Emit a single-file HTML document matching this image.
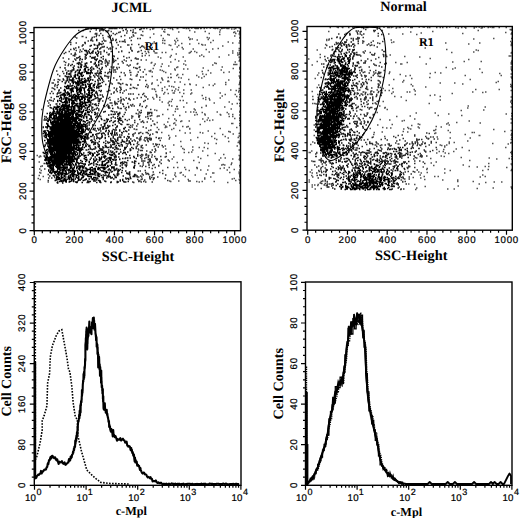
<!DOCTYPE html>
<html><head><meta charset="utf-8"><style>html,body{margin:0;padding:0;background:#fff;width:520px;height:518px;overflow:hidden}text{fill:#000}</style></head>
<body>
<svg width="520" height="518" viewBox="0 0 520 518" style="display:block" text-rendering="geometricPrecision">
<rect width="520" height="518" fill="#fff"/>
<defs><clipPath id="ctl"><rect x="34" y="27.5" width="206.5" height="203"/></clipPath><clipPath id="ctr"><rect x="307" y="26.5" width="205.3" height="204"/></clipPath></defs>
<path transform="scale(.5)" d="M365 56h3M388 56h3M412 56h3M456 57h3M304 58h3M323 58h3M462 58h3M467 58h3M299 59h3M328 59h3M344 59h3M439 60h3M378 61h3M409 63h3M474 62h3M284 63h3M326 63h3M328 64h3M356 64h3M388 64h3M438 64h3M468 64h3M466 65h3M417 67h3M470 67h3M306 68h3M438 69h3M334 69h3M337 70h3M284 71h3M321 71h3M468 72h3M299 75h3M376 75h3M413 75h3M417 76h3M325 77h3M352 77h3M379 78h3M383 78h3M378 79h3M415 79h3M328 81h3M354 81h3M393 80h3M324 81h3M348 81h3M425 81h3M307 84h3M350 84h3M455 84h3M420 85h3M464 86h3M324 86h3M304 87h3M311 87h3M328 87h3M362 87h3M396 87h3M349 88h3M378 88h3M293 89h3M402 89h3M337 90h3M404 90h3M409 90h3M340 91h3M356 91h3M444 92h3M286 93h3M286 94h3M353 94h3M288 96h3M303 95h3M363 95h3M385 98h3M435 97h3M343 99h3M365 98h3M424 98h3M294 99h3M297 99h3M411 99h3M295 103h3M306 102h3M464 102h3M289 103h3M307 103h3M381 103h3M388 103h3M296 105h3M417 104h3M478 105h3M323 105h3M330 105h3M379 105h3M392 105h3M309 106h3M312 106h3M377 106h3M464 106h3M474 106h3M291 107h3M351 108h3M402 110h3M456 110h3M474 110h3M289 111h3M297 111h3M341 111h3M398 112h3M365 114h3M406 113h3M315 114h3M339 114h3M339 114h3M437 114h3M320 116h3M349 119h3M291 120h3M356 122h3M369 122h3M340 124h3M469 124h3M302 125h3M428 126h3M301 126h3M431 127h3M309 128h3M323 128h3M366 128h3M466 129h3M469 129h3M472 129h3M370 130h3M424 130h3M307 131h3M336 132h3M321 133h3M354 134h3M443 134h3M352 135h3M405 136h3M305 137h3M465 137h3M348 138h3M366 138h3M374 138h3M288 139h3M319 140h3M323 141h3M349 140h3M441 140h3M300 141h3M415 141h3M297 142h3M299 143h3M326 143h3M403 143h3M303 144h3M457 144h3M330 145h3M420 146h3M446 145h3M291 149h3M340 148h3M404 148h3M354 149h3M364 149h3M411 149h3M352 151h3M392 151h3M303 153h3M407 153h3M341 155h3M396 154h3M335 155h3M340 155h3M356 155h3M356 155h3M322 156h3M361 156h3M402 156h3M323 158h3M376 159h3M313 160h3M324 160h3M456 160h3M335 162h3M334 163h3M336 163h3M348 164h3M359 164h3M320 165h3M450 165h3M303 166h3M302 168h3M378 168h3M428 168h3M368 169h3M379 169h3M417 170h3M450 169h3M391 170h3M315 171h3M337 172h3M425 171h3M295 172h3M342 173h3M328 174h3M346 174h3M356 175h3M405 175h3M323 177h3M303 178h3M307 178h3M350 178h3M308 179h3M333 179h3M381 180h3M460 180h3M355 180h3M366 180h3M323 181h3M343 181h3M471 181h3M348 182h3M310 183h3M476 184h3M328 185h3M358 185h3M345 186h3M347 186h3M366 187h3M382 186h3M439 186h3M335 187h3M326 188h3M380 188h3M311 189h3M449 189h3M469 189h3M312 191h3M403 191h3M363 193h3M443 192h3M472 193h3M312 194h3M318 195h3M304 195h3M410 195h3M439 196h3M405 197h3M417 197h3M306 198h3M343 199h3M410 199h3M318 200h3M418 200h3M359 201h3M365 201h3M337 203h3M341 203h3M323 204h3M389 204h3M457 204h3M372 206h3M335 206h3M427 206h3M473 207h3M463 208h3M337 210h3M337 211h3M411 211h3M342 212h3M411 212h3M352 213h3M353 213h3M366 214h3M448 214h3M402 215h3M350 218h3M354 218h3M387 218h3M387 218h3M461 218h3M82 219h3M334 219h3M308 220h3M308 220h3M389 220h3M312 221h3M349 223h3M370 224h3M380 224h3M386 224h3M433 224h3M478 224h3M391 225h3M403 225h3M453 225h3M408 228h3M456 228h3M464 229h3M324 229h3M393 229h3M439 229h3M345 230h3M388 230h3M409 230h3M440 230h3M358 231h3M314 232h3M317 232h3M313 233h3M457 233h3M464 233h3M415 236h3M478 236h3M336 237h3M348 238h3M468 237h3M404 238h3M413 240h3M424 240h3M351 241h3M418 241h3M362 242h3M377 242h3M360 243h3M408 243h3M313 245h3M334 244h3M348 246h3M346 247h3M462 247h3M464 247h3M327 249h3M399 249h3M350 250h3M338 251h3M330 252h3M364 253h3M375 253h3M332 254h3M372 254h3M313 255h3M329 255h3M472 255h3M346 257h3M378 257h3M439 257h3M378 258h3M316 259h3M342 259h3M358 261h3M415 262h3M456 263h3M459 264h3M322 265h3M399 265h3M369 266h3M379 266h3M404 266h3M428 267h3M479 267h3M465 268h3M444 269h3M336 271h3M350 272h3M422 273h3M449 273h3M338 275h3M394 275h3M455 276h3M475 275h3M317 276h3M321 276h3M428 277h3M337 278h3M432 279h3M380 280h3M360 283h3M456 283h3M477 282h3M475 285h3M408 286h3M415 287h3M431 287h3M346 290h3M329 292h3M473 292h3M361 293h3M384 294h3M397 295h3M407 295h3M364 297h3M414 297h3M330 298h3M367 299h3M384 300h3M477 300h3M404 302h3M382 304h3M339 304h3M367 305h3M376 305h3M429 307h3M446 309h3M73 311h3M414 311h3M79 312h3M80 313h3M77 314h3M346 314h3M395 314h3M440 316h3M449 316h3M400 317h3M464 318h3M343 318h3M364 320h3M386 321h3M437 320h3M77 324h3M353 325h3M397 325h3M462 326h3M445 329h3M448 330h3M461 329h3M442 330h3M416 332h3M80 333h3M457 335h3M346 335h3M354 335h3M368 335h3M392 335h3M393 336h3M439 337h3M447 336h3M393 337h3M78 338h3M467 339h3M370 339h3M400 340h3M414 340h3M453 340h3M81 341h3M377 341h3M458 345h3M78 345h3M349 346h3M361 345h3M424 346h3M80 346h3M359 346h3M426 346h3M411 348h3M389 350h3M348 350h3M365 350h3M77 351h3M85 353h3M350 353h3M369 353h3M420 354h3M408 356h3M75 357h3M467 357h3M345 358h3M408 358h3M463 358h3M79 359h3M375 359h3M470 361h3M356 362h3M338 362h3M376 362h3M379 362h3M427 363h3M340 363h3M392 363h3M403 363h3M95 364h3M397 364h3M454 365h3M478 241h3M478 156h3M478 212h3M479 358h3M478 138h3M478 106h3M479 222h3M477 114h3M477 272h3M477 359h3M478 167h3M477 109h3M478 108h3M477 152h3M478 360h3M478 251h3M479 162h3M478 353h3M477 319h3M479 118h3M477 282h3M478 361h3M478 76h3M477 177h3M478 366h3M478 316h3M477 122h3M478 189h3M478 145h3M478 165h3M479 165h3M477 199h3M478 350h3M478 351h3M479 101h3M478 354h3M478 137h3M477 347h3M478 320h3M478 207h3M477 101h3M478 340h3M477 311h3M478 287h3M478 230h3M479 362h3M479 71h3M478 120h3M478 82h3M478 75h3M478 64h3M479 144h3M478 200h3M479 266h3M478 285h3M478 331h3M478 194h3M477 285h3M478 283h3M477 86h3M477 267h3M477 344h3M478 66h3M477 169h3M478 272h3M478 63h3M479 288h3M478 237h3M478 155h3M478 82h3M478 135h3M478 247h3M477 97h3M477 115h3M479 166h3M478 312h3M477 68h3M477 267h3M477 181h3M479 334h3M447 56h3M382 56h3M305 57h3M304 57h3M395 57h3M477 56h3M442 57h3M419 56h3M390 57h3M305 56h3M452 56h3M372 57h3M448 56h3M353 57h3M285 57h3M285 57h3M407 57h3M426 56h3M444 56h3M392 57h3M429 57h3M453 57h3M371 57h3M354 57h3M376 57h3M372 56h3M401 56h3M432 56h3M456 57h3M444 56h3M335 56h3M354 56h3M470 57h3M339 57h3M376 57h3M343 57h3M400 57h3M292 57h3M434 57h3M448 56h3M367 56h3M306 57h3M287 57h3" stroke="#000" stroke-opacity="0.68" stroke-width="3" fill="none"/>
<path transform="scale(.5)" d="M207 56h3M243 57h3M181 58h3M201 58h3M278 59h3M191 60h3M202 60h3M204 59h3M250 59h3M265 60h3M280 59h3M198 60h3M200 60h3M265 60h3M156 61h3M165 61h3M205 61h3M216 61h3M245 61h3M260 61h3M198 62h3M213 62h3M253 62h3M179 63h3M211 63h3M221 63h3M214 64h3M239 64h3M265 64h3M236 65h3M264 65h3M192 67h3M252 66h3M269 66h3M270 66h3M190 67h3M200 67h3M225 67h3M232 67h3M189 68h3M229 69h3M281 70h3M192 70h3M221 71h3M265 70h3M197 71h3M204 71h3M248 71h3M266 72h3M163 73h3M164 73h3M187 74h3M191 73h3M215 73h3M241 73h3M149 74h3M219 74h3M262 74h3M171 75h3M183 75h3M217 75h3M152 76h3M205 76h3M224 77h3M258 76h3M182 78h3M274 77h3M279 77h3M231 79h3M181 79h3M225 80h3M180 81h3M206 80h3M248 80h3M182 81h3M222 81h3M230 81h3M261 81h3M175 82h3M184 82h3M208 82h3M210 82h3M203 83h3M238 83h3M243 83h3M246 83h3M249 84h3M140 85h3M168 85h3M169 85h3M219 85h3M232 85h3M151 86h3M169 87h3M205 87h3M140 89h3M262 89h3M276 89h3M164 90h3M165 90h3M235 90h3M254 90h3M256 90h3M283 92h3M163 92h3M207 93h3M282 93h3M156 94h3M156 95h3M206 94h3M224 94h3M240 94h3M213 95h3M260 95h3M279 95h3M150 96h3M219 96h3M146 97h3M231 97h3M165 98h3M216 98h3M220 98h3M260 98h3M140 99h3M147 99h3M151 101h3M159 100h3M262 101h3M207 101h3M281 101h3M242 102h3M263 102h3M137 103h3M162 103h3M207 103h3M221 103h3M242 103h3M276 103h3M158 104h3M236 104h3M274 104h3M130 105h3M212 105h3M257 105h3M149 106h3M127 107h3M141 108h3M283 107h3M217 108h3M148 109h3M150 109h3M215 109h3M216 110h3M145 111h3M148 112h3M226 112h3M283 112h3M227 113h3M246 113h3M257 115h3M257 115h3M270 116h3M125 116h3M252 116h3M225 117h3M234 117h3M269 117h3M275 118h3M136 118h3M148 118h3M272 118h3M210 119h3M247 120h3M226 120h3M281 120h3M230 121h3M230 121h3M261 121h3M209 122h3M211 122h3M217 122h3M226 122h3M251 122h3M127 123h3M145 123h3M212 123h3M227 123h3M243 123h3M130 125h3M213 125h3M225 125h3M209 126h3M216 126h3M245 126h3M214 127h3M274 127h3M136 128h3M235 128h3M273 128h3M214 130h3M259 130h3M129 130h3M135 131h3M253 130h3M210 131h3M256 132h3M211 133h3M221 134h3M226 134h3M278 134h3M119 135h3M225 135h3M232 135h3M237 135h3M266 135h3M277 135h3M128 136h3M129 136h3M225 136h3M270 136h3M273 137h3M233 138h3M272 137h3M218 139h3M130 140h3M226 140h3M229 140h3M279 140h3M258 141h3M112 142h3M124 143h3M124 143h3M218 143h3M285 144h3M226 144h3M230 144h3M275 144h3M209 145h3M215 145h3M219 145h3M241 145h3M259 145h3M260 145h3M247 146h3M126 147h3M214 147h3M114 149h3M273 149h3M249 150h3M260 150h3M208 151h3M249 151h3M118 152h3M208 152h3M210 152h3M272 152h3M271 152h3M213 153h3M216 153h3M238 153h3M280 154h3M285 154h3M215 156h3M226 156h3M115 159h3M259 158h3M240 159h3M262 159h3M107 160h3M118 160h3M232 160h3M278 160h3M216 162h3M290 161h3M206 163h3M114 164h3M115 164h3M103 166h3M105 166h3M220 166h3M235 166h3M236 166h3M237 167h3M244 167h3M223 168h3M240 168h3M109 169h3M115 169h3M210 169h3M240 169h3M251 169h3M260 169h3M292 169h3M253 170h3M260 170h3M274 170h3M275 170h3M113 171h3M108 172h3M217 173h3M290 173h3M238 174h3M113 175h3M227 176h3M240 175h3M265 175h3M268 176h3M294 175h3M103 176h3M106 177h3M232 177h3M240 177h3M259 177h3M260 177h3M272 177h3M108 179h3M241 179h3M231 180h3M251 180h3M218 181h3M239 181h3M247 182h3M102 183h3M213 183h3M233 183h3M227 184h3M239 185h3M226 186h3M244 186h3M244 186h3M99 187h3M105 187h3M256 188h3M286 187h3M221 188h3M260 188h3M265 188h3M284 189h3M276 189h3M203 190h3M288 192h3M204 193h3M205 194h3M291 194h3M291 194h3M101 195h3M218 195h3M240 195h3M273 196h3M281 195h3M251 196h3M201 197h3M215 197h3M257 197h3M235 198h3M241 199h3M245 198h3M256 198h3M266 198h3M294 198h3M241 199h3M98 200h3M101 201h3M219 200h3M247 200h3M259 200h3M101 201h3M289 201h3M94 202h3M204 202h3M239 202h3M241 202h3M228 203h3M235 203h3M286 203h3M96 206h3M219 206h3M220 206h3M222 206h3M228 206h3M230 206h3M240 206h3M232 207h3M254 207h3M279 208h3M233 208h3M244 208h3M214 209h3M229 209h3M245 209h3M264 209h3M206 211h3M260 210h3M212 211h3M223 211h3M278 211h3M95 212h3M216 212h3M262 212h3M267 212h3M292 212h3M208 213h3M246 213h3M256 213h3M283 213h3M234 214h3M251 215h3M256 215h3M290 215h3M235 216h3M249 217h3M239 217h3M241 217h3M196 218h3M300 219h3M251 220h3M274 220h3M196 221h3M281 221h3M277 224h3M294 225h3M302 225h3M238 225h3M249 225h3M281 225h3M296 225h3M299 225h3M194 226h3M279 226h3M271 227h3M294 227h3M297 227h3M302 227h3M193 228h3M275 228h3M193 229h3M247 229h3M294 229h3M198 231h3M278 231h3M302 231h3M193 232h3M200 233h3M262 232h3M276 232h3M299 232h3M88 233h3M192 233h3M199 233h3M264 233h3M294 233h3M277 234h3M276 234h3M290 234h3M262 236h3M295 237h3M88 237h3M257 239h3M300 238h3M278 239h3M268 241h3M253 241h3M284 242h3M304 242h3M197 243h3M284 243h3M281 244h3M293 244h3M268 245h3M286 245h3M274 248h3M307 248h3M256 249h3M264 250h3M308 249h3M189 251h3M260 251h3M301 251h3M272 252h3M257 254h3M263 254h3M263 254h3M285 254h3M259 255h3M291 256h3M189 257h3M267 258h3M271 259h3M272 259h3M300 260h3M188 260h3M296 261h3M191 262h3M312 264h3M311 264h3M280 265h3M291 265h3M293 265h3M313 265h3M269 266h3M277 266h3M266 268h3M276 267h3M284 267h3M295 267h3M184 269h3M264 269h3M304 268h3M299 269h3M184 270h3M185 270h3M298 271h3M265 272h3M281 273h3M292 275h3M279 275h3M291 275h3M298 276h3M311 275h3M272 276h3M273 276h3M288 276h3M295 277h3M293 277h3M301 277h3M316 277h3M277 278h3M280 278h3M280 278h3M280 279h3M293 279h3M298 279h3M301 279h3M267 280h3M287 280h3M300 280h3M278 281h3M294 281h3M319 281h3M269 282h3M289 282h3M295 283h3M274 284h3M273 287h3M305 288h3M310 288h3M275 289h3M276 289h3M313 289h3M317 289h3M317 289h3M291 290h3M283 291h3M311 291h3M323 291h3M273 292h3M281 292h3M307 293h3M271 294h3M315 294h3M325 294h3M281 295h3M284 296h3M271 297h3M275 298h3M309 298h3M276 300h3M276 300h3M303 300h3M310 301h3M280 301h3M283 301h3M292 302h3M274 304h3M299 304h3M308 304h3M299 305h3M301 305h3M331 306h3M331 307h3M291 308h3M282 309h3M303 310h3M283 310h3M284 310h3M290 310h3M292 310h3M279 311h3M296 311h3M282 313h3M295 313h3M308 313h3M320 313h3M331 313h3M302 314h3M329 314h3M280 315h3M291 315h3M295 315h3M288 317h3M310 317h3M282 318h3M298 318h3M313 318h3M295 319h3M299 319h3M298 321h3M312 320h3M321 320h3M335 320h3M282 322h3M285 322h3M288 322h3M288 322h3M299 322h3M337 322h3M297 323h3M294 325h3M318 324h3M301 325h3M285 326h3M296 326h3M321 327h3M87 327h3M307 329h3M285 330h3M296 330h3M297 330h3M304 331h3M316 331h3M83 332h3M279 332h3M316 332h3M283 333h3M290 333h3M334 335h3M297 335h3M309 335h3M303 337h3M88 338h3M289 341h3M324 341h3M275 342h3M279 342h3M305 344h3M290 345h3M318 345h3M294 347h3M324 347h3M283 348h3M291 348h3M295 348h3M95 349h3M296 349h3M306 349h3M305 349h3M285 350h3M330 350h3M303 351h3M98 352h3M272 352h3M273 352h3M280 352h3M298 353h3M273 354h3M276 354h3M282 354h3M314 354h3M102 356h3M108 355h3M302 355h3M96 356h3M298 356h3M306 356h3M307 356h3M306 357h3M329 357h3M274 359h3M283 358h3M299 358h3M281 359h3M305 359h3M288 360h3M95 361h3M334 361h3M276 362h3M278 362h3M276 363h3M286 363h3M264 364h3M281 364h3M290 364h3M303 364h3M266 365h3M229 57h3M227 57h3M224 56h3M251 58h3M203 57h3M190 56h3M217 57h3M191 57h3M227 57h3M223 57h3M190 56h3M230 57h3M232 57h3M281 57h3M269 57h3M222 57h3M173 57h3M174 57h3M238 56h3M171 56h3M175 57h3M170 56h3M219 57h3M222 57h3M202 58h3M209 56h3M187 57h3" stroke="#000" stroke-opacity="0.8" stroke-width="3" fill="none"/>
<path transform="scale(.5)" d="M192 79h3M192 81h3M197 86h3M200 88h3M187 89h3M197 89h3M202 89h3M188 90h3M196 90h3M181 91h3M193 91h3M179 92h3M179 92h3M194 94h3M203 94h3M200 96h3M190 97h3M193 97h3M187 98h3M198 98h3M178 99h3M168 101h3M171 101h3M175 102h3M185 102h3M194 102h3M171 103h3M184 103h3M177 104h3M190 105h3M196 104h3M200 104h3M173 105h3M182 105h3M190 106h3M177 106h3M184 106h3M195 107h3M173 107h3M173 108h3M180 107h3M192 109h3M200 108h3M170 110h3M169 109h3M193 109h3M171 111h3M158 113h3M194 112h3M179 113h3M205 113h3M169 114h3M189 114h3M156 115h3M171 116h3M183 115h3M186 115h3M187 115h3M201 115h3M152 116h3M153 116h3M171 116h3M182 116h3M185 116h3M159 117h3M169 118h3M188 118h3M191 119h3M193 118h3M205 118h3M163 119h3M189 119h3M150 120h3M158 120h3M191 121h3M198 121h3M201 122h3M162 124h3M196 123h3M180 124h3M181 124h3M203 124h3M157 125h3M189 125h3M196 125h3M155 126h3M158 126h3M169 127h3M172 126h3M153 127h3M156 127h3M172 127h3M189 127h3M143 129h3M160 128h3M187 128h3M201 128h3M202 128h3M156 129h3M161 129h3M196 129h3M162 130h3M169 130h3M191 130h3M196 131h3M140 131h3M147 132h3M161 132h3M169 132h3M171 132h3M190 132h3M192 132h3M160 133h3M167 133h3M182 134h3M155 134h3M155 134h3M160 134h3M173 135h3M145 135h3M156 135h3M161 135h3M171 135h3M174 135h3M193 135h3M203 135h3M180 136h3M146 137h3M180 137h3M185 137h3M197 137h3M186 138h3M202 138h3M143 140h3M146 140h3M154 140h3M182 140h3M199 140h3M135 142h3M140 142h3M153 141h3M139 142h3M194 142h3M142 143h3M150 143h3M201 143h3M199 144h3M132 145h3M149 145h3M140 146h3M183 146h3M193 146h3M197 146h3M138 147h3M189 147h3M190 147h3M198 147h3M201 147h3M132 148h3M136 148h3M137 148h3M196 148h3M138 149h3M140 150h3M191 150h3M129 152h3M186 151h3M196 152h3M194 152h3M196 152h3M131 153h3M135 153h3M137 154h3M141 153h3M200 153h3M134 154h3M140 154h3M188 154h3M133 155h3M196 156h3M201 155h3M133 157h3M125 158h3M197 157h3M202 157h3M203 157h3M137 158h3M133 160h3M199 160h3M126 160h3M194 160h3M204 160h3M134 161h3M123 163h3M131 162h3M195 162h3M189 163h3M129 165h3M130 165h3M203 165h3M195 166h3M129 167h3M198 167h3M199 167h3M188 168h3M195 168h3M196 169h3M194 170h3M187 171h3M128 173h3M196 173h3M201 172h3M192 173h3M198 173h3M130 174h3M120 176h3M187 175h3M192 176h3M195 175h3M196 176h3M117 180h3M187 181h3M197 181h3M201 181h3M116 182h3M191 183h3M200 183h3M120 185h3M192 185h3M114 186h3M115 186h3M118 186h3M190 186h3M113 188h3M193 188h3M187 189h3M187 190h3M199 190h3M119 191h3M194 191h3M188 192h3M112 193h3M115 193h3M189 193h3M194 195h3M191 196h3M107 198h3M189 197h3M186 199h3M195 198h3M198 198h3M199 198h3M184 200h3M105 202h3M197 202h3M198 201h3M195 202h3M197 203h3M184 208h3M196 207h3M190 208h3M188 209h3M99 210h3M195 211h3M191 211h3M182 214h3M215 213h3M216 213h3M215 214h3M99 215h3M184 215h3M216 215h3M101 216h3M193 216h3M216 216h3M218 216h3M224 217h3M182 218h3M191 218h3M187 219h3M184 221h3M180 222h3M209 223h3M221 222h3M224 223h3M182 225h3M206 224h3M228 224h3M232 224h3M99 225h3M189 225h3M188 225h3M93 227h3M236 227h3M98 227h3M98 227h3M190 227h3M238 227h3M226 229h3M229 228h3M234 228h3M188 229h3M189 229h3M216 230h3M221 229h3M225 229h3M235 229h3M236 230h3M180 232h3M181 233h3M234 233h3M244 233h3M91 234h3M181 234h3M225 234h3M181 235h3M190 235h3M229 236h3M238 235h3M221 236h3M93 237h3M201 237h3M234 237h3M236 238h3M238 237h3M240 237h3M178 238h3M180 238h3M182 238h3M212 238h3M238 238h3M202 239h3M215 239h3M249 239h3M87 240h3M90 240h3M91 240h3M183 240h3M207 241h3M213 240h3M213 240h3M236 240h3M239 241h3M208 241h3M213 241h3M221 241h3M242 241h3M187 242h3M229 242h3M235 243h3M181 243h3M213 243h3M218 243h3M227 243h3M177 244h3M244 244h3M211 245h3M225 245h3M174 246h3M178 246h3M209 247h3M237 246h3M207 247h3M240 248h3M208 249h3M229 249h3M242 249h3M253 249h3M177 250h3M184 250h3M201 250h3M214 251h3M224 251h3M208 252h3M218 252h3M233 252h3M206 253h3M215 253h3M216 253h3M233 253h3M85 254h3M85 255h3M203 254h3M232 254h3M215 255h3M249 255h3M173 256h3M199 256h3M205 256h3M210 256h3M213 256h3M230 256h3M177 257h3M186 257h3M194 257h3M211 257h3M246 257h3M199 258h3M204 258h3M206 258h3M247 258h3M174 259h3M185 259h3M225 259h3M176 260h3M196 260h3M228 260h3M231 260h3M238 260h3M256 260h3M200 262h3M211 261h3M216 261h3M238 262h3M87 262h3M87 263h3M223 262h3M250 262h3M86 263h3M210 263h3M217 263h3M246 263h3M252 263h3M179 264h3M179 264h3M180 265h3M228 264h3M242 265h3M181 265h3M223 265h3M198 266h3M205 266h3M215 266h3M232 266h3M243 266h3M85 267h3M195 267h3M202 267h3M207 267h3M220 267h3M223 267h3M228 267h3M232 267h3M256 268h3M172 268h3M173 268h3M192 268h3M190 269h3M202 269h3M215 269h3M227 270h3M238 270h3M171 270h3M184 270h3M209 270h3M222 270h3M229 270h3M233 270h3M242 270h3M174 272h3M192 272h3M203 272h3M180 273h3M182 273h3M216 273h3M225 273h3M240 274h3M254 273h3M187 274h3M193 275h3M203 274h3M202 274h3M237 274h3M247 274h3M257 274h3M174 275h3M196 276h3M209 275h3M240 275h3M176 276h3M201 276h3M225 276h3M234 276h3M256 276h3M187 278h3M192 277h3M198 277h3M209 277h3M220 277h3M228 278h3M252 277h3M174 278h3M198 278h3M234 279h3M260 278h3M243 280h3M182 280h3M220 280h3M230 280h3M234 281h3M253 280h3M180 281h3M189 281h3M223 281h3M257 282h3M197 283h3M210 282h3M222 282h3M221 282h3M223 282h3M225 282h3M230 282h3M231 283h3M252 282h3M263 282h3M183 283h3M183 283h3M186 284h3M226 283h3M243 283h3M246 283h3M170 284h3M183 284h3M214 284h3M224 284h3M224 284h3M247 284h3M248 284h3M257 284h3M182 285h3M190 285h3M206 285h3M218 285h3M225 285h3M227 285h3M241 285h3M259 285h3M187 286h3M194 286h3M215 286h3M227 286h3M233 286h3M257 286h3M259 286h3M171 287h3M210 287h3M228 287h3M234 287h3M236 287h3M251 287h3M188 288h3M189 288h3M227 289h3M254 288h3M260 289h3M174 289h3M186 289h3M195 289h3M224 289h3M241 289h3M266 289h3M170 290h3M197 290h3M220 290h3M243 290h3M178 291h3M209 291h3M231 291h3M236 291h3M171 292h3M176 292h3M195 293h3M210 292h3M221 292h3M221 292h3M238 292h3M243 292h3M253 292h3M170 293h3M177 293h3M178 293h3M197 293h3M211 293h3M189 294h3M196 294h3M204 294h3M210 294h3M213 295h3M219 294h3M221 294h3M229 294h3M232 295h3M251 295h3M190 296h3M206 295h3M215 295h3M219 295h3M224 296h3M225 296h3M248 295h3M262 295h3M179 296h3M248 296h3M265 297h3M198 297h3M200 298h3M231 297h3M180 298h3M186 298h3M188 298h3M203 298h3M204 298h3M233 298h3M235 298h3M248 298h3M249 298h3M249 298h3M259 298h3M176 299h3M183 299h3M216 300h3M228 299h3M239 299h3M171 300h3M172 300h3M197 301h3M200 300h3M260 300h3M198 301h3M203 301h3M246 301h3M259 301h3M196 302h3M206 302h3M220 302h3M192 303h3M206 303h3M211 303h3M224 303h3M232 303h3M240 304h3M254 304h3M177 304h3M216 304h3M231 304h3M254 304h3M175 305h3M180 305h3M221 305h3M223 305h3M246 305h3M249 305h3M166 306h3M226 307h3M227 306h3M249 306h3M237 307h3M244 307h3M236 308h3M228 309h3M251 309h3M274 309h3M224 310h3M230 311h3M258 311h3M274 312h3M227 313h3M228 314h3M266 313h3M231 314h3M236 314h3M267 315h3M228 316h3M244 317h3M250 316h3M254 316h3M259 316h3M249 317h3M271 317h3M238 318h3M231 319h3M238 319h3M229 320h3M229 320h3M230 320h3M230 321h3M254 321h3M268 322h3M270 323h3M244 324h3M248 324h3M263 324h3M230 325h3M241 325h3M251 325h3M267 325h3M240 326h3M244 326h3M244 326h3M252 326h3M240 327h3M245 327h3M246 327h3M268 327h3M276 327h3M230 328h3M229 329h3M230 330h3M232 330h3M243 330h3M249 330h3M252 330h3M251 332h3M268 331h3M239 332h3M251 333h3M267 333h3M227 334h3M243 335h3M266 335h3M226 336h3M244 336h3M244 336h3M267 336h3M232 337h3M227 338h3M231 338h3M235 339h3M239 339h3M229 340h3M230 340h3M227 341h3M237 341h3M243 341h3M234 342h3M250 342h3M223 343h3M235 343h3M221 344h3M258 344h3M217 345h3M242 345h3M252 346h3M257 345h3M217 346h3M234 346h3M217 347h3M253 347h3M226 349h3M233 348h3M236 348h3M255 348h3M258 348h3M268 349h3M205 350h3M210 350h3M216 350h3M228 351h3M258 350h3M270 350h3M208 351h3M233 351h3M234 351h3M267 351h3M213 352h3M218 353h3M245 352h3M265 353h3M268 353h3M268 352h3M268 352h3M213 353h3M215 353h3M219 353h3M205 354h3M216 354h3M229 354h3M230 354h3M259 354h3M203 355h3M204 355h3M223 355h3M229 355h3M231 355h3M193 356h3M205 357h3M212 356h3M220 356h3M222 356h3M250 356h3M185 358h3M189 358h3M194 357h3M254 357h3M256 357h3M260 357h3M192 358h3M226 358h3M251 358h3M183 359h3M187 359h3M205 359h3M244 359h3M256 359h3M192 360h3M239 360h3M196 361h3M197 361h3M244 361h3M174 362h3M186 362h3M189 362h3M199 362h3M208 362h3M210 363h3M239 362h3M177 363h3M179 363h3M233 363h3M246 363h3M250 364h3M255 363h3M175 364h3M175 365h3M198 364h3M221 364h3M235 364h3M247 364h3M173 365h3M176 365h3M192 365h3M200 365h3M220 365h3M233 365h3" stroke="#000" stroke-opacity="0.92" stroke-width="3" fill="none"/>
<path transform="scale(.5)" d="M169 137h3M169 137h3M168 138h3M159 139h3M169 140h3M176 139h3M159 140h3M167 140h3M168 140h3M175 140h3M157 141h3M180 141h3M170 143h3M181 144h3M157 144h3M167 144h3M172 144h3M172 144h3M163 145h3M175 145h3M180 145h3M155 146h3M161 146h3M161 146h3M161 146h3M174 147h3M178 146h3M158 147h3M172 147h3M175 147h3M175 147h3M179 147h3M160 148h3M162 148h3M179 148h3M149 149h3M154 149h3M150 150h3M154 151h3M161 151h3M165 151h3M147 152h3M149 152h3M161 152h3M163 153h3M178 152h3M157 153h3M148 154h3M149 154h3M180 154h3M145 156h3M157 156h3M156 156h3M175 156h3M178 156h3M144 157h3M151 157h3M155 157h3M168 157h3M174 157h3M175 158h3M161 158h3M162 158h3M164 158h3M157 159h3M180 159h3M138 160h3M140 160h3M143 160h3M146 160h3M170 160h3M175 160h3M175 161h3M179 160h3M184 160h3M141 161h3M161 161h3M168 161h3M154 162h3M158 162h3M169 162h3M172 162h3M172 162h3M177 162h3M144 163h3M147 164h3M157 164h3M157 163h3M163 163h3M164 163h3M165 164h3M166 164h3M136 164h3M143 164h3M149 164h3M154 164h3M160 165h3M164 165h3M177 164h3M151 165h3M167 165h3M169 165h3M170 165h3M169 165h3M145 166h3M150 166h3M154 166h3M161 166h3M182 167h3M145 167h3M154 167h3M156 167h3M156 167h3M158 168h3M174 168h3M139 168h3M151 168h3M157 168h3M158 168h3M163 168h3M179 168h3M156 169h3M165 169h3M169 169h3M177 169h3M154 170h3M163 170h3M165 170h3M169 170h3M177 170h3M179 171h3M186 170h3M134 171h3M144 171h3M156 171h3M170 171h3M135 172h3M137 172h3M139 172h3M142 172h3M142 172h3M148 173h3M152 172h3M160 172h3M185 172h3M132 173h3M136 173h3M160 174h3M170 173h3M176 173h3M132 174h3M152 174h3M171 174h3M179 174h3M159 175h3M163 175h3M136 176h3M143 176h3M145 176h3M149 176h3M151 176h3M151 176h3M154 176h3M154 176h3M165 176h3M168 176h3M178 176h3M182 176h3M132 177h3M133 177h3M135 177h3M142 177h3M158 177h3M176 177h3M180 177h3M128 179h3M139 178h3M139 178h3M141 178h3M152 179h3M154 179h3M160 178h3M161 178h3M161 179h3M167 178h3M182 178h3M141 179h3M144 179h3M143 179h3M157 179h3M157 179h3M176 179h3M139 180h3M141 180h3M161 181h3M167 180h3M174 180h3M176 181h3M185 180h3M127 181h3M129 182h3M141 181h3M153 181h3M157 181h3M158 181h3M159 181h3M161 181h3M178 181h3M182 181h3M141 182h3M144 182h3M152 182h3M160 182h3M185 182h3M185 182h3M186 182h3M134 184h3M141 183h3M145 183h3M152 183h3M158 183h3M159 183h3M168 183h3M129 184h3M157 184h3M158 184h3M177 184h3M168 186h3M176 185h3M183 185h3M132 186h3M135 186h3M141 186h3M141 186h3M153 186h3M154 186h3M154 186h3M160 186h3M181 186h3M125 187h3M128 187h3M137 187h3M137 187h3M160 187h3M177 187h3M127 188h3M163 188h3M172 188h3M123 189h3M133 190h3M135 189h3M148 189h3M154 189h3M157 189h3M168 190h3M175 189h3M177 189h3M183 189h3M121 190h3M124 190h3M129 190h3M133 190h3M138 190h3M142 190h3M146 190h3M167 190h3M167 190h3M127 191h3M129 191h3M150 191h3M151 191h3M177 191h3M180 191h3M182 192h3M140 192h3M146 192h3M155 192h3M160 193h3M164 192h3M174 192h3M137 193h3M138 193h3M144 193h3M151 193h3M152 193h3M159 193h3M162 193h3M170 193h3M120 194h3M127 194h3M131 195h3M142 194h3M148 194h3M157 194h3M164 195h3M166 194h3M168 194h3M170 194h3M173 194h3M180 194h3M180 194h3M121 195h3M142 196h3M148 195h3M153 195h3M153 195h3M155 195h3M156 195h3M162 195h3M167 195h3M166 195h3M167 196h3M178 195h3M181 195h3M129 196h3M130 196h3M133 196h3M133 196h3M134 196h3M143 196h3M145 196h3M145 196h3M146 196h3M149 196h3M162 196h3M163 196h3M167 196h3M175 196h3M118 197h3M118 197h3M122 197h3M155 197h3M178 197h3M126 198h3M126 198h3M131 198h3M135 198h3M138 198h3M142 198h3M149 198h3M152 198h3M153 198h3M157 198h3M162 199h3M163 198h3M169 198h3M122 199h3M130 199h3M131 199h3M136 199h3M136 200h3M139 199h3M148 200h3M158 199h3M159 199h3M168 199h3M174 199h3M176 200h3M135 200h3M150 201h3M175 200h3M174 200h3M114 201h3M118 201h3M131 201h3M138 201h3M142 201h3M145 201h3M158 201h3M159 201h3M177 201h3M181 201h3M120 202h3M130 202h3M137 202h3M143 202h3M145 202h3M146 202h3M152 202h3M159 203h3M167 202h3M175 202h3M114 203h3M121 203h3M128 203h3M129 203h3M132 203h3M137 203h3M144 204h3M163 204h3M129 204h3M133 204h3M159 205h3M161 204h3M163 204h3M168 204h3M175 204h3M177 204h3M179 204h3M123 205h3M123 205h3M126 205h3M128 205h3M132 205h3M137 205h3M143 205h3M147 205h3M160 205h3M168 206h3M170 205h3M171 205h3M174 205h3M180 205h3M131 206h3M133 206h3M142 206h3M143 206h3M160 207h3M165 207h3M164 206h3M166 206h3M169 206h3M180 206h3M142 207h3M144 207h3M148 207h3M153 207h3M157 207h3M157 207h3M111 208h3M112 208h3M118 208h3M130 208h3M143 209h3M145 208h3M151 208h3M157 208h3M163 209h3M177 209h3M124 209h3M130 209h3M129 209h3M137 209h3M143 209h3M143 210h3M152 210h3M169 209h3M170 209h3M126 210h3M127 210h3M132 210h3M151 210h3M159 210h3M161 210h3M170 210h3M180 210h3M123 211h3M123 211h3M129 211h3M131 212h3M134 211h3M136 211h3M137 211h3M150 211h3M149 211h3M153 211h3M162 211h3M162 211h3M170 211h3M172 211h3M113 212h3M121 212h3M126 212h3M126 212h3M135 212h3M148 212h3M154 212h3M157 212h3M166 212h3M178 212h3M178 212h3M114 213h3M117 213h3M121 214h3M123 213h3M124 213h3M128 213h3M131 214h3M134 213h3M134 213h3M135 214h3M142 213h3M145 213h3M147 213h3M153 213h3M157 213h3M158 213h3M159 213h3M163 214h3M166 213h3M167 213h3M176 213h3M107 214h3M108 214h3M135 214h3M138 214h3M140 214h3M146 214h3M162 214h3M173 215h3M176 214h3M107 215h3M111 215h3M113 215h3M116 215h3M125 215h3M134 215h3M134 215h3M135 216h3M148 215h3M155 215h3M157 215h3M158 216h3M112 216h3M120 216h3M127 216h3M129 217h3M131 216h3M142 216h3M148 216h3M155 216h3M158 216h3M169 216h3M169 216h3M105 217h3M128 217h3M128 217h3M146 217h3M157 217h3M158 217h3M162 217h3M162 217h3M173 218h3M105 218h3M110 218h3M112 218h3M118 218h3M124 218h3M128 218h3M128 218h3M133 218h3M132 218h3M136 218h3M137 219h3M141 218h3M146 218h3M148 218h3M157 218h3M161 218h3M114 219h3M121 219h3M127 219h3M134 219h3M140 219h3M146 219h3M145 220h3M145 219h3M148 219h3M161 219h3M177 219h3M106 220h3M124 220h3M123 220h3M128 221h3M133 220h3M138 220h3M138 220h3M141 220h3M145 220h3M147 220h3M155 221h3M156 220h3M157 220h3M166 220h3M113 221h3M118 221h3M119 221h3M127 221h3M141 221h3M144 221h3M146 221h3M147 221h3M148 221h3M152 221h3M155 221h3M156 221h3M155 222h3M158 221h3M170 221h3M172 221h3M117 222h3M119 222h3M128 222h3M128 222h3M131 222h3M136 222h3M143 222h3M143 222h3M158 222h3M105 223h3M107 223h3M122 223h3M123 223h3M133 223h3M141 223h3M145 223h3M146 223h3M146 223h3M148 223h3M149 223h3M163 223h3M165 223h3M174 223h3M111 224h3M113 224h3M114 224h3M123 224h3M123 224h3M129 224h3M130 224h3M131 224h3M136 225h3M145 224h3M156 224h3M158 224h3M160 224h3M162 224h3M176 224h3M177 224h3M113 225h3M117 225h3M124 225h3M129 225h3M137 225h3M138 226h3M138 225h3M142 225h3M142 225h3M145 225h3M162 225h3M174 225h3M176 225h3M103 226h3M106 226h3M118 226h3M120 226h3M123 226h3M128 226h3M132 227h3M135 226h3M135 226h3M139 226h3M147 226h3M148 226h3M152 226h3M154 226h3M154 226h3M163 226h3M169 227h3M170 226h3M104 228h3M105 227h3M109 227h3M114 227h3M133 227h3M141 227h3M142 227h3M145 227h3M145 227h3M154 227h3M102 228h3M112 228h3M116 228h3M117 228h3M123 228h3M123 228h3M124 228h3M128 228h3M131 228h3M131 229h3M132 228h3M134 228h3M135 228h3M139 228h3M141 228h3M143 228h3M150 229h3M151 228h3M151 228h3M154 228h3M158 229h3M168 228h3M99 229h3M102 229h3M111 229h3M118 229h3M117 229h3M118 229h3M120 229h3M127 229h3M128 229h3M129 229h3M134 229h3M134 229h3M135 230h3M136 229h3M138 229h3M140 229h3M145 229h3M152 229h3M157 229h3M161 229h3M161 229h3M170 229h3M175 229h3M98 231h3M105 230h3M117 230h3M119 230h3M121 230h3M122 231h3M122 230h3M131 230h3M131 230h3M134 230h3M150 230h3M150 230h3M155 231h3M157 230h3M159 230h3M177 230h3M101 231h3M107 231h3M110 231h3M110 231h3M117 231h3M123 232h3M125 231h3M124 231h3M127 231h3M140 231h3M140 231h3M144 231h3M163 231h3M167 231h3M98 232h3M99 232h3M100 233h3M111 232h3M111 232h3M122 232h3M124 232h3M128 232h3M130 233h3M132 232h3M134 232h3M137 232h3M151 232h3M152 233h3M156 232h3M158 232h3M158 233h3M98 233h3M108 234h3M116 233h3M119 233h3M128 233h3M128 233h3M132 233h3M135 233h3M136 233h3M142 233h3M143 233h3M144 233h3M144 233h3M145 233h3M145 233h3M151 233h3M154 233h3M160 233h3M171 233h3M172 233h3M106 234h3M115 234h3M118 235h3M120 234h3M120 234h3M124 234h3M123 235h3M126 234h3M132 234h3M133 235h3M134 234h3M142 234h3M143 234h3M145 234h3M151 234h3M153 234h3M162 234h3M166 234h3M99 235h3M101 235h3M106 235h3M112 235h3M117 235h3M117 236h3M117 235h3M121 235h3M128 235h3M129 236h3M138 235h3M139 235h3M143 235h3M146 236h3M149 235h3M153 235h3M153 235h3M97 236h3M98 236h3M109 236h3M110 236h3M110 236h3M112 236h3M112 236h3M113 236h3M114 236h3M116 236h3M115 236h3M120 236h3M121 236h3M129 236h3M130 236h3M135 236h3M137 236h3M137 236h3M140 236h3M140 236h3M149 236h3M155 236h3M166 236h3M172 236h3M103 237h3M108 237h3M114 237h3M120 237h3M121 237h3M122 237h3M124 237h3M134 238h3M135 237h3M135 237h3M137 238h3M139 237h3M138 237h3M138 237h3M142 237h3M142 237h3M147 237h3M152 237h3M154 237h3M104 238h3M106 238h3M110 238h3M117 238h3M126 239h3M129 238h3M128 239h3M128 238h3M130 238h3M130 238h3M130 238h3M131 238h3M131 238h3M133 238h3M133 238h3M134 238h3M134 238h3M135 238h3M138 238h3M140 238h3M143 238h3M150 238h3M152 238h3M158 238h3M157 238h3M97 239h3M108 239h3M113 239h3M117 239h3M119 239h3M121 239h3M123 239h3M123 239h3M124 239h3M126 239h3M127 239h3M128 239h3M131 239h3M132 239h3M133 240h3M133 239h3M134 239h3M136 239h3M138 240h3M138 239h3M139 240h3M138 239h3M138 239h3M139 239h3M143 239h3M146 239h3M149 239h3M151 239h3M159 239h3M162 239h3M95 240h3M97 240h3M100 240h3M116 240h3M117 240h3M118 240h3M122 240h3M121 241h3M123 240h3M125 240h3M125 240h3M126 240h3M132 240h3M132 240h3M133 240h3M134 240h3M136 240h3M138 240h3M161 240h3M119 241h3M120 241h3M120 241h3M122 242h3M125 241h3M127 241h3M127 241h3M128 241h3M129 241h3M131 241h3M137 241h3M138 241h3M140 241h3M140 242h3M145 241h3M151 241h3M156 241h3M157 241h3M157 241h3M161 241h3M172 241h3M174 241h3M94 242h3M95 243h3M100 242h3M106 242h3M108 242h3M111 242h3M111 243h3M114 242h3M120 242h3M120 242h3M122 243h3M122 242h3M123 242h3M131 242h3M131 242h3M132 242h3M135 242h3M136 242h3M140 242h3M140 242h3M144 242h3M145 242h3M147 242h3M148 242h3M150 242h3M150 242h3M165 242h3M104 243h3M106 243h3M106 243h3M108 243h3M113 243h3M116 243h3M120 243h3M120 243h3M120 243h3M123 243h3M128 243h3M134 243h3M133 243h3M134 243h3M136 244h3M136 243h3M136 243h3M138 243h3M140 243h3M141 243h3M147 243h3M147 243h3M147 243h3M147 243h3M152 243h3M159 243h3M159 243h3M165 243h3M167 243h3M101 245h3M109 244h3M109 244h3M111 245h3M112 244h3M113 244h3M115 244h3M121 244h3M122 244h3M121 244h3M122 244h3M124 245h3M126 244h3M125 244h3M127 244h3M128 244h3M129 244h3M129 244h3M131 244h3M131 244h3M134 244h3M135 244h3M136 244h3M137 244h3M137 244h3M138 244h3M152 244h3M152 244h3M153 244h3M159 244h3M169 244h3M100 245h3M103 245h3M108 245h3M113 245h3M113 245h3M114 245h3M115 245h3M114 245h3M122 245h3M123 245h3M124 245h3M125 245h3M126 245h3M130 245h3M139 245h3M139 245h3M139 245h3M140 245h3M141 245h3M142 245h3M143 245h3M143 245h3M150 245h3M92 247h3M101 246h3M103 247h3M106 246h3M106 246h3M112 246h3M112 246h3M113 246h3M115 246h3M117 246h3M118 246h3M122 246h3M124 246h3M123 246h3M124 247h3M126 246h3M127 246h3M127 246h3M128 246h3M128 246h3M129 247h3M131 246h3M132 246h3M133 246h3M138 246h3M139 246h3M140 246h3M141 246h3M143 246h3M149 246h3M150 246h3M153 246h3M156 246h3M101 247h3M104 247h3M111 247h3M114 247h3M119 247h3M121 247h3M121 247h3M126 247h3M127 247h3M130 247h3M131 247h3M133 247h3M135 248h3M135 247h3M136 247h3M137 247h3M137 247h3M142 247h3M146 247h3M146 247h3M147 247h3M149 247h3M152 247h3M153 247h3M154 247h3M154 247h3M155 247h3M159 248h3M159 247h3M93 248h3M94 248h3M101 248h3M105 248h3M106 248h3M109 249h3M110 248h3M111 248h3M114 249h3M116 248h3M117 248h3M119 248h3M118 249h3M120 248h3M120 248h3M120 248h3M122 248h3M122 249h3M124 248h3M125 248h3M126 248h3M125 248h3M128 248h3M131 248h3M131 248h3M131 248h3M131 248h3M132 248h3M133 248h3M134 248h3M133 248h3M137 248h3M138 248h3M140 248h3M140 248h3M154 248h3M154 248h3M159 248h3M161 249h3M166 248h3M168 249h3M172 248h3M104 249h3M105 250h3M106 250h3M106 249h3M107 249h3M108 249h3M109 249h3M111 249h3M118 249h3M120 249h3M121 249h3M123 249h3M126 249h3M128 249h3M129 249h3M130 249h3M129 250h3M130 249h3M130 249h3M132 249h3M132 249h3M133 249h3M137 250h3M138 249h3M140 249h3M139 249h3M141 249h3M142 249h3M148 249h3M156 249h3M165 249h3M169 249h3M108 251h3M113 250h3M115 250h3M114 250h3M118 251h3M123 250h3M123 250h3M124 250h3M125 250h3M127 250h3M127 250h3M127 250h3M129 250h3M129 250h3M129 250h3M131 250h3M134 250h3M134 250h3M136 251h3M136 250h3M139 250h3M140 250h3M139 250h3M141 250h3M141 250h3M146 250h3M147 250h3M149 250h3M151 251h3M154 251h3M155 250h3M157 250h3M164 250h3M94 251h3M95 251h3M103 251h3M105 251h3M104 251h3M106 251h3M107 252h3M110 251h3M116 251h3M119 251h3M121 251h3M122 251h3M124 252h3M131 251h3M133 251h3M133 251h3M134 251h3M136 251h3M137 251h3M140 251h3M139 251h3M142 251h3M143 252h3M142 252h3M145 251h3M147 251h3M149 251h3M150 251h3M156 251h3M161 251h3M169 251h3M105 252h3M109 252h3M109 253h3M110 253h3M112 252h3M112 252h3M113 252h3M116 252h3M124 252h3M125 252h3M125 252h3M125 252h3M127 252h3M127 252h3M129 253h3M129 252h3M131 252h3M132 252h3M137 252h3M143 252h3M151 252h3M152 252h3M157 252h3M160 252h3M169 252h3M170 252h3M171 252h3M173 252h3M95 253h3M97 253h3M105 254h3M109 253h3M109 253h3M111 253h3M114 253h3M113 253h3M120 253h3M122 253h3M125 253h3M124 253h3M129 253h3M129 253h3M131 253h3M130 253h3M130 253h3M132 253h3M134 253h3M134 254h3M134 253h3M134 253h3M136 253h3M136 253h3M136 253h3M137 253h3M138 253h3M140 253h3M142 253h3M146 253h3M147 253h3M146 253h3M147 253h3M160 254h3M162 253h3M163 253h3M166 253h3M166 253h3M90 254h3M92 254h3M100 254h3M101 254h3M101 254h3M104 254h3M105 254h3M106 254h3M110 254h3M111 254h3M111 254h3M115 254h3M115 255h3M119 254h3M121 254h3M122 254h3M125 254h3M126 254h3M126 255h3M127 254h3M128 254h3M131 254h3M131 254h3M131 255h3M133 254h3M134 254h3M134 254h3M135 254h3M138 254h3M142 254h3M145 254h3M147 254h3M147 254h3M151 254h3M154 254h3M156 254h3M157 254h3M160 254h3M164 254h3M100 256h3M105 255h3M106 255h3M106 255h3M108 255h3M108 255h3M108 255h3M111 255h3M116 255h3M115 255h3M118 255h3M118 255h3M120 255h3M119 255h3M122 255h3M121 255h3M123 255h3M123 255h3M124 255h3M123 255h3M125 255h3M124 255h3M125 256h3M125 255h3M125 255h3M128 255h3M131 255h3M131 255h3M133 255h3M137 255h3M136 255h3M137 256h3M137 255h3M139 255h3M140 255h3M140 255h3M140 255h3M142 256h3M142 255h3M143 255h3M154 255h3M158 255h3M159 255h3M170 255h3M93 256h3M99 256h3M102 256h3M104 256h3M107 256h3M108 256h3M109 256h3M114 257h3M114 256h3M116 256h3M118 256h3M118 256h3M118 256h3M119 256h3M120 256h3M121 256h3M121 256h3M122 256h3M122 256h3M123 256h3M124 256h3M125 256h3M127 257h3M128 256h3M127 256h3M130 256h3M130 256h3M130 256h3M133 256h3M133 256h3M135 256h3M134 256h3M136 257h3M135 257h3M139 256h3M141 256h3M145 256h3M145 256h3M147 256h3M149 256h3M149 256h3M153 256h3M156 256h3M159 256h3M160 256h3M162 256h3M162 256h3M104 257h3M105 257h3M105 258h3M108 257h3M110 257h3M114 257h3M115 257h3M115 257h3M115 257h3M115 257h3M116 257h3M119 257h3M119 257h3M122 257h3M122 257h3M123 257h3M125 258h3M126 257h3M127 257h3M131 257h3M133 257h3M135 257h3M135 257h3M136 257h3M137 258h3M136 258h3M137 257h3M138 257h3M142 257h3M146 257h3M145 257h3M146 258h3M154 257h3M156 257h3M158 257h3M99 258h3M100 258h3M102 259h3M102 259h3M108 258h3M112 258h3M114 258h3M113 258h3M116 259h3M118 258h3M120 258h3M120 258h3M124 258h3M123 258h3M124 258h3M125 258h3M125 258h3M127 258h3M127 258h3M127 258h3M129 258h3M130 258h3M130 258h3M132 258h3M133 259h3M134 258h3M135 258h3M134 259h3M135 258h3M134 258h3M137 258h3M137 258h3M137 258h3M141 259h3M143 258h3M142 258h3M143 258h3M146 258h3M146 258h3M153 258h3M154 258h3M155 258h3M161 258h3M162 258h3M163 258h3M165 258h3M171 258h3M103 259h3M108 259h3M110 259h3M114 259h3M115 259h3M114 259h3M114 259h3M114 259h3M118 260h3M123 259h3M122 259h3M122 259h3M123 259h3M122 260h3M125 260h3M125 259h3M127 259h3M128 259h3M128 259h3M128 259h3M129 259h3M128 259h3M132 259h3M132 259h3M133 259h3M137 259h3M138 259h3M139 259h3M139 260h3M140 259h3M144 259h3M143 259h3M148 260h3M152 259h3M153 259h3M157 259h3M101 260h3M108 261h3M109 260h3M111 260h3M113 260h3M114 260h3M116 260h3M119 260h3M121 260h3M121 260h3M123 260h3M124 260h3M128 260h3M129 260h3M129 260h3M133 261h3M134 260h3M135 260h3M135 260h3M135 260h3M137 260h3M137 260h3M140 260h3M141 260h3M143 260h3M143 260h3M145 260h3M147 260h3M148 260h3M152 260h3M152 260h3M157 260h3M156 260h3M169 260h3M93 261h3M106 261h3M107 261h3M106 261h3M109 261h3M108 262h3M111 262h3M111 261h3M112 261h3M115 261h3M115 261h3M118 261h3M118 261h3M118 261h3M120 261h3M120 261h3M123 261h3M123 261h3M123 261h3M124 261h3M123 261h3M128 261h3M128 262h3M131 261h3M131 261h3M132 261h3M134 261h3M134 261h3M136 261h3M136 261h3M139 261h3M138 261h3M139 262h3M139 262h3M141 261h3M145 261h3M148 261h3M149 261h3M150 261h3M162 261h3M165 261h3M169 261h3M89 262h3M95 262h3M102 262h3M105 262h3M105 262h3M108 262h3M109 262h3M110 262h3M113 262h3M114 262h3M115 262h3M114 262h3M114 262h3M116 262h3M121 262h3M122 262h3M123 262h3M123 262h3M124 262h3M128 262h3M128 262h3M127 262h3M129 262h3M131 262h3M130 262h3M132 262h3M133 262h3M133 262h3M138 262h3M138 262h3M140 262h3M142 262h3M143 262h3M146 262h3M147 262h3M149 262h3M154 263h3M156 262h3M162 262h3M99 263h3M103 263h3M109 264h3M110 263h3M111 263h3M112 263h3M112 263h3M118 263h3M118 263h3M120 264h3M119 263h3M119 263h3M119 264h3M121 263h3M122 263h3M122 263h3M124 263h3M126 263h3M127 263h3M126 263h3M128 263h3M128 263h3M131 263h3M131 263h3M132 263h3M134 263h3M135 263h3M136 263h3M139 263h3M140 264h3M141 263h3M141 264h3M142 263h3M142 263h3M143 264h3M143 263h3M145 263h3M149 264h3M152 263h3M152 263h3M155 264h3M157 263h3M156 263h3M158 263h3M160 263h3M164 264h3M96 265h3M97 264h3M104 264h3M104 264h3M105 264h3M108 264h3M108 264h3M109 264h3M111 264h3M112 264h3M112 264h3M111 265h3M116 264h3M117 264h3M117 265h3M119 264h3M120 264h3M119 265h3M121 264h3M123 264h3M123 264h3M125 264h3M129 264h3M130 264h3M131 264h3M132 264h3M132 264h3M131 264h3M132 265h3M134 264h3M133 264h3M134 264h3M136 264h3M137 264h3M139 264h3M138 264h3M141 264h3M142 264h3M145 264h3M148 264h3M149 264h3M149 264h3M166 264h3M168 264h3M88 265h3M97 265h3M101 265h3M103 265h3M109 265h3M111 265h3M115 265h3M117 265h3M119 265h3M120 266h3M120 266h3M120 265h3M120 265h3M122 265h3M121 265h3M124 266h3M124 265h3M126 265h3M126 265h3M129 265h3M128 265h3M131 265h3M130 265h3M132 265h3M133 265h3M137 265h3M137 266h3M136 265h3M136 265h3M137 265h3M137 265h3M138 266h3M141 265h3M145 265h3M148 265h3M147 265h3M161 265h3M163 265h3M164 265h3M164 265h3M165 265h3M91 266h3M96 266h3M99 266h3M110 267h3M112 266h3M113 266h3M115 266h3M116 266h3M117 266h3M118 266h3M117 266h3M118 267h3M119 266h3M120 266h3M122 266h3M122 266h3M124 266h3M124 266h3M125 266h3M125 266h3M128 266h3M129 266h3M129 266h3M130 266h3M133 266h3M134 266h3M134 266h3M135 266h3M136 266h3M135 266h3M137 266h3M137 266h3M139 266h3M139 266h3M140 266h3M140 266h3M140 266h3M142 266h3M143 266h3M145 267h3M145 266h3M146 266h3M151 266h3M152 266h3M97 267h3M102 267h3M103 267h3M105 267h3M105 267h3M108 267h3M109 268h3M113 267h3M114 267h3M114 267h3M116 267h3M117 267h3M119 268h3M118 267h3M120 267h3M121 267h3M121 267h3M121 268h3M124 267h3M124 267h3M124 267h3M124 267h3M125 267h3M126 267h3M127 267h3M128 267h3M129 267h3M129 267h3M129 267h3M130 268h3M130 267h3M131 267h3M132 267h3M136 267h3M137 267h3M137 267h3M137 268h3M138 267h3M141 267h3M140 268h3M144 267h3M147 268h3M149 268h3M153 267h3M154 267h3M156 267h3M159 267h3M161 267h3M89 268h3M90 268h3M105 268h3M107 268h3M108 268h3M107 268h3M110 268h3M112 268h3M112 268h3M114 268h3M115 269h3M114 268h3M116 268h3M117 268h3M121 268h3M120 268h3M121 268h3M122 269h3M122 268h3M122 268h3M123 269h3M123 268h3M122 268h3M123 268h3M124 268h3M124 268h3M128 268h3M130 268h3M131 269h3M133 268h3M133 268h3M135 268h3M135 268h3M137 268h3M138 268h3M141 269h3M141 268h3M147 268h3M148 268h3M150 268h3M152 268h3M152 268h3M153 268h3M155 268h3M156 268h3M157 268h3M163 268h3M171 268h3M94 269h3M96 269h3M99 269h3M105 269h3M107 269h3M108 269h3M111 270h3M112 269h3M114 270h3M114 269h3M116 269h3M117 269h3M124 269h3M124 270h3M125 269h3M124 269h3M125 269h3M125 269h3M128 269h3M129 269h3M131 269h3M133 270h3M133 269h3M134 270h3M137 269h3M136 269h3M140 269h3M139 269h3M140 269h3M141 269h3M142 269h3M144 269h3M145 270h3M146 269h3M150 270h3M169 269h3M91 270h3M90 270h3M102 270h3M104 270h3M107 270h3M109 270h3M109 270h3M108 270h3M112 271h3M117 270h3M116 271h3M117 270h3M118 270h3M119 270h3M118 270h3M120 270h3M121 270h3M126 270h3M126 270h3M127 271h3M128 270h3M132 270h3M131 270h3M133 270h3M134 270h3M134 270h3M136 270h3M139 270h3M139 270h3M141 270h3M141 270h3M146 270h3M147 270h3M158 270h3M90 271h3M91 271h3M96 272h3M96 272h3M100 271h3M103 272h3M107 271h3M110 271h3M111 271h3M110 271h3M112 271h3M114 271h3M114 271h3M117 271h3M117 271h3M120 271h3M123 271h3M123 271h3M123 271h3M124 271h3M126 271h3M126 271h3M125 271h3M125 271h3M127 271h3M127 271h3M129 271h3M130 271h3M129 271h3M130 271h3M131 271h3M134 271h3M135 271h3M136 271h3M138 271h3M138 271h3M137 271h3M140 271h3M141 271h3M144 271h3M147 271h3M147 271h3M153 271h3M155 271h3M160 271h3M87 272h3M92 272h3M91 272h3M92 272h3M98 272h3M103 272h3M108 272h3M108 272h3M109 272h3M109 272h3M111 272h3M112 272h3M112 272h3M114 272h3M115 272h3M116 272h3M118 272h3M119 272h3M120 273h3M120 272h3M122 272h3M123 272h3M123 272h3M125 272h3M125 272h3M127 272h3M127 272h3M128 272h3M129 272h3M132 272h3M132 272h3M132 272h3M134 272h3M136 272h3M136 272h3M136 272h3M138 272h3M138 272h3M139 272h3M140 272h3M141 272h3M140 272h3M142 272h3M141 273h3M141 272h3M143 272h3M143 272h3M143 272h3M144 272h3M145 272h3M147 272h3M149 272h3M149 272h3M151 272h3M150 273h3M152 273h3M152 273h3M157 272h3M158 273h3M158 273h3M158 272h3M161 272h3M162 272h3M166 272h3M91 273h3M96 273h3M98 273h3M99 273h3M102 273h3M102 273h3M108 273h3M110 273h3M112 273h3M111 273h3M113 274h3M116 273h3M117 273h3M117 273h3M120 274h3M123 273h3M124 273h3M124 273h3M126 273h3M127 273h3M133 273h3M137 273h3M136 273h3M137 273h3M138 273h3M139 273h3M144 273h3M145 273h3M149 273h3M150 273h3M150 273h3M153 273h3M163 273h3M163 273h3M168 273h3M170 273h3M100 274h3M104 274h3M104 274h3M105 274h3M106 274h3M106 274h3M106 274h3M110 274h3M112 274h3M111 274h3M113 274h3M114 274h3M113 274h3M115 275h3M116 274h3M117 274h3M119 274h3M119 274h3M120 274h3M121 274h3M125 275h3M125 274h3M125 274h3M125 274h3M126 274h3M126 274h3M127 274h3M128 274h3M133 274h3M132 274h3M133 274h3M135 274h3M136 274h3M137 274h3M137 274h3M144 274h3M147 274h3M146 275h3M147 274h3M150 275h3M150 274h3M153 274h3M155 274h3M154 274h3M159 275h3M160 274h3M161 274h3M162 274h3M89 275h3M91 275h3M105 275h3M106 276h3M108 275h3M109 275h3M109 275h3M112 275h3M114 275h3M114 275h3M116 275h3M118 275h3M118 275h3M119 275h3M120 275h3M121 275h3M122 276h3M123 275h3M122 275h3M123 275h3M123 275h3M124 275h3M123 275h3M124 275h3M125 275h3M124 275h3M125 276h3M128 275h3M128 275h3M129 275h3M130 275h3M132 276h3M134 275h3M134 275h3M136 275h3M137 275h3M137 275h3M137 275h3M137 275h3M141 275h3M144 276h3M147 275h3M148 276h3M148 275h3M149 275h3M149 275h3M153 275h3M153 275h3M169 275h3M98 277h3M98 276h3M113 276h3M112 276h3M117 276h3M118 276h3M118 276h3M120 276h3M120 276h3M120 276h3M120 276h3M122 276h3M123 276h3M124 276h3M124 276h3M123 276h3M124 277h3M124 276h3M125 276h3M125 276h3M125 277h3M126 276h3M127 276h3M127 276h3M129 276h3M128 276h3M129 276h3M131 276h3M130 276h3M131 276h3M131 276h3M132 276h3M133 277h3M137 276h3M139 276h3M141 276h3M142 276h3M145 277h3M145 276h3M146 276h3M163 276h3M167 276h3M98 277h3M101 277h3M102 277h3M108 277h3M109 277h3M108 277h3M109 277h3M112 277h3M112 277h3M113 278h3M115 277h3M115 277h3M114 277h3M116 277h3M120 277h3M119 277h3M121 277h3M120 277h3M123 277h3M123 278h3M124 278h3M128 277h3M128 277h3M130 277h3M130 277h3M131 277h3M130 277h3M133 277h3M135 277h3M135 277h3M138 277h3M141 277h3M141 277h3M144 277h3M144 277h3M150 277h3M150 277h3M152 277h3M161 277h3M165 277h3M166 277h3M93 278h3M98 278h3M99 278h3M102 278h3M102 278h3M102 279h3M104 278h3M106 278h3M107 278h3M107 278h3M108 278h3M108 278h3M109 278h3M110 278h3M110 278h3M116 278h3M115 278h3M116 278h3M116 278h3M117 278h3M118 278h3M120 278h3M120 278h3M123 278h3M122 278h3M125 278h3M125 278h3M127 278h3M127 278h3M126 278h3M126 278h3M128 278h3M127 278h3M128 278h3M130 278h3M130 278h3M131 278h3M131 278h3M132 279h3M132 279h3M134 278h3M133 278h3M136 279h3M138 278h3M139 278h3M142 278h3M142 278h3M144 278h3M145 278h3M145 278h3M148 278h3M150 278h3M151 278h3M156 278h3M161 278h3M167 278h3M168 278h3M95 279h3M94 279h3M98 280h3M106 279h3M110 279h3M111 279h3M112 279h3M113 279h3M115 280h3M115 279h3M119 279h3M120 279h3M122 279h3M123 279h3M125 279h3M124 279h3M124 279h3M125 279h3M125 279h3M125 279h3M127 280h3M128 279h3M128 279h3M127 279h3M129 279h3M129 279h3M130 279h3M134 279h3M136 279h3M135 279h3M137 279h3M137 279h3M141 279h3M141 279h3M144 279h3M144 279h3M148 279h3M150 280h3M151 279h3M154 279h3M155 279h3M161 279h3M95 280h3M94 280h3M97 280h3M99 281h3M101 280h3M101 280h3M104 280h3M103 280h3M105 280h3M106 281h3M110 280h3M111 280h3M111 280h3M111 280h3M111 280h3M111 280h3M112 280h3M116 280h3M117 280h3M117 280h3M120 280h3M121 280h3M122 280h3M123 280h3M124 280h3M125 280h3M127 280h3M127 280h3M126 281h3M128 280h3M128 280h3M130 280h3M131 281h3M132 280h3M132 280h3M132 280h3M132 280h3M133 280h3M133 280h3M134 280h3M136 281h3M135 280h3M135 280h3M136 280h3M140 280h3M142 280h3M142 280h3M142 280h3M142 280h3M144 280h3M144 280h3M147 280h3M148 281h3M147 280h3M155 280h3M88 281h3M94 281h3M96 281h3M98 281h3M97 281h3M103 281h3M103 281h3M108 281h3M110 282h3M111 281h3M112 281h3M114 281h3M114 281h3M115 281h3M115 281h3M118 281h3M117 281h3M118 281h3M118 281h3M119 281h3M118 281h3M121 281h3M122 281h3M123 281h3M124 281h3M126 281h3M127 282h3M128 281h3M129 281h3M128 281h3M131 281h3M130 282h3M133 281h3M134 282h3M136 281h3M137 281h3M138 281h3M138 281h3M139 281h3M139 281h3M140 282h3M141 281h3M141 281h3M142 281h3M144 281h3M148 281h3M149 281h3M151 281h3M156 281h3M168 281h3M96 282h3M101 282h3M103 282h3M106 282h3M106 282h3M110 282h3M111 282h3M111 282h3M111 282h3M113 282h3M115 282h3M115 282h3M116 282h3M119 282h3M118 282h3M120 282h3M120 282h3M121 282h3M121 282h3M122 282h3M122 282h3M123 282h3M123 282h3M125 282h3M124 282h3M126 282h3M125 282h3M129 282h3M130 282h3M130 282h3M130 282h3M132 282h3M132 282h3M131 282h3M132 283h3M132 282h3M134 282h3M133 282h3M133 282h3M137 282h3M139 282h3M143 282h3M145 282h3M150 282h3M153 282h3M154 282h3M167 282h3M100 283h3M102 283h3M102 283h3M103 283h3M106 283h3M107 283h3M106 283h3M108 283h3M109 283h3M110 283h3M110 283h3M112 283h3M116 283h3M117 283h3M118 284h3M117 283h3M118 284h3M119 283h3M120 283h3M120 283h3M123 284h3M124 283h3M125 283h3M126 284h3M127 284h3M130 283h3M129 283h3M130 283h3M132 283h3M132 283h3M135 283h3M135 283h3M135 283h3M136 283h3M137 283h3M138 283h3M138 283h3M139 284h3M140 283h3M141 283h3M144 283h3M157 283h3M157 283h3M164 283h3M165 283h3M169 283h3M94 284h3M97 284h3M103 284h3M109 284h3M111 284h3M117 285h3M119 284h3M120 284h3M122 284h3M122 284h3M123 284h3M126 284h3M128 284h3M131 284h3M133 284h3M134 284h3M133 284h3M133 284h3M136 284h3M137 284h3M137 284h3M139 285h3M142 284h3M143 284h3M148 284h3M149 285h3M150 284h3M154 284h3M160 284h3M95 285h3M96 285h3M98 285h3M99 285h3M102 285h3M104 285h3M107 285h3M106 286h3M107 285h3M107 285h3M108 285h3M108 285h3M110 285h3M110 285h3M113 285h3M113 285h3M113 285h3M116 285h3M116 285h3M118 285h3M120 285h3M121 285h3M123 285h3M125 285h3M124 285h3M125 285h3M126 285h3M125 285h3M128 285h3M128 285h3M130 285h3M131 285h3M130 285h3M131 285h3M131 285h3M131 285h3M131 285h3M132 286h3M133 285h3M135 285h3M135 285h3M136 285h3M139 285h3M139 285h3M140 285h3M143 285h3M144 285h3M146 285h3M149 286h3M151 285h3M152 285h3M154 285h3M155 286h3M156 285h3M160 285h3M91 286h3M97 286h3M98 286h3M99 286h3M101 286h3M109 286h3M113 286h3M115 286h3M116 286h3M117 286h3M119 286h3M119 286h3M120 286h3M122 286h3M122 286h3M123 286h3M125 287h3M125 286h3M125 286h3M125 286h3M127 286h3M127 286h3M127 286h3M128 286h3M133 286h3M132 286h3M134 286h3M133 286h3M135 286h3M135 286h3M136 286h3M140 286h3M143 286h3M144 286h3M147 286h3M149 286h3M156 286h3M159 286h3M97 287h3M98 287h3M100 287h3M108 287h3M108 288h3M111 287h3M110 287h3M113 287h3M113 287h3M114 288h3M114 287h3M115 288h3M116 287h3M117 287h3M118 287h3M118 287h3M118 287h3M120 287h3M121 287h3M122 287h3M123 287h3M123 287h3M128 287h3M129 287h3M132 287h3M132 287h3M135 287h3M137 287h3M141 287h3M142 287h3M149 287h3M151 288h3M152 287h3M93 288h3M96 288h3M97 288h3M98 288h3M103 288h3M105 288h3M105 288h3M107 288h3M108 288h3M108 288h3M110 288h3M110 288h3M109 288h3M114 288h3M114 288h3M114 288h3M116 288h3M117 288h3M118 289h3M117 288h3M118 288h3M120 289h3M120 288h3M121 288h3M123 288h3M123 289h3M125 288h3M128 288h3M127 288h3M128 288h3M135 288h3M135 288h3M140 288h3M142 288h3M153 288h3M99 289h3M102 289h3M109 289h3M112 289h3M112 289h3M113 290h3M116 289h3M117 289h3M117 289h3M118 289h3M117 289h3M119 289h3M119 289h3M120 289h3M121 289h3M121 289h3M123 289h3M124 289h3M127 290h3M127 289h3M128 289h3M131 289h3M131 290h3M133 289h3M135 289h3M136 289h3M136 290h3M138 289h3M140 289h3M140 290h3M140 289h3M142 289h3M146 289h3M155 290h3M164 289h3M89 290h3M98 290h3M98 290h3M100 290h3M102 290h3M104 290h3M105 291h3M106 290h3M114 290h3M114 290h3M115 290h3M116 290h3M117 291h3M117 290h3M118 290h3M119 290h3M121 290h3M121 290h3M123 290h3M126 290h3M129 290h3M129 290h3M131 291h3M132 290h3M133 290h3M133 290h3M135 290h3M138 290h3M137 290h3M141 290h3M146 291h3M151 290h3M152 290h3M159 290h3M99 291h3M99 292h3M106 291h3M109 291h3M109 291h3M109 291h3M109 291h3M111 291h3M112 291h3M114 291h3M114 291h3M116 291h3M116 291h3M118 291h3M118 291h3M123 291h3M124 291h3M125 291h3M128 291h3M129 291h3M129 291h3M130 291h3M129 291h3M131 291h3M132 291h3M136 291h3M135 291h3M137 291h3M136 291h3M137 291h3M138 291h3M138 292h3M148 291h3M148 291h3M149 291h3M152 291h3M156 291h3M94 292h3M96 292h3M96 292h3M98 292h3M98 292h3M99 292h3M109 292h3M110 292h3M116 292h3M117 292h3M120 292h3M119 292h3M120 292h3M120 292h3M120 292h3M122 292h3M123 292h3M123 292h3M125 292h3M125 292h3M127 292h3M131 292h3M132 292h3M133 292h3M133 293h3M133 292h3M133 292h3M134 293h3M139 292h3M139 292h3M140 292h3M142 292h3M142 292h3M146 292h3M148 292h3M147 292h3M148 292h3M152 292h3M156 292h3M88 293h3M96 293h3M97 294h3M100 293h3M106 293h3M107 293h3M107 293h3M109 293h3M109 293h3M111 293h3M112 293h3M112 293h3M114 293h3M114 293h3M118 294h3M118 293h3M118 293h3M119 293h3M121 293h3M120 293h3M122 293h3M122 293h3M123 294h3M123 293h3M125 293h3M127 293h3M126 293h3M127 293h3M131 293h3M130 293h3M130 293h3M132 293h3M132 293h3M133 293h3M132 293h3M134 293h3M135 293h3M134 293h3M135 293h3M136 293h3M136 293h3M137 293h3M136 293h3M138 293h3M137 293h3M139 293h3M138 293h3M142 294h3M147 293h3M146 293h3M147 293h3M152 293h3M101 294h3M105 294h3M111 294h3M113 294h3M112 294h3M114 294h3M116 294h3M117 294h3M117 294h3M118 294h3M122 294h3M123 294h3M126 294h3M125 294h3M126 294h3M128 294h3M128 294h3M127 294h3M129 295h3M129 294h3M129 294h3M130 294h3M133 294h3M132 294h3M132 294h3M134 294h3M137 294h3M136 294h3M139 294h3M140 294h3M140 294h3M143 294h3M145 294h3M147 295h3M156 294h3M100 296h3M101 295h3M103 295h3M106 295h3M110 295h3M111 296h3M111 295h3M111 296h3M111 295h3M111 295h3M113 296h3M114 295h3M114 296h3M116 295h3M116 295h3M117 295h3M119 295h3M121 295h3M123 296h3M124 295h3M124 295h3M125 295h3M127 295h3M128 296h3M128 295h3M129 295h3M129 295h3M131 295h3M135 295h3M136 295h3M136 295h3M136 295h3M142 295h3M144 295h3M145 295h3M152 295h3M153 295h3M153 295h3M167 295h3M96 296h3M98 296h3M100 296h3M107 296h3M109 296h3M113 296h3M115 296h3M115 296h3M119 296h3M120 296h3M121 296h3M121 296h3M122 296h3M122 296h3M123 296h3M123 296h3M132 296h3M133 296h3M133 296h3M137 296h3M138 296h3M138 296h3M139 296h3M139 296h3M140 296h3M143 297h3M145 296h3M147 296h3M148 296h3M151 296h3M158 296h3M162 296h3M98 297h3M100 297h3M101 297h3M102 297h3M102 297h3M106 297h3M106 297h3M109 298h3M108 297h3M110 298h3M112 298h3M122 297h3M122 297h3M124 297h3M126 297h3M126 297h3M127 297h3M129 297h3M131 297h3M131 297h3M133 297h3M135 297h3M136 297h3M139 297h3M139 298h3M139 297h3M142 297h3M143 297h3M143 297h3M143 298h3M145 297h3M149 298h3M152 297h3M156 297h3M159 297h3M100 298h3M102 298h3M102 298h3M103 298h3M105 298h3M106 298h3M107 298h3M108 298h3M112 298h3M112 298h3M113 298h3M115 298h3M116 298h3M116 298h3M117 298h3M117 298h3M119 298h3M119 298h3M119 298h3M121 298h3M120 298h3M120 298h3M122 298h3M126 298h3M128 298h3M128 299h3M128 298h3M136 298h3M137 298h3M141 298h3M144 298h3M147 298h3M151 298h3M152 298h3M156 299h3M93 299h3M102 299h3M106 299h3M107 299h3M109 299h3M110 299h3M110 299h3M111 299h3M111 299h3M112 300h3M116 299h3M119 299h3M119 299h3M119 299h3M121 299h3M121 299h3M122 299h3M122 299h3M124 299h3M127 299h3M127 299h3M130 299h3M130 299h3M130 299h3M133 299h3M134 299h3M134 299h3M135 299h3M135 299h3M139 299h3M140 299h3M145 299h3M149 299h3M150 299h3M158 300h3M164 299h3M92 300h3M92 300h3M96 300h3M98 300h3M99 300h3M102 300h3M104 300h3M104 300h3M105 301h3M106 300h3M105 300h3M105 300h3M107 300h3M107 300h3M109 300h3M110 300h3M110 300h3M110 300h3M111 301h3M112 300h3M113 301h3M114 300h3M119 300h3M121 300h3M122 300h3M124 300h3M125 301h3M128 300h3M131 300h3M131 301h3M131 300h3M132 300h3M132 300h3M136 300h3M137 301h3M139 300h3M141 300h3M142 301h3M142 300h3M142 300h3M144 301h3M144 300h3M145 300h3M154 300h3M160 300h3M161 300h3M91 301h3M100 301h3M103 301h3M108 301h3M109 301h3M115 301h3M116 301h3M116 301h3M118 301h3M117 302h3M117 301h3M120 301h3M121 301h3M123 301h3M123 301h3M125 301h3M124 301h3M126 301h3M126 301h3M126 301h3M127 301h3M127 301h3M131 301h3M131 301h3M132 301h3M132 301h3M132 301h3M137 301h3M137 301h3M144 301h3M146 302h3M145 301h3M146 302h3M153 301h3M155 301h3M97 302h3M99 302h3M102 302h3M106 302h3M106 302h3M114 302h3M113 302h3M117 302h3M116 302h3M118 302h3M119 303h3M123 302h3M125 302h3M126 302h3M130 302h3M131 302h3M131 302h3M131 302h3M132 302h3M134 302h3M134 302h3M135 302h3M137 302h3M140 302h3M141 302h3M141 302h3M147 302h3M158 302h3M100 303h3M102 303h3M105 303h3M112 303h3M113 303h3M113 303h3M116 303h3M116 303h3M117 303h3M118 303h3M119 303h3M121 303h3M123 303h3M130 303h3M130 303h3M132 303h3M131 303h3M136 303h3M146 303h3M146 303h3M148 303h3M94 304h3M98 304h3M100 305h3M100 304h3M103 304h3M111 304h3M113 304h3M116 304h3M117 304h3M117 304h3M118 304h3M121 304h3M125 304h3M128 304h3M128 304h3M134 304h3M135 304h3M136 304h3M138 304h3M139 304h3M142 305h3M146 304h3M147 304h3M147 304h3M151 304h3M158 304h3M194 305h3M209 304h3M85 305h3M90 305h3M93 305h3M93 306h3M100 305h3M103 305h3M107 305h3M115 305h3M116 305h3M115 305h3M115 305h3M117 305h3M121 305h3M121 305h3M125 305h3M126 305h3M127 305h3M127 305h3M128 305h3M129 305h3M130 306h3M132 305h3M133 306h3M132 305h3M135 305h3M135 305h3M136 305h3M136 305h3M138 306h3M139 305h3M139 305h3M141 305h3M146 305h3M146 305h3M146 305h3M194 305h3M202 305h3M204 305h3M210 305h3M89 306h3M99 306h3M112 306h3M115 306h3M117 306h3M116 306h3M119 307h3M121 306h3M124 306h3M126 306h3M127 307h3M131 306h3M132 306h3M134 306h3M137 306h3M138 306h3M139 306h3M142 306h3M143 306h3M146 306h3M154 306h3M188 306h3M206 306h3M87 307h3M87 307h3M102 307h3M103 307h3M103 307h3M103 307h3M107 307h3M107 307h3M107 307h3M111 307h3M112 307h3M113 307h3M115 307h3M118 307h3M119 307h3M123 307h3M125 307h3M125 307h3M127 307h3M129 307h3M130 307h3M134 307h3M135 307h3M137 307h3M138 307h3M138 307h3M142 307h3M149 307h3M161 307h3M178 307h3M180 307h3M184 307h3M214 307h3M94 308h3M100 308h3M103 308h3M107 309h3M109 308h3M112 308h3M114 308h3M115 308h3M117 308h3M119 308h3M124 308h3M128 308h3M129 308h3M140 308h3M141 308h3M144 308h3M145 308h3M147 308h3M148 308h3M149 308h3M179 308h3M197 308h3M206 308h3M100 309h3M104 309h3M105 309h3M117 309h3M120 309h3M119 309h3M120 309h3M120 309h3M122 309h3M122 309h3M122 309h3M123 309h3M123 309h3M125 309h3M129 309h3M131 309h3M131 309h3M135 309h3M136 309h3M144 309h3M143 309h3M149 309h3M152 310h3M153 309h3M162 309h3M164 309h3M184 309h3M185 309h3M195 309h3M203 309h3M218 309h3M223 309h3M91 310h3M106 310h3M112 310h3M115 310h3M116 310h3M118 310h3M121 310h3M122 310h3M124 310h3M124 310h3M125 310h3M125 310h3M126 310h3M127 310h3M126 310h3M129 310h3M129 310h3M137 310h3M144 311h3M145 310h3M150 310h3M162 310h3M170 311h3M175 310h3M185 310h3M192 310h3M220 310h3M220 310h3M222 311h3M91 311h3M103 311h3M106 311h3M109 311h3M114 311h3M120 311h3M121 311h3M121 311h3M123 311h3M123 311h3M123 311h3M124 311h3M125 311h3M126 311h3M127 311h3M127 311h3M132 311h3M136 311h3M149 311h3M167 311h3M185 311h3M193 311h3M87 312h3M91 312h3M92 312h3M93 312h3M102 313h3M102 312h3M105 312h3M105 312h3M107 312h3M111 312h3M111 312h3M113 312h3M116 312h3M116 312h3M115 312h3M117 312h3M117 312h3M118 312h3M117 312h3M118 312h3M120 312h3M124 312h3M123 312h3M125 312h3M126 312h3M127 312h3M131 312h3M131 312h3M137 312h3M140 312h3M159 312h3M158 312h3M167 312h3M183 312h3M207 312h3M209 312h3M91 313h3M99 313h3M109 313h3M109 313h3M109 313h3M112 313h3M114 313h3M114 313h3M116 314h3M122 313h3M121 314h3M122 313h3M128 313h3M130 313h3M130 313h3M134 313h3M134 313h3M136 314h3M136 313h3M136 313h3M136 313h3M137 313h3M138 313h3M139 313h3M140 313h3M140 313h3M141 313h3M141 313h3M145 313h3M147 313h3M156 313h3M189 314h3M209 313h3M210 313h3M100 315h3M101 314h3M105 314h3M105 314h3M107 314h3M108 314h3M110 314h3M111 314h3M113 315h3M115 314h3M121 314h3M121 314h3M121 314h3M122 314h3M125 314h3M125 314h3M127 314h3M128 314h3M127 315h3M127 314h3M129 314h3M130 314h3M130 314h3M134 314h3M139 314h3M143 314h3M144 314h3M147 314h3M153 314h3M153 314h3M156 314h3M197 315h3M202 314h3M202 314h3M206 314h3M89 315h3M91 315h3M94 315h3M97 315h3M99 315h3M106 315h3M108 315h3M112 315h3M114 315h3M114 315h3M116 315h3M118 315h3M119 315h3M122 315h3M126 315h3M127 315h3M128 315h3M131 315h3M134 315h3M134 315h3M135 315h3M136 315h3M137 315h3M137 315h3M138 315h3M139 315h3M139 315h3M141 315h3M143 316h3M143 315h3M169 315h3M170 315h3M171 315h3M202 315h3M218 315h3M220 315h3M220 315h3M102 316h3M104 316h3M107 317h3M109 316h3M109 316h3M113 316h3M119 316h3M119 316h3M121 316h3M122 316h3M123 316h3M125 316h3M128 316h3M130 316h3M132 316h3M134 316h3M135 316h3M135 317h3M139 316h3M140 316h3M148 316h3M156 316h3M181 316h3M198 316h3M208 316h3M215 316h3M221 316h3M95 318h3M102 317h3M108 317h3M110 317h3M111 317h3M112 317h3M116 318h3M116 317h3M123 317h3M123 317h3M125 317h3M127 317h3M128 317h3M127 317h3M135 317h3M135 317h3M136 317h3M136 318h3M138 317h3M142 317h3M150 317h3M167 317h3M198 317h3M218 317h3M90 318h3M91 318h3M98 318h3M101 318h3M102 319h3M107 318h3M107 318h3M109 318h3M112 318h3M113 319h3M114 318h3M115 318h3M118 318h3M119 318h3M120 318h3M119 318h3M120 318h3M121 318h3M125 318h3M128 318h3M128 318h3M131 319h3M135 318h3M137 318h3M139 318h3M144 318h3M145 318h3M148 318h3M153 318h3M186 318h3M191 318h3M200 318h3M201 318h3M212 318h3M218 318h3M220 318h3M99 319h3M113 319h3M114 319h3M115 319h3M120 319h3M120 319h3M120 319h3M123 319h3M123 320h3M127 319h3M128 319h3M128 319h3M129 319h3M130 319h3M130 319h3M129 319h3M131 319h3M132 319h3M137 319h3M136 319h3M140 319h3M142 319h3M146 319h3M151 319h3M169 319h3M172 319h3M179 319h3M186 319h3M192 319h3M224 319h3M226 319h3M88 320h3M93 320h3M97 320h3M105 320h3M109 320h3M111 320h3M116 320h3M118 320h3M120 320h3M122 321h3M126 321h3M126 320h3M132 320h3M138 320h3M142 320h3M143 320h3M144 321h3M144 320h3M191 320h3M197 320h3M210 320h3M219 321h3M226 320h3M226 320h3M90 321h3M90 321h3M95 322h3M99 321h3M105 321h3M107 321h3M109 321h3M118 321h3M121 321h3M123 321h3M124 321h3M127 321h3M132 321h3M136 321h3M137 321h3M141 321h3M146 321h3M160 321h3M172 321h3M198 321h3M215 321h3M101 322h3M103 322h3M104 322h3M108 322h3M109 322h3M112 322h3M112 322h3M114 322h3M115 322h3M116 322h3M121 322h3M124 322h3M127 322h3M128 322h3M133 322h3M135 322h3M138 322h3M140 322h3M143 322h3M143 322h3M152 322h3M177 323h3M187 322h3M189 322h3M208 322h3M97 323h3M102 324h3M104 323h3M115 324h3M115 323h3M116 323h3M119 323h3M122 323h3M128 323h3M133 323h3M133 323h3M140 323h3M141 323h3M144 323h3M146 323h3M147 323h3M163 323h3M170 323h3M194 324h3M203 323h3M206 323h3M222 323h3M105 324h3M112 324h3M114 324h3M114 325h3M114 324h3M120 325h3M125 324h3M126 324h3M131 324h3M133 324h3M133 324h3M134 324h3M136 324h3M137 324h3M177 324h3M216 324h3M92 325h3M96 325h3M99 325h3M105 325h3M108 325h3M111 325h3M111 326h3M111 325h3M116 325h3M117 326h3M122 325h3M123 325h3M126 325h3M132 326h3M142 325h3M153 325h3M177 325h3M186 325h3M203 325h3M212 326h3M214 325h3M221 325h3M98 326h3M106 326h3M110 327h3M121 326h3M126 326h3M131 326h3M131 326h3M132 327h3M139 326h3M155 326h3M155 326h3M160 326h3M186 326h3M91 327h3M94 327h3M97 327h3M103 328h3M104 327h3M107 328h3M109 327h3M113 327h3M121 327h3M132 327h3M136 327h3M136 327h3M137 327h3M138 327h3M143 327h3M150 328h3M157 327h3M163 327h3M182 327h3M182 327h3M203 327h3M93 328h3M94 328h3M110 328h3M115 328h3M117 328h3M118 328h3M121 328h3M123 328h3M129 328h3M139 328h3M156 328h3M166 328h3M169 328h3M179 328h3M191 328h3M207 329h3M210 328h3M222 328h3M101 329h3M104 329h3M104 329h3M121 329h3M128 329h3M129 329h3M131 330h3M133 330h3M133 329h3M136 329h3M138 329h3M145 329h3M151 330h3M169 329h3M193 329h3M203 329h3M99 330h3M99 330h3M101 330h3M101 330h3M106 331h3M107 330h3M112 330h3M115 330h3M117 330h3M119 330h3M120 330h3M124 330h3M129 330h3M131 330h3M137 330h3M141 330h3M145 330h3M176 330h3M186 330h3M197 330h3M201 330h3M209 331h3M96 332h3M97 331h3M97 331h3M102 331h3M111 331h3M113 332h3M117 332h3M125 331h3M124 331h3M138 331h3M203 331h3M206 331h3M214 331h3M219 331h3M94 332h3M97 332h3M99 332h3M103 332h3M113 332h3M114 332h3M126 332h3M155 332h3M157 332h3M160 332h3M163 332h3M167 332h3M110 333h3M115 333h3M118 333h3M118 333h3M125 333h3M125 333h3M133 334h3M140 333h3M191 333h3M215 333h3M222 334h3M97 334h3M105 334h3M117 334h3M120 334h3M129 334h3M129 334h3M131 334h3M132 334h3M133 334h3M133 334h3M142 334h3M152 334h3M153 334h3M157 334h3M165 334h3M166 334h3M213 334h3M224 334h3M99 335h3M112 335h3M117 335h3M118 335h3M123 335h3M125 335h3M124 335h3M125 336h3M126 335h3M128 335h3M133 335h3M147 335h3M157 335h3M160 335h3M164 335h3M182 335h3M183 335h3M195 335h3M201 335h3M204 335h3M206 335h3M207 335h3M225 335h3M225 335h3M99 336h3M102 336h3M105 336h3M114 336h3M114 336h3M120 336h3M121 336h3M125 336h3M129 336h3M131 336h3M131 336h3M133 336h3M139 336h3M142 336h3M164 336h3M166 336h3M170 336h3M179 336h3M197 337h3M198 336h3M207 336h3M210 336h3M222 336h3M99 337h3M114 337h3M117 337h3M118 337h3M126 337h3M127 337h3M126 337h3M130 337h3M130 337h3M139 337h3M144 337h3M144 337h3M152 337h3M158 337h3M171 337h3M179 337h3M185 338h3M189 337h3M188 337h3M205 337h3M217 338h3M101 339h3M103 338h3M114 339h3M116 338h3M117 338h3M118 338h3M118 338h3M126 338h3M126 339h3M156 338h3M172 338h3M171 338h3M187 338h3M194 338h3M206 338h3M102 340h3M106 339h3M118 339h3M124 339h3M127 340h3M136 339h3M145 339h3M173 339h3M174 339h3M177 339h3M179 339h3M195 339h3M208 339h3M96 340h3M120 340h3M122 340h3M122 340h3M124 341h3M132 340h3M133 340h3M135 340h3M137 340h3M143 340h3M158 340h3M163 340h3M173 340h3M181 340h3M183 340h3M189 340h3M199 340h3M215 340h3M220 340h3M96 342h3M105 341h3M119 341h3M129 341h3M136 341h3M136 341h3M138 341h3M139 341h3M146 342h3M148 341h3M153 341h3M164 341h3M166 341h3M202 342h3M219 341h3M100 342h3M113 342h3M125 342h3M136 342h3M140 342h3M148 342h3M161 342h3M162 342h3M170 342h3M172 342h3M180 342h3M185 342h3M184 342h3M186 342h3M205 342h3M100 343h3M107 343h3M110 343h3M114 343h3M118 343h3M129 343h3M140 343h3M141 343h3M143 343h3M148 343h3M149 343h3M154 343h3M191 343h3M190 343h3M206 343h3M211 343h3M104 344h3M108 344h3M115 344h3M123 344h3M131 344h3M161 345h3M166 344h3M169 344h3M170 344h3M187 344h3M209 344h3M98 345h3M111 345h3M117 345h3M139 345h3M147 345h3M156 346h3M160 345h3M178 345h3M179 345h3M187 345h3M194 346h3M211 345h3M213 345h3M101 346h3M102 346h3M109 346h3M117 346h3M120 346h3M122 347h3M123 346h3M125 346h3M124 346h3M131 347h3M136 346h3M143 346h3M145 346h3M154 346h3M155 347h3M165 346h3M166 347h3M188 346h3M190 346h3M194 346h3M209 346h3M101 347h3M114 347h3M119 348h3M122 347h3M128 347h3M129 347h3M129 347h3M144 347h3M158 347h3M159 347h3M172 347h3M183 347h3M195 347h3M115 348h3M134 348h3M146 348h3M164 348h3M168 348h3M170 348h3M176 349h3M180 348h3M187 348h3M198 348h3M117 350h3M124 349h3M131 349h3M148 349h3M156 349h3M160 349h3M170 349h3M176 349h3M177 349h3M179 349h3M183 349h3M184 349h3M112 350h3M116 350h3M122 350h3M129 350h3M139 350h3M140 350h3M144 350h3M151 350h3M152 350h3M173 350h3M174 350h3M189 350h3M193 350h3M195 350h3M196 350h3M105 351h3M127 351h3M146 351h3M153 351h3M154 351h3M163 351h3M201 351h3M107 352h3M114 353h3M121 352h3M127 353h3M136 352h3M166 352h3M166 352h3M174 352h3M197 353h3M140 353h3M144 353h3M151 353h3M156 353h3M176 353h3M179 353h3M181 353h3M195 353h3M115 354h3M122 354h3M130 354h3M135 354h3M146 354h3M156 354h3M165 354h3M112 355h3M114 355h3M116 355h3M118 355h3M124 355h3M135 356h3M137 355h3M138 355h3M151 355h3M156 355h3M164 355h3M186 355h3M187 355h3M190 355h3M115 356h3M117 356h3M117 356h3M137 356h3M137 356h3M141 356h3M154 356h3M162 356h3M181 356h3M111 358h3M115 358h3M117 358h3M122 357h3M127 357h3M127 357h3M156 357h3M184 358h3M120 358h3M127 358h3M130 358h3M145 358h3M149 358h3M161 358h3M171 358h3M177 358h3M112 359h3M112 360h3M113 359h3M116 359h3M129 359h3M137 359h3M141 359h3M143 359h3M170 359h3M112 360h3M126 360h3M125 360h3M128 360h3M129 360h3M156 360h3M159 360h3M168 360h3M109 361h3M120 362h3M126 361h3M126 361h3M131 361h3M131 361h3M146 361h3M146 361h3M155 361h3M165 361h3M122 363h3M125 362h3M130 362h3M139 363h3M142 362h3M146 362h3M118 363h3M130 363h3M138 363h3M146 363h3M153 364h3M114 364h3M131 364h3M137 364h3M150 364h3M152 364h3M113 365h3M114 366h3M124 366h3M152 365h3M163 365h3" stroke="#000" stroke-opacity="1.0" stroke-width="3" fill="none"/>
<path transform="scale(.5)" d="M659 55h3M675 55h3M797 55h3M915 56h3M1019 59h3M763 61h3M955 61h3M656 63h3M864 63h3M820 64h3M841 66h3M1010 65h3M804 68h3M924 67h3M776 68h3M832 69h3M986 77h3M657 78h3M767 78h3M857 78h3M946 78h3M652 79h3M657 79h3M656 80h3M781 80h3M652 81h3M845 84h3M786 84h3M782 85h3M849 86h3M890 86h3M958 86h3M936 88h3M650 89h3M649 96h3M849 96h3M892 99h3M633 100h3M951 100h3M955 101h3M946 104h3M902 105h3M639 109h3M779 110h3M1017 112h3M808 113h3M639 115h3M838 114h3M859 117h3M616 118h3M936 119h3M633 123h3M927 123h3M961 123h3M904 124h3M790 125h3M813 125h3M851 128h3M800 128h3M802 128h3M623 130h3M891 135h3M909 136h3M904 138h3M958 138h3M778 144h3M869 145h3M963 145h3M636 146h3M880 146h3M777 147h3M859 147h3M998 147h3M799 149h3M634 150h3M819 151h3M929 151h3M1001 151h3M810 152h3M858 155h3M629 157h3M822 157h3M939 159h3M786 159h3M806 161h3M995 163h3M804 164h3M879 166h3M908 166h3M991 165h3M924 168h3M777 170h3M821 169h3M636 170h3M824 172h3M850 174h3M633 175h3M765 177h3M784 177h3M827 179h3M950 179h3M997 179h3M769 181h3M777 181h3M829 182h3M623 183h3M944 184h3M785 184h3M813 184h3M818 184h3M970 184h3M964 185h3M762 186h3M782 187h3M903 187h3M829 189h3M634 189h3M868 190h3M761 191h3M859 191h3M788 193h3M624 193h3M879 193h3M801 194h3M625 199h3M624 199h3M879 200h3M811 201h3M765 203h3M624 207h3M628 207h3M857 207h3M631 208h3M758 212h3M935 212h3M969 214h3M769 215h3M768 216h3M934 216h3M773 219h3M966 220h3M921 221h3M753 225h3M831 226h3M869 226h3M896 228h3M1011 228h3M875 231h3M922 231h3M819 232h3M792 233h3M759 239h3M828 238h3M778 240h3M807 241h3M803 242h3M937 242h3M895 246h3M912 245h3M959 246h3M783 249h3M835 248h3M892 248h3M838 249h3M627 250h3M754 250h3M897 250h3M822 251h3M871 253h3M835 254h3M881 254h3M764 255h3M814 255h3M772 256h3M780 256h3M837 256h3M739 257h3M816 257h3M806 258h3M820 258h3M986 259h3M732 259h3M870 259h3M627 260h3M866 261h3M868 261h3M895 261h3M805 263h3M1008 263h3M763 264h3M814 264h3M947 265h3M747 265h3M899 265h3M943 265h3M870 266h3M868 267h3M746 269h3M929 269h3M958 271h3M627 271h3M957 271h3M768 273h3M745 274h3M873 274h3M899 276h3M939 276h3M874 278h3M934 282h3M624 284h3M897 284h3M907 285h3M897 287h3M984 287h3M1015 288h3M620 289h3M879 290h3M892 290h3M882 291h3M888 292h3M888 294h3M923 295h3M1010 295h3M911 298h3M872 299h3M886 299h3M937 301h3M622 302h3M877 303h3M885 303h3M906 303h3M617 305h3M619 305h3M872 306h3M889 306h3M896 307h3M881 312h3M887 313h3M921 315h3M860 317h3M977 316h3M992 318h3M1017 317h3M622 322h3M938 321h3M871 324h3M861 326h3M976 327h3M925 330h3M866 331h3M1023 330h3M937 333h3M969 333h3M976 333h3M845 334h3M953 334h3M1012 335h3M853 337h3M888 338h3M852 339h3M975 339h3M622 340h3M899 341h3M964 341h3M619 344h3M836 344h3M853 345h3M623 346h3M841 346h3M888 346h3M839 350h3M964 350h3M622 351h3M969 353h3M847 353h3M868 353h3M875 353h3M624 354h3M959 354h3M825 355h3M840 356h3M848 359h3M617 360h3M884 360h3M914 360h3M914 363h3M945 363h3M617 364h3M987 364h3M1002 364h3M970 365h3M816 368h3M957 368h3M635 369h3M828 369h3M623 370h3M628 370h3M634 371h3M915 372h3M849 373h3M623 374h3M832 376h3M985 376h3M953 377h3M629 378h3M629 378h3M894 378h3M907 378h3M830 379h3M1020 112h3M1021 138h3M1022 105h3M1022 207h3M1022 318h3M1022 308h3M1021 134h3M1021 285h3M1022 77h3M1021 279h3M1021 328h3M1021 181h3M1022 156h3M1020 286h3M1021 106h3M1021 89h3M1020 305h3M1021 341h3M1022 105h3M1022 174h3M1022 232h3M1021 214h3M1021 154h3M1021 270h3M1021 148h3M1022 171h3M1022 275h3M1021 214h3M1021 261h3M1022 377h3M1020 204h3M1022 86h3M1021 194h3M1021 128h3M1021 68h3M1022 207h3M1022 313h3M1022 59h3M1020 169h3M1021 60h3M1021 125h3M1022 271h3M1022 304h3M1022 376h3M1021 246h3M1021 91h3M1022 122h3M1021 59h3M1022 307h3M1021 201h3M1022 141h3M1022 267h3M1022 227h3M1020 173h3M1021 238h3M1022 303h3M1020 83h3M1022 66h3M1021 374h3M1022 339h3M815 54h3M837 54h3M792 55h3M707 55h3M791 56h3M777 55h3M898 54h3M858 55h3M774 55h3M947 55h3M928 54h3M910 55h3M799 55h3M845 54h3M979 54h3M847 54h3M777 54h3M984 54h3M805 54h3M758 55h3M673 54h3M957 54h3M872 55h3M975 55h3M872 54h3M684 55h3M947 56h3M922 55h3M961 56h3M884 55h3M962 56h3M930 55h3M879 55h3M854 55h3M823 55h3M781 55h3M1011 55h3M767 54h3M766 54h3M774 55h3M820 55h3M930 55h3M967 54h3M892 54h3M930 56h3M784 54h3M963 55h3M951 54h3M892 55h3M683 54h3M997 55h3M696 55h3M704 55h3M986 55h3M983 55h3" stroke="#000" stroke-opacity="0.68" stroke-width="3" fill="none"/>
<path transform="scale(.5)" d="M715 54h3M722 55h3M726 57h3M753 58h3M730 59h3M746 61h3M749 61h3M711 62h3M715 62h3M719 64h3M721 63h3M747 63h3M713 65h3M755 67h3M691 67h3M698 67h3M676 68h3M714 68h3M719 68h3M726 68h3M688 69h3M699 69h3M762 69h3M698 70h3M722 70h3M755 72h3M672 75h3M673 74h3M679 75h3M714 75h3M725 75h3M679 77h3M717 76h3M662 77h3M701 77h3M701 77h3M705 77h3M716 77h3M705 79h3M711 78h3M713 78h3M715 78h3M705 81h3M715 82h3M724 82h3M745 82h3M715 83h3M726 83h3M764 83h3M671 85h3M741 85h3M675 86h3M724 86h3M754 86h3M673 87h3M715 87h3M715 87h3M758 87h3M672 88h3M705 88h3M706 88h3M736 88h3M668 89h3M733 90h3M742 90h3M652 91h3M708 91h3M739 91h3M747 91h3M663 93h3M658 94h3M753 94h3M670 96h3M672 96h3M664 99h3M663 100h3M763 100h3M729 102h3M766 103h3M768 103h3M667 104h3M725 104h3M712 105h3M727 106h3M739 105h3M748 107h3M742 109h3M765 109h3M661 110h3M713 110h3M716 110h3M718 110h3M744 110h3M747 110h3M766 110h3M770 110h3M660 112h3M720 112h3M648 113h3M766 113h3M772 113h3M654 116h3M756 115h3M734 118h3M750 118h3M649 119h3M656 121h3M721 121h3M741 121h3M651 122h3M729 122h3M730 122h3M729 123h3M715 124h3M759 125h3M715 126h3M726 126h3M729 126h3M770 126h3M716 127h3M746 128h3M768 128h3M771 127h3M642 128h3M646 128h3M655 129h3M748 130h3M653 131h3M751 131h3M757 132h3M646 134h3M652 135h3M717 135h3M720 134h3M737 134h3M762 134h3M722 139h3M739 141h3M643 141h3M718 141h3M750 141h3M767 141h3M722 142h3M728 144h3M746 144h3M756 144h3M644 145h3M719 146h3M725 145h3M756 145h3M758 145h3M757 145h3M760 145h3M644 146h3M737 146h3M750 146h3M755 147h3M758 147h3M646 148h3M747 148h3M754 148h3M721 150h3M745 151h3M728 151h3M722 152h3M731 152h3M755 152h3M758 153h3M760 153h3M729 154h3M765 155h3M641 155h3M741 155h3M723 158h3M731 159h3M736 159h3M741 161h3M755 161h3M757 162h3M717 163h3M730 163h3M759 164h3M724 165h3M732 165h3M726 166h3M759 166h3M733 167h3M714 168h3M714 168h3M721 168h3M755 168h3M721 169h3M726 169h3M756 170h3M757 170h3M723 171h3M712 173h3M723 173h3M732 173h3M755 173h3M759 175h3M638 175h3M720 175h3M732 175h3M755 175h3M759 175h3M713 176h3M742 176h3M730 177h3M732 178h3M734 179h3M714 180h3M718 180h3M753 180h3M760 181h3M762 181h3M741 182h3M742 182h3M756 183h3M725 184h3M726 184h3M740 184h3M746 184h3M762 185h3M730 185h3M755 185h3M713 186h3M715 187h3M713 188h3M721 188h3M722 188h3M729 188h3M739 188h3M739 188h3M742 188h3M734 189h3M741 189h3M743 189h3M752 189h3M724 190h3M760 190h3M718 191h3M752 191h3M711 193h3M730 193h3M751 193h3M744 194h3M708 195h3M731 195h3M713 196h3M728 196h3M739 196h3M744 196h3M713 198h3M720 198h3M730 198h3M720 199h3M727 199h3M744 199h3M728 200h3M735 201h3M744 201h3M756 202h3M721 203h3M753 203h3M732 204h3M726 206h3M749 206h3M706 207h3M707 207h3M726 207h3M744 207h3M735 208h3M751 208h3M721 209h3M733 209h3M710 210h3M715 213h3M723 213h3M728 213h3M742 215h3M712 215h3M714 215h3M734 215h3M740 215h3M704 216h3M738 216h3M704 217h3M711 217h3M751 217h3M737 218h3M748 218h3M719 219h3M705 221h3M722 220h3M712 222h3M733 226h3M734 226h3M709 228h3M727 229h3M720 229h3M733 229h3M745 229h3M745 230h3M706 233h3M707 232h3M712 232h3M728 232h3M731 232h3M738 235h3M739 235h3M715 236h3M740 236h3M705 237h3M717 237h3M725 237h3M717 239h3M719 240h3M727 242h3M734 243h3M708 243h3M711 243h3M713 243h3M706 244h3M721 244h3M728 244h3M735 244h3M734 245h3M713 246h3M719 247h3M727 247h3M731 250h3M852 266h3M857 267h3M803 270h3M828 270h3M795 271h3M828 272h3M786 273h3M850 273h3M865 274h3M860 274h3M631 275h3M743 275h3M790 275h3M805 277h3M852 276h3M769 277h3M856 277h3M832 278h3M855 278h3M867 278h3M727 280h3M734 279h3M761 279h3M837 279h3M842 279h3M721 280h3M773 280h3M798 280h3M834 280h3M832 281h3M792 282h3M809 282h3M861 283h3M738 284h3M751 284h3M823 284h3M829 284h3M833 284h3M844 284h3M730 285h3M751 285h3M871 285h3M628 286h3M752 286h3M790 286h3M813 286h3M834 286h3M848 287h3M849 286h3M861 286h3M738 287h3M740 287h3M743 287h3M795 288h3M823 287h3M823 287h3M829 287h3M842 288h3M849 287h3M755 288h3M775 288h3M777 288h3M796 288h3M811 288h3M818 288h3M825 288h3M834 288h3M843 288h3M732 289h3M744 289h3M857 290h3M749 290h3M750 290h3M762 290h3M769 290h3M808 290h3M838 290h3M715 291h3M759 291h3M777 291h3M781 291h3M824 291h3M833 291h3M840 291h3M779 292h3M723 293h3M752 293h3M850 293h3M871 295h3M711 296h3M760 295h3M713 296h3M747 297h3M836 297h3M837 297h3M738 298h3M847 300h3M864 301h3M848 302h3M850 303h3M859 303h3M632 305h3M850 304h3M632 306h3M839 307h3M630 308h3M835 309h3M841 310h3M840 311h3M630 313h3M843 312h3M852 312h3M631 313h3M839 313h3M842 314h3M829 315h3M832 316h3M641 317h3M826 318h3M637 320h3M640 320h3M640 321h3M642 321h3M643 321h3M645 322h3M651 323h3M828 322h3M828 322h3M838 322h3M625 323h3M628 323h3M651 323h3M641 324h3M650 324h3M845 324h3M646 325h3M649 326h3M828 327h3M848 327h3M643 328h3M651 330h3M628 330h3M636 332h3M644 333h3M816 332h3M818 333h3M632 334h3M816 334h3M641 335h3M813 335h3M828 335h3M649 336h3M814 337h3M640 338h3M808 339h3M833 340h3M636 341h3M641 342h3M637 343h3M646 343h3M815 343h3M825 343h3M809 344h3M828 344h3M642 345h3M632 346h3M805 346h3M821 348h3M646 349h3M806 349h3M638 350h3M633 351h3M641 351h3M801 355h3M804 354h3M817 354h3M805 355h3M635 356h3M805 357h3M808 358h3M817 358h3M649 359h3M801 360h3M644 362h3M649 362h3M641 363h3M653 363h3M804 363h3M809 363h3M653 364h3M804 364h3M639 366h3M642 367h3M649 367h3M653 368h3M657 368h3M811 368h3M647 370h3M651 371h3M653 371h3M797 374h3M641 377h3M801 378h3M806 378h3M800 379h3M725 55h3M734 55h3M731 55h3M753 55h3M734 54h3" stroke="#000" stroke-opacity="0.8" stroke-width="3" fill="none"/>
<path transform="scale(.5)" d="M692 80h3M688 84h3M691 84h3M701 84h3M689 85h3M683 86h3M680 88h3M686 88h3M688 89h3M696 89h3M704 89h3M681 91h3M687 90h3M692 90h3M682 92h3M697 92h3M691 93h3M692 92h3M701 92h3M706 94h3M675 95h3M692 95h3M679 96h3M673 98h3M683 99h3M694 99h3M698 99h3M707 99h3M676 100h3M694 100h3M704 100h3M706 100h3M705 101h3M682 102h3M670 103h3M677 103h3M680 104h3M691 105h3M697 104h3M703 104h3M706 106h3M687 107h3M692 106h3M708 106h3M667 108h3M700 108h3M701 108h3M676 109h3M707 109h3M708 109h3M712 109h3M698 111h3M666 112h3M699 112h3M706 112h3M669 113h3M705 113h3M698 115h3M698 115h3M704 116h3M704 118h3M663 119h3M661 120h3M660 121h3M661 122h3M664 122h3M662 124h3M660 125h3M713 125h3M705 126h3M705 128h3M659 130h3M713 131h3M709 131h3M704 132h3M710 132h3M712 132h3M657 135h3M708 136h3M656 137h3M709 138h3M708 140h3M707 143h3M706 144h3M709 145h3M703 146h3M713 150h3M706 152h3M706 152h3M710 152h3M711 152h3M713 155h3M650 158h3M649 159h3M708 159h3M704 161h3M705 166h3M712 166h3M711 167h3M706 170h3M702 171h3M708 171h3M703 172h3M711 172h3M640 176h3M640 178h3M702 177h3M705 177h3M644 180h3M642 181h3M703 181h3M706 182h3M638 183h3M642 185h3M644 186h3M700 185h3M700 185h3M708 186h3M708 187h3M699 188h3M707 189h3M639 189h3M643 189h3M700 189h3M697 192h3M641 194h3M642 194h3M635 195h3M701 196h3M641 197h3M701 198h3M637 198h3M638 198h3M697 198h3M699 198h3M703 198h3M635 199h3M639 199h3M698 200h3M636 201h3M701 201h3M636 203h3M698 203h3M637 204h3M697 205h3M703 207h3M703 208h3M636 208h3M701 210h3M698 211h3M697 212h3M701 213h3M703 213h3M634 215h3M702 217h3M634 219h3M633 222h3M635 222h3M698 223h3M699 226h3M634 229h3M634 228h3M692 229h3M697 229h3M689 230h3M634 231h3M700 232h3M630 233h3M690 234h3M691 234h3M630 236h3M689 237h3M695 237h3M697 237h3M694 238h3M695 238h3M697 238h3M697 238h3M630 241h3M686 241h3M698 247h3M708 247h3M630 248h3M711 248h3M721 248h3M685 249h3M686 249h3M683 250h3M712 250h3M692 251h3M714 252h3M694 254h3M724 253h3M689 254h3M690 254h3M711 254h3M683 255h3M686 255h3M725 256h3M683 258h3M701 258h3M701 259h3M728 259h3M686 260h3M687 260h3M698 260h3M731 260h3M688 261h3M703 261h3M713 263h3M698 264h3M706 264h3M680 265h3M699 265h3M708 265h3M717 266h3M685 267h3M694 267h3M726 267h3M682 268h3M686 268h3M696 268h3M699 269h3M689 269h3M694 270h3M698 270h3M704 270h3M708 270h3M724 270h3M689 271h3M713 271h3M714 271h3M693 272h3M700 272h3M684 273h3M689 273h3M718 273h3M712 275h3M719 275h3M722 275h3M701 276h3M718 276h3M690 278h3M711 277h3M707 278h3M715 278h3M682 280h3M686 279h3M697 279h3M700 279h3M702 279h3M691 280h3M691 280h3M698 281h3M707 280h3M680 281h3M710 281h3M700 282h3M704 285h3M710 285h3M713 285h3M682 286h3M696 286h3M706 287h3M706 287h3M709 287h3M712 288h3M699 288h3M699 288h3M704 289h3M678 290h3M678 290h3M685 290h3M686 291h3M692 291h3M808 291h3M692 292h3M696 292h3M700 292h3M704 292h3M704 292h3M692 293h3M700 294h3M705 294h3M823 294h3M694 295h3M705 295h3M706 295h3M775 296h3M795 295h3M799 295h3M804 295h3M685 296h3M695 296h3M825 296h3M682 297h3M689 297h3M704 297h3M717 297h3M779 298h3M787 297h3M797 297h3M813 297h3M821 297h3M692 298h3M696 298h3M705 298h3M762 298h3M774 299h3M783 298h3M788 298h3M679 299h3M685 299h3M687 299h3M701 299h3M778 299h3M791 299h3M801 299h3M809 299h3M697 300h3M700 300h3M709 300h3M711 300h3M712 300h3M755 300h3M798 300h3M640 301h3M684 301h3M697 301h3M733 301h3M736 301h3M758 301h3M797 301h3M801 301h3M813 301h3M813 301h3M696 302h3M702 302h3M737 302h3M761 302h3M791 303h3M831 302h3M717 304h3M786 303h3M792 303h3M724 304h3M740 304h3M753 304h3M814 304h3M823 304h3M829 304h3M686 305h3M696 305h3M722 305h3M727 305h3M728 305h3M750 305h3M770 305h3M797 305h3M819 305h3M640 306h3M684 306h3M684 306h3M705 306h3M720 306h3M732 306h3M733 306h3M736 306h3M737 306h3M749 306h3M765 306h3M765 306h3M767 306h3M772 306h3M799 306h3M800 306h3M693 307h3M711 307h3M730 307h3M753 307h3M755 307h3M766 307h3M776 307h3M776 308h3M780 307h3M789 308h3M795 307h3M811 307h3M693 309h3M782 308h3M782 308h3M799 308h3M802 308h3M814 308h3M691 309h3M707 309h3M710 309h3M732 309h3M741 309h3M747 309h3M773 309h3M775 309h3M788 309h3M798 309h3M814 309h3M644 310h3M691 310h3M714 310h3M720 310h3M809 310h3M819 310h3M644 312h3M701 311h3M734 312h3M753 311h3M770 311h3M772 311h3M791 311h3M806 311h3M646 312h3M707 312h3M727 312h3M747 312h3M748 312h3M759 312h3M772 312h3M781 312h3M791 312h3M798 312h3M801 312h3M801 312h3M803 312h3M827 312h3M708 313h3M729 313h3M743 314h3M747 313h3M765 313h3M765 313h3M650 314h3M706 314h3M727 314h3M764 314h3M769 314h3M789 314h3M792 314h3M799 314h3M798 314h3M681 315h3M715 315h3M726 315h3M732 315h3M770 315h3M778 315h3M815 315h3M694 317h3M714 316h3M759 316h3M782 317h3M791 316h3M802 316h3M671 317h3M680 318h3M691 317h3M711 317h3M739 317h3M740 317h3M760 317h3M773 317h3M687 318h3M696 319h3M704 318h3M728 318h3M730 318h3M739 318h3M740 318h3M753 318h3M794 318h3M676 320h3M719 319h3M746 319h3M762 319h3M697 320h3M709 320h3M744 320h3M757 320h3M769 320h3M779 320h3M788 320h3M671 321h3M714 321h3M720 321h3M750 321h3M753 321h3M757 321h3M767 322h3M679 322h3M693 322h3M709 322h3M732 322h3M733 323h3M740 322h3M763 322h3M764 322h3M771 322h3M773 322h3M785 322h3M788 322h3M791 323h3M657 323h3M658 323h3M676 323h3M688 323h3M691 323h3M699 323h3M721 323h3M726 323h3M727 323h3M731 323h3M735 323h3M753 323h3M760 323h3M761 323h3M775 323h3M781 323h3M816 323h3M683 324h3M690 324h3M733 324h3M734 324h3M763 324h3M768 324h3M790 324h3M794 324h3M806 324h3M809 324h3M671 325h3M700 325h3M740 325h3M757 325h3M763 325h3M769 325h3M659 326h3M663 326h3M709 326h3M711 326h3M723 326h3M735 326h3M738 326h3M774 326h3M787 326h3M789 326h3M807 326h3M663 327h3M665 327h3M708 328h3M712 327h3M718 327h3M728 327h3M803 327h3M812 327h3M662 328h3M695 328h3M702 328h3M721 328h3M740 328h3M777 328h3M777 328h3M780 328h3M802 328h3M702 329h3M709 329h3M729 329h3M798 329h3M713 330h3M727 330h3M733 330h3M791 330h3M802 330h3M678 331h3M692 331h3M693 331h3M704 331h3M723 331h3M788 332h3M685 332h3M717 332h3M723 332h3M795 332h3M662 333h3M710 333h3M720 333h3M785 333h3M794 333h3M794 333h3M803 333h3M675 334h3M680 334h3M694 334h3M665 335h3M676 336h3M684 335h3M708 336h3M715 335h3M787 335h3M793 335h3M671 337h3M678 336h3M683 336h3M687 337h3M705 336h3M711 336h3M713 336h3M682 337h3M792 337h3M807 337h3M660 338h3M679 338h3M785 338h3M794 338h3M651 339h3M675 339h3M653 340h3M681 340h3M687 340h3M703 340h3M781 340h3M789 341h3M793 341h3M794 341h3M651 342h3M669 342h3M689 342h3M784 342h3M664 343h3M689 343h3M696 343h3M799 343h3M650 344h3M672 345h3M679 345h3M686 345h3M691 345h3M801 345h3M670 347h3M783 346h3M675 348h3M683 347h3M670 348h3M676 348h3M783 348h3M799 348h3M651 349h3M663 349h3M673 349h3M686 349h3M799 350h3M801 349h3M667 350h3M673 350h3M798 350h3M675 351h3M676 351h3M651 352h3M799 352h3M673 353h3M790 353h3M681 355h3M686 354h3M796 354h3M657 355h3M675 355h3M786 355h3M660 356h3M783 356h3M793 356h3M666 357h3M669 358h3M679 357h3M789 357h3M795 357h3M797 357h3M657 358h3M784 358h3M685 359h3M785 359h3M791 359h3M672 360h3M785 360h3M675 361h3M788 361h3M789 361h3M781 362h3M785 362h3M671 363h3M787 363h3M670 364h3M785 364h3M684 365h3M686 365h3M793 366h3M664 367h3M782 368h3M786 367h3M788 367h3M792 368h3M661 368h3M674 368h3M795 368h3M680 369h3M682 369h3M783 369h3M665 370h3M795 370h3M671 371h3M662 372h3M782 372h3M786 372h3M781 373h3M784 373h3M787 373h3M653 374h3M656 374h3M664 376h3M795 376h3M668 378h3M783 378h3M778 379h3M781 379h3" stroke="#000" stroke-opacity="0.92" stroke-width="3" fill="none"/>
<path transform="scale(.5)" d="M681 108h3M689 109h3M689 109h3M691 111h3M676 112h3M689 112h3M683 113h3M691 113h3M673 114h3M677 114h3M679 114h3M687 116h3M685 116h3M694 116h3M695 116h3M695 116h3M674 117h3M675 117h3M694 118h3M677 118h3M683 118h3M699 118h3M667 119h3M666 119h3M668 119h3M681 119h3M686 119h3M673 120h3M676 120h3M696 120h3M698 121h3M667 122h3M678 122h3M681 122h3M688 122h3M698 122h3M675 123h3M695 123h3M697 123h3M681 124h3M682 124h3M682 124h3M684 124h3M669 125h3M677 125h3M683 125h3M667 126h3M677 126h3M690 126h3M697 126h3M678 127h3M679 128h3M696 127h3M693 129h3M689 129h3M669 130h3M680 130h3M680 130h3M683 130h3M685 131h3M687 132h3M665 132h3M671 132h3M673 132h3M680 132h3M681 132h3M695 132h3M665 133h3M666 133h3M689 133h3M688 133h3M662 134h3M674 134h3M683 134h3M684 134h3M658 135h3M660 136h3M660 135h3M674 135h3M684 136h3M686 135h3M688 135h3M690 135h3M690 136h3M661 136h3M664 136h3M672 136h3M675 136h3M676 136h3M684 136h3M691 136h3M692 137h3M694 136h3M667 137h3M668 137h3M670 137h3M676 138h3M686 137h3M685 137h3M689 137h3M693 137h3M697 137h3M659 138h3M674 138h3M682 138h3M683 138h3M689 138h3M695 138h3M666 139h3M687 139h3M659 140h3M661 140h3M665 140h3M674 140h3M679 140h3M681 140h3M691 140h3M693 140h3M701 140h3M670 141h3M678 141h3M684 141h3M657 142h3M677 142h3M679 142h3M681 142h3M686 142h3M689 142h3M688 142h3M692 142h3M698 142h3M660 143h3M672 144h3M683 143h3M690 143h3M693 144h3M694 143h3M664 144h3M668 144h3M674 144h3M682 145h3M684 144h3M687 144h3M689 145h3M698 144h3M702 144h3M668 145h3M671 145h3M680 145h3M688 145h3M688 145h3M690 145h3M696 146h3M701 145h3M655 146h3M657 146h3M659 146h3M667 147h3M673 146h3M677 146h3M684 147h3M691 146h3M698 146h3M660 147h3M663 147h3M665 148h3M669 147h3M668 147h3M673 147h3M680 147h3M695 147h3M703 147h3M658 148h3M673 149h3M674 148h3M681 148h3M680 148h3M681 148h3M683 148h3M683 149h3M692 148h3M692 149h3M701 148h3M657 149h3M672 149h3M679 149h3M684 149h3M687 149h3M690 149h3M693 150h3M698 149h3M655 150h3M669 150h3M674 150h3M679 150h3M684 150h3M696 150h3M698 150h3M702 150h3M660 151h3M663 152h3M671 151h3M672 151h3M675 151h3M677 151h3M688 151h3M689 151h3M697 152h3M661 152h3M664 152h3M667 152h3M672 152h3M674 152h3M682 152h3M666 153h3M666 153h3M680 154h3M682 153h3M687 153h3M690 153h3M659 155h3M659 154h3M660 154h3M676 154h3M679 154h3M696 154h3M698 154h3M699 154h3M660 155h3M660 155h3M669 156h3M670 155h3M688 155h3M689 155h3M693 155h3M694 155h3M684 156h3M687 156h3M690 156h3M691 156h3M656 158h3M661 157h3M666 157h3M683 157h3M686 157h3M692 157h3M693 157h3M660 158h3M664 158h3M665 159h3M666 158h3M667 158h3M672 159h3M687 158h3M691 158h3M690 158h3M695 158h3M697 158h3M653 159h3M659 159h3M663 159h3M676 159h3M667 160h3M688 160h3M689 160h3M694 160h3M697 160h3M699 160h3M699 160h3M660 161h3M662 161h3M664 161h3M665 161h3M666 161h3M667 161h3M675 161h3M672 162h3M675 162h3M679 162h3M681 162h3M682 162h3M683 162h3M684 162h3M686 162h3M687 162h3M687 162h3M695 162h3M666 164h3M671 163h3M673 163h3M679 163h3M682 163h3M685 163h3M687 163h3M655 164h3M655 164h3M662 164h3M663 165h3M668 164h3M677 164h3M681 164h3M684 164h3M691 164h3M697 164h3M669 165h3M673 165h3M675 165h3M679 165h3M683 165h3M690 166h3M651 166h3M653 166h3M655 166h3M658 166h3M669 166h3M673 166h3M673 166h3M679 166h3M680 166h3M689 166h3M691 166h3M692 166h3M695 166h3M649 167h3M655 167h3M658 167h3M661 167h3M665 167h3M678 167h3M682 167h3M684 167h3M684 167h3M688 167h3M694 167h3M650 168h3M671 168h3M673 168h3M674 168h3M676 168h3M678 168h3M689 168h3M688 168h3M655 169h3M671 170h3M677 169h3M680 169h3M684 170h3M686 170h3M659 170h3M668 170h3M670 170h3M671 170h3M673 170h3M675 171h3M678 170h3M684 170h3M685 170h3M686 171h3M687 170h3M688 170h3M694 170h3M653 171h3M660 172h3M667 172h3M675 171h3M678 172h3M679 171h3M690 171h3M694 171h3M664 173h3M671 172h3M671 172h3M673 172h3M676 172h3M688 172h3M691 172h3M649 173h3M652 174h3M662 173h3M670 173h3M674 173h3M676 173h3M679 173h3M688 173h3M691 173h3M653 174h3M655 174h3M662 174h3M666 175h3M667 175h3M674 174h3M681 174h3M680 174h3M684 174h3M688 175h3M647 176h3M678 175h3M683 175h3M687 175h3M687 175h3M656 176h3M669 176h3M674 176h3M694 176h3M658 177h3M663 177h3M670 177h3M671 177h3M676 177h3M678 177h3M680 177h3M681 177h3M683 177h3M684 177h3M689 177h3M688 178h3M690 178h3M691 177h3M656 178h3M658 178h3M660 178h3M666 178h3M675 178h3M677 178h3M677 178h3M686 178h3M688 178h3M696 178h3M662 180h3M665 179h3M665 179h3M668 179h3M676 179h3M680 179h3M681 179h3M669 180h3M682 180h3M684 180h3M685 180h3M695 180h3M697 180h3M669 181h3M669 181h3M673 181h3M676 181h3M684 181h3M684 181h3M689 181h3M691 181h3M693 181h3M694 181h3M699 182h3M662 182h3M668 182h3M670 182h3M671 182h3M676 182h3M675 182h3M679 182h3M680 182h3M680 182h3M685 182h3M686 182h3M651 183h3M662 184h3M667 183h3M673 183h3M674 183h3M678 183h3M685 183h3M688 183h3M689 183h3M695 183h3M696 183h3M647 184h3M659 184h3M662 184h3M668 184h3M677 184h3M679 184h3M679 184h3M685 184h3M696 184h3M646 185h3M651 185h3M656 185h3M658 185h3M658 185h3M659 185h3M661 185h3M665 185h3M673 185h3M678 185h3M681 185h3M682 185h3M682 185h3M651 186h3M660 187h3M666 186h3M666 187h3M671 186h3M671 186h3M682 186h3M687 186h3M649 187h3M652 188h3M666 187h3M671 187h3M672 187h3M675 187h3M676 187h3M679 187h3M680 187h3M681 187h3M682 187h3M649 188h3M664 188h3M668 188h3M668 188h3M668 188h3M669 188h3M672 188h3M677 188h3M681 188h3M648 189h3M653 189h3M657 189h3M657 189h3M662 190h3M668 189h3M671 189h3M674 189h3M674 189h3M678 189h3M682 189h3M681 189h3M682 189h3M685 189h3M684 189h3M688 189h3M651 190h3M665 190h3M667 190h3M670 190h3M670 190h3M676 190h3M678 190h3M683 190h3M693 190h3M645 192h3M656 191h3M660 191h3M663 191h3M664 191h3M672 191h3M679 191h3M682 191h3M682 191h3M682 191h3M687 192h3M687 191h3M694 191h3M694 191h3M696 191h3M650 192h3M651 192h3M656 192h3M662 193h3M669 192h3M677 192h3M678 193h3M684 192h3M690 192h3M693 192h3M645 193h3M659 193h3M664 193h3M663 193h3M664 193h3M666 193h3M668 193h3M670 193h3M669 193h3M670 193h3M674 193h3M673 193h3M678 193h3M679 194h3M679 193h3M683 193h3M692 193h3M695 193h3M647 194h3M648 194h3M653 194h3M657 194h3M663 194h3M664 194h3M668 194h3M673 194h3M677 194h3M687 194h3M689 194h3M649 195h3M652 195h3M662 195h3M663 195h3M674 196h3M695 195h3M643 196h3M647 196h3M654 197h3M659 196h3M659 196h3M662 197h3M673 196h3M675 197h3M676 196h3M678 196h3M677 196h3M681 196h3M682 196h3M682 196h3M687 196h3M692 196h3M695 196h3M646 197h3M648 197h3M650 198h3M657 198h3M657 198h3M661 197h3M665 198h3M668 197h3M670 198h3M673 197h3M679 197h3M679 197h3M687 197h3M688 197h3M645 198h3M664 198h3M665 198h3M665 198h3M666 199h3M668 198h3M669 199h3M671 198h3M673 198h3M674 198h3M675 199h3M680 198h3M682 198h3M683 199h3M687 199h3M645 199h3M654 199h3M653 199h3M656 199h3M660 199h3M663 199h3M667 199h3M672 199h3M673 199h3M674 199h3M678 200h3M678 199h3M679 199h3M680 199h3M680 199h3M683 200h3M683 199h3M684 199h3M692 199h3M648 200h3M651 200h3M650 200h3M660 200h3M666 200h3M668 200h3M671 200h3M675 200h3M676 200h3M677 200h3M647 201h3M662 201h3M667 201h3M672 201h3M673 201h3M673 201h3M675 201h3M680 201h3M692 201h3M654 202h3M661 202h3M661 202h3M669 203h3M673 202h3M674 203h3M675 202h3M677 202h3M681 202h3M685 202h3M690 202h3M649 203h3M651 203h3M652 203h3M659 203h3M659 204h3M662 203h3M664 204h3M667 203h3M669 203h3M672 203h3M672 203h3M674 203h3M679 203h3M682 203h3M682 203h3M645 204h3M646 204h3M653 204h3M656 204h3M661 204h3M662 204h3M662 204h3M664 204h3M666 204h3M670 204h3M669 204h3M671 204h3M677 204h3M676 204h3M677 204h3M680 204h3M687 204h3M689 204h3M694 204h3M650 205h3M661 205h3M665 205h3M667 206h3M669 205h3M671 205h3M671 205h3M672 205h3M675 205h3M681 205h3M682 205h3M644 206h3M652 206h3M654 206h3M658 206h3M659 206h3M666 206h3M666 206h3M668 206h3M669 206h3M673 206h3M676 206h3M679 206h3M683 207h3M690 206h3M691 206h3M659 207h3M661 207h3M663 207h3M666 207h3M671 207h3M672 207h3M689 207h3M643 208h3M644 208h3M647 208h3M652 208h3M656 208h3M668 208h3M674 209h3M676 208h3M677 209h3M679 208h3M693 209h3M640 209h3M645 209h3M653 209h3M661 209h3M663 210h3M665 210h3M667 209h3M667 209h3M667 209h3M669 209h3M670 209h3M672 209h3M672 209h3M679 209h3M680 209h3M680 209h3M657 210h3M662 210h3M663 210h3M665 210h3M667 210h3M669 210h3M669 210h3M674 210h3M678 210h3M690 210h3M646 211h3M650 212h3M650 212h3M654 211h3M655 212h3M658 211h3M659 211h3M663 211h3M666 211h3M667 211h3M670 212h3M671 211h3M671 211h3M674 211h3M679 212h3M682 211h3M687 211h3M688 211h3M690 211h3M690 211h3M691 212h3M691 211h3M663 212h3M665 212h3M667 212h3M668 212h3M671 212h3M674 213h3M676 212h3M676 212h3M683 212h3M691 212h3M645 213h3M648 214h3M649 214h3M654 214h3M656 213h3M658 213h3M657 213h3M658 213h3M659 214h3M658 213h3M660 213h3M660 213h3M663 213h3M664 213h3M663 213h3M670 213h3M650 214h3M650 214h3M658 214h3M658 214h3M670 214h3M671 214h3M672 214h3M672 214h3M682 215h3M653 215h3M654 215h3M655 215h3M658 215h3M661 215h3M666 215h3M667 216h3M673 215h3M676 215h3M677 215h3M678 216h3M681 216h3M684 215h3M643 216h3M644 217h3M652 216h3M658 216h3M665 216h3M668 216h3M668 216h3M670 217h3M675 216h3M683 217h3M686 216h3M643 217h3M651 217h3M652 217h3M657 217h3M661 217h3M662 217h3M668 218h3M671 217h3M673 217h3M674 217h3M690 218h3M652 218h3M651 218h3M655 218h3M654 218h3M661 218h3M662 218h3M664 218h3M667 218h3M674 219h3M678 218h3M684 218h3M683 218h3M685 218h3M640 219h3M642 219h3M644 219h3M647 219h3M649 219h3M655 219h3M655 219h3M656 219h3M658 220h3M661 219h3M664 219h3M667 219h3M671 219h3M672 219h3M678 219h3M683 219h3M652 220h3M652 220h3M660 221h3M660 220h3M662 221h3M664 220h3M664 220h3M666 221h3M667 220h3M669 220h3M676 221h3M682 220h3M638 221h3M650 222h3M651 221h3M656 221h3M658 221h3M662 221h3M669 222h3M670 222h3M674 221h3M674 222h3M678 221h3M645 222h3M651 223h3M653 222h3M657 222h3M662 222h3M662 222h3M664 222h3M666 222h3M668 222h3M672 223h3M675 222h3M687 222h3M641 223h3M648 223h3M650 223h3M650 224h3M651 223h3M657 223h3M658 223h3M657 223h3M658 223h3M659 223h3M662 223h3M662 223h3M664 223h3M664 223h3M665 223h3M665 223h3M668 224h3M670 223h3M673 223h3M674 223h3M685 223h3M638 224h3M641 224h3M646 224h3M651 224h3M658 224h3M662 224h3M664 225h3M665 224h3M667 224h3M674 224h3M685 224h3M647 225h3M650 225h3M651 225h3M653 226h3M661 225h3M662 225h3M663 225h3M664 225h3M678 225h3M681 225h3M639 226h3M650 226h3M653 227h3M655 227h3M656 226h3M661 226h3M664 227h3M667 226h3M668 226h3M669 226h3M670 226h3M670 226h3M674 227h3M679 226h3M680 226h3M681 227h3M681 226h3M687 226h3M639 227h3M641 227h3M651 227h3M653 227h3M653 227h3M653 227h3M655 227h3M657 227h3M658 227h3M660 227h3M664 227h3M665 227h3M667 227h3M670 227h3M671 227h3M671 227h3M672 227h3M677 228h3M636 228h3M648 229h3M654 228h3M654 229h3M657 228h3M660 228h3M664 228h3M670 228h3M672 228h3M672 228h3M675 228h3M682 228h3M684 228h3M685 228h3M648 229h3M653 229h3M652 230h3M657 229h3M660 229h3M660 229h3M664 229h3M671 229h3M681 229h3M683 230h3M644 231h3M653 231h3M653 230h3M656 230h3M656 231h3M660 230h3M660 230h3M667 230h3M667 230h3M672 230h3M676 230h3M677 231h3M681 230h3M680 230h3M684 230h3M686 230h3M639 231h3M648 231h3M657 231h3M657 231h3M657 231h3M657 231h3M658 231h3M660 231h3M664 231h3M666 231h3M671 231h3M672 231h3M680 231h3M680 232h3M686 231h3M641 232h3M640 233h3M642 232h3M645 232h3M649 232h3M649 232h3M655 232h3M661 232h3M662 232h3M664 232h3M670 233h3M675 232h3M687 232h3M641 233h3M642 234h3M645 233h3M648 233h3M651 233h3M660 233h3M661 233h3M663 233h3M668 233h3M675 233h3M638 234h3M640 234h3M644 234h3M649 234h3M650 234h3M653 234h3M653 234h3M655 234h3M658 234h3M658 234h3M663 234h3M664 234h3M666 234h3M667 234h3M667 234h3M673 234h3M677 234h3M679 234h3M683 234h3M641 235h3M647 235h3M653 235h3M656 235h3M658 235h3M659 235h3M664 235h3M666 235h3M666 235h3M669 235h3M670 235h3M671 235h3M673 235h3M673 236h3M675 235h3M679 235h3M642 236h3M648 236h3M648 236h3M653 236h3M656 236h3M659 236h3M661 236h3M661 236h3M664 236h3M667 236h3M672 236h3M682 236h3M638 237h3M639 237h3M647 238h3M650 237h3M651 237h3M654 237h3M654 237h3M656 237h3M664 237h3M667 237h3M672 237h3M672 237h3M671 237h3M671 237h3M673 238h3M674 237h3M675 237h3M686 237h3M642 238h3M649 238h3M653 238h3M653 238h3M656 238h3M656 238h3M658 238h3M658 238h3M657 238h3M661 238h3M662 238h3M661 238h3M664 238h3M667 238h3M670 238h3M676 238h3M683 238h3M637 239h3M640 239h3M640 239h3M645 239h3M648 240h3M649 239h3M650 239h3M650 239h3M652 239h3M654 239h3M656 239h3M661 239h3M665 239h3M666 239h3M672 239h3M683 239h3M636 240h3M639 240h3M644 241h3M646 240h3M648 240h3M647 240h3M648 240h3M652 240h3M652 240h3M658 240h3M667 240h3M667 240h3M669 240h3M670 241h3M671 240h3M673 240h3M673 240h3M674 240h3M675 240h3M676 240h3M680 241h3M640 241h3M643 241h3M644 241h3M645 241h3M646 242h3M650 241h3M652 241h3M652 241h3M653 241h3M654 241h3M655 241h3M666 242h3M674 241h3M681 242h3M683 241h3M684 241h3M632 242h3M635 243h3M638 242h3M641 242h3M641 242h3M648 242h3M648 242h3M650 242h3M654 242h3M659 242h3M662 242h3M666 242h3M667 242h3M668 242h3M668 242h3M646 243h3M646 243h3M649 243h3M654 243h3M656 243h3M657 243h3M657 243h3M663 243h3M665 243h3M666 243h3M671 243h3M673 243h3M677 243h3M685 243h3M636 244h3M644 244h3M644 244h3M646 244h3M646 244h3M647 244h3M651 244h3M652 244h3M656 244h3M657 244h3M661 244h3M664 244h3M664 244h3M664 244h3M667 244h3M675 245h3M674 244h3M677 245h3M646 246h3M650 245h3M652 245h3M653 245h3M655 245h3M654 245h3M656 245h3M656 246h3M659 246h3M661 245h3M663 245h3M670 246h3M680 245h3M641 246h3M645 246h3M648 246h3M650 246h3M651 246h3M651 246h3M651 246h3M651 246h3M653 246h3M655 246h3M678 246h3M681 246h3M646 247h3M650 248h3M651 247h3M654 247h3M654 247h3M657 247h3M660 247h3M660 248h3M667 247h3M674 247h3M673 248h3M675 247h3M636 248h3M640 248h3M645 248h3M648 248h3M649 248h3M652 248h3M652 248h3M653 248h3M654 249h3M656 248h3M656 248h3M661 248h3M667 248h3M666 248h3M669 248h3M671 248h3M673 248h3M677 248h3M682 248h3M632 249h3M634 249h3M639 249h3M639 249h3M640 249h3M641 249h3M643 249h3M646 250h3M650 249h3M650 249h3M651 249h3M653 249h3M661 249h3M662 249h3M663 250h3M666 249h3M669 250h3M673 249h3M675 249h3M678 249h3M681 249h3M631 250h3M643 251h3M646 251h3M648 250h3M651 250h3M651 250h3M652 250h3M659 250h3M666 250h3M668 250h3M671 250h3M678 250h3M639 252h3M643 251h3M648 251h3M655 251h3M655 251h3M656 251h3M657 251h3M662 251h3M662 252h3M668 251h3M669 252h3M671 251h3M671 251h3M673 251h3M678 252h3M678 251h3M640 252h3M640 252h3M646 252h3M648 252h3M647 252h3M649 252h3M649 252h3M653 252h3M653 252h3M653 252h3M654 252h3M654 252h3M657 252h3M662 252h3M664 252h3M665 252h3M666 252h3M666 252h3M677 252h3M678 252h3M641 253h3M647 253h3M648 253h3M651 253h3M653 253h3M654 253h3M663 253h3M663 253h3M663 253h3M664 253h3M664 253h3M665 253h3M669 253h3M630 254h3M637 254h3M644 254h3M647 254h3M649 254h3M651 254h3M651 254h3M650 254h3M655 254h3M657 254h3M657 254h3M658 254h3M665 254h3M666 254h3M668 254h3M673 254h3M676 254h3M677 254h3M635 255h3M638 255h3M641 255h3M643 255h3M644 255h3M645 256h3M647 255h3M647 255h3M649 256h3M650 255h3M661 255h3M663 255h3M664 255h3M666 255h3M667 255h3M671 255h3M673 255h3M677 255h3M634 256h3M638 256h3M643 257h3M655 256h3M656 256h3M656 256h3M658 256h3M658 256h3M659 256h3M667 256h3M676 256h3M638 258h3M641 257h3M644 257h3M648 257h3M649 257h3M651 257h3M651 257h3M652 257h3M654 258h3M658 257h3M659 257h3M659 257h3M658 257h3M660 257h3M660 257h3M665 257h3M666 257h3M667 257h3M671 257h3M670 257h3M674 257h3M677 257h3M634 258h3M635 258h3M638 258h3M651 258h3M651 258h3M654 259h3M656 259h3M658 258h3M660 258h3M659 258h3M661 258h3M661 258h3M663 258h3M664 258h3M670 258h3M674 258h3M680 258h3M634 259h3M636 259h3M637 260h3M647 259h3M653 259h3M660 259h3M660 259h3M667 259h3M669 259h3M679 259h3M680 259h3M636 261h3M646 260h3M649 260h3M650 260h3M653 260h3M655 261h3M655 260h3M656 260h3M659 260h3M659 260h3M660 260h3M661 260h3M662 260h3M664 260h3M664 260h3M664 260h3M665 260h3M666 260h3M646 261h3M650 261h3M652 261h3M653 261h3M657 261h3M657 262h3M658 262h3M663 261h3M673 261h3M633 262h3M634 263h3M644 263h3M645 262h3M646 262h3M647 262h3M652 262h3M653 262h3M655 262h3M654 262h3M656 262h3M656 263h3M658 262h3M658 262h3M666 262h3M666 262h3M670 262h3M670 262h3M671 262h3M678 262h3M630 263h3M631 263h3M631 263h3M634 263h3M639 264h3M647 263h3M653 264h3M655 263h3M655 263h3M659 263h3M662 263h3M664 263h3M663 263h3M664 263h3M671 263h3M677 263h3M636 264h3M638 264h3M643 264h3M643 264h3M644 264h3M647 264h3M648 264h3M647 264h3M651 264h3M652 264h3M652 264h3M652 265h3M653 264h3M655 264h3M654 264h3M657 264h3M659 264h3M671 264h3M673 265h3M674 264h3M634 265h3M648 265h3M648 265h3M650 265h3M653 265h3M653 266h3M653 265h3M654 265h3M658 265h3M657 265h3M659 265h3M660 265h3M663 265h3M663 265h3M664 265h3M667 265h3M670 265h3M672 265h3M636 266h3M638 266h3M641 266h3M645 266h3M646 266h3M648 266h3M651 266h3M651 266h3M655 266h3M655 266h3M657 266h3M657 266h3M667 266h3M641 267h3M642 267h3M644 267h3M648 267h3M649 267h3M652 267h3M657 267h3M657 267h3M658 267h3M659 267h3M667 267h3M670 267h3M644 268h3M643 268h3M644 268h3M645 268h3M646 268h3M647 268h3M650 268h3M652 268h3M653 268h3M654 268h3M654 268h3M658 268h3M664 268h3M676 268h3M639 270h3M646 269h3M646 269h3M647 269h3M648 269h3M647 269h3M649 269h3M651 269h3M651 269h3M660 270h3M662 269h3M662 269h3M663 269h3M663 269h3M663 270h3M664 269h3M665 269h3M666 270h3M666 269h3M672 269h3M678 269h3M640 270h3M645 270h3M645 270h3M647 270h3M646 270h3M649 270h3M660 270h3M662 270h3M664 270h3M666 270h3M674 270h3M676 270h3M634 271h3M636 271h3M646 271h3M647 271h3M650 272h3M650 272h3M653 271h3M659 271h3M664 271h3M665 271h3M669 271h3M672 271h3M675 271h3M636 272h3M637 272h3M641 273h3M647 272h3M649 272h3M651 272h3M654 272h3M655 272h3M659 272h3M660 272h3M664 272h3M665 272h3M665 272h3M666 272h3M671 272h3M677 272h3M641 273h3M642 273h3M641 273h3M642 273h3M643 273h3M644 274h3M648 273h3M649 273h3M650 273h3M652 273h3M654 273h3M657 274h3M656 273h3M657 273h3M661 273h3M667 273h3M668 273h3M669 274h3M672 273h3M647 274h3M649 275h3M648 274h3M650 274h3M653 274h3M654 274h3M656 274h3M655 274h3M661 274h3M666 275h3M672 274h3M676 275h3M642 275h3M643 275h3M643 275h3M644 275h3M646 275h3M647 276h3M649 275h3M649 275h3M656 275h3M659 275h3M664 275h3M668 275h3M632 276h3M634 276h3M638 276h3M640 276h3M640 276h3M646 276h3M646 276h3M648 276h3M648 276h3M650 276h3M653 276h3M656 276h3M660 276h3M638 277h3M641 277h3M640 277h3M643 278h3M649 277h3M650 277h3M651 277h3M651 277h3M651 278h3M653 278h3M652 277h3M654 278h3M654 277h3M656 277h3M669 277h3M669 277h3M638 278h3M638 278h3M641 278h3M643 278h3M648 278h3M653 278h3M655 278h3M657 278h3M657 279h3M656 278h3M657 278h3M657 278h3M659 278h3M665 278h3M665 278h3M633 279h3M638 279h3M643 279h3M644 279h3M648 279h3M647 279h3M649 279h3M650 279h3M651 279h3M651 279h3M655 279h3M659 279h3M668 280h3M634 280h3M642 280h3M643 280h3M643 280h3M647 280h3M649 280h3M653 280h3M655 280h3M655 280h3M656 280h3M660 280h3M660 280h3M661 280h3M662 280h3M667 280h3M671 281h3M633 281h3M637 281h3M640 281h3M640 281h3M643 281h3M647 281h3M655 281h3M654 282h3M659 282h3M636 282h3M637 282h3M638 282h3M639 282h3M640 282h3M642 282h3M641 282h3M642 282h3M646 282h3M645 282h3M646 282h3M649 282h3M650 283h3M654 282h3M655 282h3M657 282h3M658 282h3M659 282h3M661 282h3M663 282h3M664 282h3M666 282h3M676 282h3M635 283h3M637 283h3M640 283h3M642 283h3M646 283h3M646 283h3M652 283h3M653 283h3M653 283h3M659 283h3M663 283h3M668 284h3M669 283h3M677 283h3M637 284h3M637 284h3M638 284h3M645 284h3M656 284h3M660 284h3M634 285h3M637 285h3M641 285h3M642 285h3M643 285h3M648 285h3M648 285h3M648 285h3M648 285h3M649 285h3M654 285h3M654 285h3M659 285h3M662 285h3M662 286h3M667 285h3M671 285h3M676 285h3M648 286h3M651 286h3M652 286h3M653 287h3M656 286h3M663 286h3M666 286h3M671 287h3M676 286h3M677 286h3M634 287h3M638 287h3M644 288h3M646 287h3M648 287h3M636 288h3M643 288h3M644 288h3M644 289h3M643 288h3M643 288h3M650 288h3M653 288h3M655 288h3M657 288h3M664 288h3M671 289h3M671 288h3M640 289h3M641 290h3M645 289h3M648 289h3M648 289h3M649 289h3M650 289h3M652 289h3M652 289h3M659 290h3M660 289h3M662 289h3M670 289h3M639 290h3M642 290h3M642 290h3M644 290h3M646 290h3M647 290h3M647 290h3M648 290h3M649 290h3M650 290h3M651 290h3M654 290h3M665 290h3M668 290h3M639 291h3M647 291h3M648 291h3M648 291h3M648 291h3M649 291h3M650 291h3M649 292h3M656 291h3M660 291h3M664 291h3M638 292h3M648 292h3M651 292h3M650 293h3M655 292h3M659 292h3M666 293h3M666 292h3M666 292h3M667 292h3M639 293h3M647 293h3M649 293h3M655 293h3M656 293h3M657 293h3M658 294h3M661 293h3M663 293h3M664 293h3M674 293h3M642 295h3M643 294h3M645 295h3M645 294h3M649 294h3M654 294h3M661 295h3M661 294h3M661 294h3M673 294h3M646 295h3M648 295h3M650 296h3M653 295h3M655 295h3M656 296h3M657 295h3M658 295h3M660 295h3M661 295h3M662 295h3M664 295h3M669 295h3M675 295h3M677 295h3M643 296h3M643 296h3M643 296h3M645 297h3M649 296h3M651 296h3M653 296h3M654 296h3M655 296h3M654 296h3M657 296h3M658 296h3M659 296h3M659 296h3M661 296h3M667 296h3M676 297h3M648 297h3M651 297h3M652 297h3M658 297h3M661 297h3M673 297h3M649 298h3M651 298h3M651 298h3M654 298h3M662 298h3M668 298h3M674 298h3M640 299h3M642 299h3M643 299h3M642 299h3M644 299h3M647 299h3M649 299h3M652 299h3M653 299h3M654 299h3M677 299h3M643 300h3M644 300h3M652 300h3M661 300h3M663 300h3M644 302h3M647 301h3M652 301h3M652 301h3M652 302h3M659 301h3M663 301h3M674 301h3M647 302h3M646 302h3M647 303h3M651 302h3M652 302h3M654 302h3M659 302h3M662 303h3M662 302h3M645 303h3M645 303h3M647 303h3M653 303h3M658 304h3M659 305h3M666 304h3M668 304h3M674 304h3M678 304h3M645 305h3M647 305h3M649 305h3M649 306h3M654 305h3M659 305h3M660 305h3M661 305h3M690 305h3M691 305h3M645 306h3M656 306h3M658 306h3M669 306h3M671 306h3M677 306h3M678 306h3M688 306h3M693 307h3M658 307h3M675 307h3M678 308h3M650 308h3M651 308h3M652 308h3M655 308h3M656 308h3M667 309h3M671 308h3M649 309h3M649 309h3M651 309h3M661 309h3M664 310h3M665 309h3M671 309h3M672 310h3M679 309h3M684 310h3M656 310h3M658 311h3M660 310h3M668 310h3M668 310h3M670 310h3M651 311h3M662 311h3M663 311h3M680 311h3M686 311h3M673 312h3M663 313h3M671 313h3M655 314h3M656 314h3M665 314h3M666 314h3M662 315h3M661 316h3M769 326h3M761 327h3M747 328h3M772 328h3M748 329h3M759 329h3M768 329h3M752 330h3M755 331h3M769 331h3M735 331h3M754 331h3M751 332h3M753 332h3M765 332h3M742 333h3M758 333h3M731 334h3M738 334h3M750 334h3M757 335h3M724 335h3M730 335h3M748 335h3M768 335h3M716 336h3M737 336h3M740 336h3M742 336h3M764 336h3M777 336h3M715 337h3M717 337h3M725 337h3M744 337h3M745 337h3M751 337h3M751 338h3M751 337h3M763 337h3M725 338h3M737 338h3M745 338h3M747 338h3M763 338h3M764 338h3M773 339h3M748 339h3M754 339h3M760 339h3M766 339h3M708 340h3M719 340h3M739 340h3M747 340h3M757 340h3M703 342h3M715 341h3M716 341h3M719 341h3M733 342h3M737 341h3M741 341h3M747 341h3M749 341h3M750 341h3M750 341h3M761 341h3M774 341h3M709 342h3M723 342h3M723 342h3M732 342h3M733 342h3M737 342h3M754 342h3M755 343h3M767 342h3M717 343h3M730 344h3M744 343h3M747 343h3M761 343h3M772 343h3M777 343h3M697 344h3M698 345h3M713 344h3M726 344h3M744 344h3M751 344h3M754 344h3M758 344h3M764 344h3M766 344h3M777 344h3M719 345h3M749 345h3M762 345h3M696 346h3M706 346h3M710 346h3M715 346h3M718 346h3M718 346h3M735 347h3M771 346h3M781 346h3M737 347h3M737 348h3M739 347h3M743 347h3M775 347h3M695 348h3M713 348h3M713 349h3M717 348h3M717 348h3M719 348h3M723 348h3M728 348h3M737 348h3M736 348h3M757 348h3M757 348h3M764 348h3M772 348h3M705 349h3M707 349h3M712 349h3M727 350h3M735 349h3M740 349h3M747 349h3M756 349h3M773 349h3M782 349h3M705 350h3M710 350h3M711 350h3M720 350h3M733 350h3M751 350h3M763 350h3M777 350h3M701 351h3M709 351h3M714 351h3M721 351h3M726 351h3M738 351h3M746 351h3M782 351h3M691 352h3M696 352h3M705 352h3M722 352h3M735 352h3M739 352h3M743 352h3M743 353h3M745 352h3M756 352h3M699 354h3M708 353h3M713 353h3M721 353h3M729 353h3M736 353h3M738 353h3M741 353h3M747 353h3M755 353h3M756 353h3M762 353h3M768 353h3M767 353h3M780 353h3M713 354h3M720 354h3M725 354h3M729 354h3M734 354h3M738 354h3M739 354h3M757 354h3M695 355h3M706 355h3M710 355h3M710 355h3M720 355h3M727 355h3M732 355h3M737 355h3M737 355h3M745 355h3M750 355h3M755 355h3M759 355h3M760 355h3M762 355h3M766 356h3M769 355h3M773 355h3M696 356h3M708 356h3M726 356h3M730 356h3M740 356h3M740 357h3M758 356h3M782 356h3M692 357h3M730 357h3M736 358h3M744 357h3M757 357h3M759 358h3M762 357h3M762 358h3M775 357h3M697 358h3M704 358h3M720 359h3M728 358h3M731 358h3M734 358h3M735 358h3M737 358h3M741 358h3M743 358h3M744 359h3M749 359h3M749 358h3M753 358h3M767 358h3M778 358h3M695 359h3M703 359h3M704 359h3M704 359h3M708 359h3M712 359h3M732 360h3M734 359h3M737 359h3M743 359h3M757 359h3M757 359h3M767 359h3M770 359h3M773 359h3M698 360h3M702 360h3M704 360h3M709 360h3M720 360h3M728 360h3M731 361h3M732 360h3M736 360h3M746 360h3M760 360h3M775 360h3M696 361h3M706 361h3M726 361h3M741 361h3M740 361h3M743 361h3M751 361h3M759 361h3M761 361h3M766 361h3M768 362h3M697 362h3M698 362h3M698 362h3M708 362h3M715 362h3M720 362h3M724 362h3M724 362h3M737 363h3M738 362h3M741 363h3M745 362h3M745 362h3M753 362h3M775 362h3M777 362h3M697 363h3M698 363h3M701 364h3M708 364h3M713 363h3M718 363h3M724 363h3M739 363h3M741 363h3M744 363h3M744 363h3M746 363h3M748 364h3M754 363h3M689 364h3M708 364h3M732 364h3M732 364h3M744 365h3M745 364h3M747 364h3M751 364h3M757 364h3M758 364h3M760 364h3M775 364h3M778 364h3M777 364h3M737 365h3M739 365h3M745 365h3M746 366h3M750 365h3M759 365h3M764 365h3M764 365h3M704 367h3M710 366h3M720 366h3M722 366h3M725 366h3M730 366h3M730 366h3M732 366h3M733 366h3M734 366h3M740 366h3M741 366h3M743 366h3M748 366h3M757 366h3M763 366h3M770 367h3M691 367h3M691 367h3M696 368h3M699 367h3M718 367h3M720 367h3M722 367h3M723 367h3M728 367h3M733 367h3M739 368h3M744 367h3M746 367h3M750 367h3M753 367h3M752 367h3M762 367h3M762 367h3M769 367h3M776 367h3M706 369h3M707 368h3M709 368h3M721 368h3M731 368h3M733 368h3M738 368h3M745 368h3M746 368h3M753 369h3M753 368h3M771 368h3M710 369h3M711 369h3M712 369h3M718 369h3M721 369h3M727 369h3M730 369h3M734 369h3M740 369h3M739 369h3M758 369h3M761 369h3M761 369h3M764 369h3M701 370h3M705 370h3M709 370h3M710 370h3M711 370h3M714 370h3M717 370h3M730 370h3M730 370h3M731 370h3M731 370h3M733 370h3M734 370h3M739 370h3M774 370h3M775 370h3M681 371h3M690 371h3M706 371h3M707 371h3M710 371h3M711 371h3M712 371h3M714 371h3M726 371h3M730 371h3M736 372h3M738 371h3M746 371h3M747 371h3M751 372h3M763 371h3M775 371h3M777 371h3M690 372h3M701 372h3M701 372h3M714 372h3M715 372h3M718 372h3M724 372h3M729 372h3M744 372h3M744 372h3M745 372h3M749 372h3M755 372h3M759 372h3M678 373h3M684 373h3M693 373h3M694 373h3M705 373h3M711 374h3M718 373h3M719 373h3M721 373h3M724 373h3M723 374h3M733 373h3M734 373h3M736 373h3M742 373h3M743 373h3M744 373h3M756 373h3M758 373h3M759 373h3M684 374h3M690 374h3M694 374h3M702 374h3M703 374h3M722 375h3M736 374h3M742 374h3M743 374h3M746 374h3M748 374h3M754 374h3M681 375h3M682 375h3M695 375h3M696 375h3M712 375h3M720 375h3M729 375h3M728 375h3M729 375h3M731 375h3M741 375h3M740 375h3M742 375h3M746 375h3M751 375h3M767 375h3M776 375h3M693 376h3M704 376h3M707 376h3M711 376h3M713 376h3M716 376h3M718 377h3M727 376h3M726 376h3M728 376h3M730 376h3M732 376h3M733 376h3M745 376h3M774 377h3M691 377h3M699 377h3M704 377h3M705 377h3M705 377h3M708 377h3M709 377h3M717 377h3M723 377h3M733 377h3M748 377h3M753 377h3M753 377h3M765 377h3M766 377h3M681 378h3M692 378h3M692 378h3M693 378h3M703 378h3M708 379h3M712 378h3M718 378h3M725 378h3M738 378h3M740 378h3M756 378h3M769 378h3M689 379h3M700 379h3M700 379h3M701 379h3M701 379h3M702 379h3M707 379h3M709 379h3M718 379h3M729 380h3M734 379h3M734 379h3M737 379h3M738 379h3M746 379h3M752 379h3M756 379h3M757 379h3M767 379h3" stroke="#000" stroke-opacity="1.0" stroke-width="3" fill="none"/>
<path d="M85 29.6C87.92 28.77 91.92 28.55 95 28.5C98.08 28.45 101.25 28.47 103.5 29.3C105.75 30.13 107.27 31.72 108.5 33.5C109.73 35.28 110.25 37.25 110.9 40C111.55 42.75 112.15 46.67 112.4 50C112.65 53.33 112.57 56.07 112.4 60C112.23 63.93 112 68.72 111.4 73.6C110.8 78.48 109.95 84.08 108.8 89.3C107.65 94.52 106.55 99.78 104.5 104.9C102.45 110.02 99.08 115.32 96.5 120C93.92 124.68 91.42 128.33 89 133C86.58 137.67 84.17 143 82 148C79.83 153 77.92 158.33 76 163C74.08 167.67 72.5 173 70.5 176C68.5 179 66.25 180.83 64 181C61.75 181.17 59.17 179.5 57 177C54.83 174.5 52.75 169.67 51 166C49.25 162.33 47.88 158.92 46.5 155C45.12 151.08 43.5 147.5 42.7 142.5C41.9 137.5 41.65 130.42 41.7 125C41.75 119.58 42.08 115.67 43 110C43.92 104.33 45.5 97.63 47.2 91C48.9 84.37 51.23 75.7 53.2 70.2C55.17 64.7 57.12 61.53 59 58C60.88 54.47 62.5 52 64.5 49C66.5 46 68.83 42.58 71 40C73.17 37.42 75.17 35.23 77.5 33.5C79.83 31.77 82.08 30.43 85 29.6Z" fill="none" stroke="#000" stroke-width="1.1"/>
<path d="M355 27.8C358.08 26.92 362.67 27.2 366.5 27.2C370.33 27.2 375.33 27 378 27.8C380.67 28.6 381.4 29.97 382.5 32C383.6 34.03 384.05 36.22 384.6 40C385.15 43.78 385.73 49.37 385.8 54.7C385.87 60.03 385.58 66.78 385 72C384.42 77.22 383.18 81.63 382.3 86C381.42 90.37 380.78 93.95 379.7 98.2C378.62 102.45 377.83 106.5 375.8 111.5C373.77 116.5 370.62 123.1 367.5 128.2C364.38 133.3 360.85 138.05 357.1 142.1C353.35 146.15 348.43 149.75 345 152.5C341.57 155.25 338.83 157.25 336.5 158.6C334.17 159.95 332.67 160.65 331 160.6C329.33 160.55 328.13 160.15 326.5 158.3C324.87 156.45 322.68 153.65 321.2 149.5C319.72 145.35 318.33 138.98 317.6 133.4C316.87 127.82 316.73 121.28 316.8 116C316.87 110.72 317.22 106.7 318 101.7C318.78 96.7 320.2 91.22 321.5 86C322.8 80.78 323.92 75.62 325.8 70.4C327.68 65.18 330.18 59.6 332.8 54.7C335.42 49.8 338.97 44.7 341.5 41C344.03 37.3 345.75 34.7 348 32.5C350.25 30.3 351.92 28.68 355 27.8Z" fill="none" stroke="#000" stroke-width="1.1"/>
<rect x="34" y="27.5" width="206.5" height="203.2" fill="none" stroke="#000" stroke-width="1.4"/>
<rect x="307" y="26.5" width="205.3" height="203.7" fill="none" stroke="#000" stroke-width="1.4"/>
<rect x="34.3" y="281.8" width="206.7" height="203.5" fill="none" stroke="#000" stroke-width="1.4"/>
<rect x="305.5" y="282" width="206.5" height="203.3" fill="none" stroke="#000" stroke-width="1.4"/>
<path d="M34.3 230.7v4.5M42.32 230.7v2.5M50.33 230.7v2.5M58.35 230.7v2.5M66.36 230.7v2.5M74.38 230.7v4.5M82.4 230.7v2.5M90.41 230.7v2.5M98.43 230.7v2.5M106.44 230.7v2.5M114.46 230.7v4.5M122.48 230.7v2.5M130.49 230.7v2.5M138.51 230.7v2.5M146.52 230.7v2.5M154.54 230.7v4.5M162.56 230.7v2.5M170.57 230.7v2.5M178.59 230.7v2.5M186.6 230.7v2.5M194.62 230.7v4.5M202.64 230.7v2.5M210.65 230.7v2.5M218.67 230.7v2.5M226.68 230.7v2.5M234.7 230.7v4.5" stroke="#000" stroke-width="1.2" fill="none"/>
<text x="31.58" y="243.09" font-family="'Liberation Sans', sans-serif" font-size="9.7" stroke="#000" stroke-width="0.2" style="letter-spacing:0.75px">0</text>
<text x="65.48" y="243.09" font-family="'Liberation Sans', sans-serif" font-size="9.7" stroke="#000" stroke-width="0.2" style="letter-spacing:0.75px">200</text>
<text x="105.71" y="243.09" font-family="'Liberation Sans', sans-serif" font-size="9.7" stroke="#000" stroke-width="0.2" style="letter-spacing:0.75px">400</text>
<text x="145.64" y="243.09" font-family="'Liberation Sans', sans-serif" font-size="9.7" stroke="#000" stroke-width="0.2" style="letter-spacing:0.75px">600</text>
<text x="185.74" y="243.09" font-family="'Liberation Sans', sans-serif" font-size="9.7" stroke="#000" stroke-width="0.2" style="letter-spacing:0.75px">800</text>
<text x="222.6" y="243.09" font-family="'Liberation Sans', sans-serif" font-size="9.7" stroke="#000" stroke-width="0.2" style="letter-spacing:0.75px">1000</text>
<path d="M34 230.7h-4.5M34 222.78h-2.5M34 214.85h-2.5M34 206.93h-2.5M34 199h-2.5M34 191.08h-4.5M34 183.16h-2.5M34 175.23h-2.5M34 167.31h-2.5M34 159.38h-2.5M34 151.46h-4.5M34 143.54h-2.5M34 135.61h-2.5M34 127.69h-2.5M34 119.76h-2.5M34 111.84h-4.5M34 103.92h-2.5M34 95.99h-2.5M34 88.07h-2.5M34 80.14h-2.5M34 72.22h-4.5M34 64.3h-2.5M34 56.37h-2.5M34 48.45h-2.5M34 40.52h-2.5M34 32.6h-4.5" stroke="#000" stroke-width="1.2" fill="none"/>
<text transform="translate(25.7 233.42) rotate(-90)" font-family="'Liberation Sans', sans-serif" font-size="9.7" stroke="#000" stroke-width="0.2" style="letter-spacing:0.75px">0</text>
<text transform="translate(25.7 199.98) rotate(-90)" font-family="'Liberation Sans', sans-serif" font-size="9.7" stroke="#000" stroke-width="0.2" style="letter-spacing:0.75px">200</text>
<text transform="translate(25.7 160.21) rotate(-90)" font-family="'Liberation Sans', sans-serif" font-size="9.7" stroke="#000" stroke-width="0.2" style="letter-spacing:0.75px">400</text>
<text transform="translate(25.7 120.74) rotate(-90)" font-family="'Liberation Sans', sans-serif" font-size="9.7" stroke="#000" stroke-width="0.2" style="letter-spacing:0.75px">600</text>
<text transform="translate(25.7 81.1) rotate(-90)" font-family="'Liberation Sans', sans-serif" font-size="9.7" stroke="#000" stroke-width="0.2" style="letter-spacing:0.75px">800</text>
<text transform="translate(25.7 44.7) rotate(-90)" font-family="'Liberation Sans', sans-serif" font-size="9.7" stroke="#000" stroke-width="0.2" style="letter-spacing:0.75px">1000</text>
<path d="M307.7 230.2v4.5M315.65 230.2v2.5M323.6 230.2v2.5M331.56 230.2v2.5M339.51 230.2v2.5M347.46 230.2v4.5M355.41 230.2v2.5M363.36 230.2v2.5M371.32 230.2v2.5M379.27 230.2v2.5M387.22 230.2v4.5M395.17 230.2v2.5M403.12 230.2v2.5M411.08 230.2v2.5M419.03 230.2v2.5M426.98 230.2v4.5M434.93 230.2v2.5M442.88 230.2v2.5M450.84 230.2v2.5M458.79 230.2v2.5M466.74 230.2v4.5M474.69 230.2v2.5M482.64 230.2v2.5M490.6 230.2v2.5M498.55 230.2v2.5M506.5 230.2v4.5" stroke="#000" stroke-width="1.2" fill="none"/>
<text x="304.98" y="243.29" font-family="'Liberation Sans', sans-serif" font-size="9.7" stroke="#000" stroke-width="0.2" style="letter-spacing:0.75px">0</text>
<text x="338.56" y="243.29" font-family="'Liberation Sans', sans-serif" font-size="9.7" stroke="#000" stroke-width="0.2" style="letter-spacing:0.75px">200</text>
<text x="378.47" y="243.29" font-family="'Liberation Sans', sans-serif" font-size="9.7" stroke="#000" stroke-width="0.2" style="letter-spacing:0.75px">400</text>
<text x="418.08" y="243.29" font-family="'Liberation Sans', sans-serif" font-size="9.7" stroke="#000" stroke-width="0.2" style="letter-spacing:0.75px">600</text>
<text x="457.86" y="243.29" font-family="'Liberation Sans', sans-serif" font-size="9.7" stroke="#000" stroke-width="0.2" style="letter-spacing:0.75px">800</text>
<text x="494.4" y="243.29" font-family="'Liberation Sans', sans-serif" font-size="9.7" stroke="#000" stroke-width="0.2" style="letter-spacing:0.75px">1000</text>
<path d="M307 230.2h-4.5M307 222.25h-2.5M307 214.3h-2.5M307 206.34h-2.5M307 198.39h-2.5M307 190.44h-4.5M307 182.49h-2.5M307 174.54h-2.5M307 166.58h-2.5M307 158.63h-2.5M307 150.68h-4.5M307 142.73h-2.5M307 134.78h-2.5M307 126.82h-2.5M307 118.87h-2.5M307 110.92h-4.5M307 102.97h-2.5M307 95.02h-2.5M307 87.06h-2.5M307 79.11h-2.5M307 71.16h-4.5M307 63.21h-2.5M307 55.26h-2.5M307 47.3h-2.5M307 39.35h-2.5M307 31.4h-4.5" stroke="#000" stroke-width="1.2" fill="none"/>
<text transform="translate(298.4 232.92) rotate(-90)" font-family="'Liberation Sans', sans-serif" font-size="9.7" stroke="#000" stroke-width="0.2" style="letter-spacing:0.75px">0</text>
<text transform="translate(298.4 199.34) rotate(-90)" font-family="'Liberation Sans', sans-serif" font-size="9.7" stroke="#000" stroke-width="0.2" style="letter-spacing:0.75px">200</text>
<text transform="translate(298.4 159.43) rotate(-90)" font-family="'Liberation Sans', sans-serif" font-size="9.7" stroke="#000" stroke-width="0.2" style="letter-spacing:0.75px">400</text>
<text transform="translate(298.4 119.82) rotate(-90)" font-family="'Liberation Sans', sans-serif" font-size="9.7" stroke="#000" stroke-width="0.2" style="letter-spacing:0.75px">600</text>
<text transform="translate(298.4 80.04) rotate(-90)" font-family="'Liberation Sans', sans-serif" font-size="9.7" stroke="#000" stroke-width="0.2" style="letter-spacing:0.75px">800</text>
<text transform="translate(298.4 43.5) rotate(-90)" font-family="'Liberation Sans', sans-serif" font-size="9.7" stroke="#000" stroke-width="0.2" style="letter-spacing:0.75px">1000</text>
<path d="M34.3 485.3h-4.5M34.3 477.19h-2.5M34.3 469.08h-2.5M34.3 460.96h-2.5M34.3 452.85h-2.5M34.3 444.74h-4.5M34.3 436.63h-2.5M34.3 428.52h-2.5M34.3 420.4h-2.5M34.3 412.29h-2.5M34.3 404.18h-4.5M34.3 396.07h-2.5M34.3 387.96h-2.5M34.3 379.84h-2.5M34.3 371.73h-2.5M34.3 363.62h-4.5M34.3 355.51h-2.5M34.3 347.4h-2.5M34.3 339.28h-2.5M34.3 331.17h-2.5M34.3 323.06h-4.5M34.3 314.95h-2.5M34.3 306.84h-2.5M34.3 298.72h-2.5M34.3 290.61h-2.5M34.3 282.5h-4.5" stroke="#000" stroke-width="1.2" fill="none"/>
<text transform="translate(25.1 488.02) rotate(-90)" font-family="'Liberation Sans', sans-serif" font-size="9.7" stroke="#000" stroke-width="0.2" style="letter-spacing:0.75px">0</text>
<text transform="translate(25.1 450.56) rotate(-90)" font-family="'Liberation Sans', sans-serif" font-size="9.7" stroke="#000" stroke-width="0.2" style="letter-spacing:0.75px">80</text>
<text transform="translate(25.1 413.2) rotate(-90)" font-family="'Liberation Sans', sans-serif" font-size="9.7" stroke="#000" stroke-width="0.2" style="letter-spacing:0.75px">160</text>
<text transform="translate(25.1 372.52) rotate(-90)" font-family="'Liberation Sans', sans-serif" font-size="9.7" stroke="#000" stroke-width="0.2" style="letter-spacing:0.75px">240</text>
<text transform="translate(25.1 331.91) rotate(-90)" font-family="'Liberation Sans', sans-serif" font-size="9.7" stroke="#000" stroke-width="0.2" style="letter-spacing:0.75px">320</text>
<text transform="translate(25.1 291.25) rotate(-90)" font-family="'Liberation Sans', sans-serif" font-size="9.7" stroke="#000" stroke-width="0.2" style="letter-spacing:0.75px">400</text>
<path d="M34.5 485.3v4.5M50.03 485.3v2.5M59.12 485.3v2.5M65.57 485.3v2.5M70.57 485.3v2.5M74.65 485.3v2.5M78.11 485.3v2.5M81.1 485.3v2.5M83.74 485.3v2.5M86.1 485.3v4.5M101.63 485.3v2.5M110.72 485.3v2.5M117.17 485.3v2.5M122.17 485.3v2.5M126.25 485.3v2.5M129.71 485.3v2.5M132.7 485.3v2.5M135.34 485.3v2.5M137.7 485.3v4.5M153.23 485.3v2.5M162.32 485.3v2.5M168.77 485.3v2.5M173.77 485.3v2.5M177.85 485.3v2.5M181.31 485.3v2.5M184.3 485.3v2.5M186.94 485.3v2.5M189.3 485.3v4.5M204.83 485.3v2.5M213.92 485.3v2.5M220.37 485.3v2.5M225.37 485.3v2.5M229.45 485.3v2.5M232.91 485.3v2.5M235.9 485.3v2.5M238.54 485.3v2.5M240.9 485.3v4.5" stroke="#000" stroke-width="1.2" fill="none"/>
<text x="24.98" y="500.99" font-family="'Liberation Sans', sans-serif" font-size="9.7" stroke="#000" stroke-width="0.2" style="letter-spacing:0.2px">10</text>
<text x="36.54" y="495.3" font-family="'Liberation Sans', sans-serif" font-size="9" stroke="#000" stroke-width="0.2">0</text>
<text x="76.58" y="500.99" font-family="'Liberation Sans', sans-serif" font-size="9.7" stroke="#000" stroke-width="0.2" style="letter-spacing:0.2px">10</text>
<text x="87.83" y="495.21" font-family="'Liberation Sans', sans-serif" font-size="9" stroke="#000" stroke-width="0.2">1</text>
<text x="128.18" y="500.99" font-family="'Liberation Sans', sans-serif" font-size="9.7" stroke="#000" stroke-width="0.2" style="letter-spacing:0.2px">10</text>
<text x="139.65" y="495.3" font-family="'Liberation Sans', sans-serif" font-size="9" stroke="#000" stroke-width="0.2">2</text>
<text x="179.78" y="500.99" font-family="'Liberation Sans', sans-serif" font-size="9.7" stroke="#000" stroke-width="0.2" style="letter-spacing:0.2px">10</text>
<text x="191.34" y="495.3" font-family="'Liberation Sans', sans-serif" font-size="9" stroke="#000" stroke-width="0.2">3</text>
<text x="231.38" y="500.99" font-family="'Liberation Sans', sans-serif" font-size="9.7" stroke="#000" stroke-width="0.2" style="letter-spacing:0.2px">10</text>
<text x="243.12" y="495.21" font-family="'Liberation Sans', sans-serif" font-size="9" stroke="#000" stroke-width="0.2">4</text>
<path d="M305.5 485.3h-4.5M305.5 477.18h-2.5M305.5 469.07h-2.5M305.5 460.95h-2.5M305.5 452.84h-2.5M305.5 444.72h-4.5M305.5 436.6h-2.5M305.5 428.49h-2.5M305.5 420.37h-2.5M305.5 412.26h-2.5M305.5 404.14h-4.5M305.5 396.02h-2.5M305.5 387.91h-2.5M305.5 379.79h-2.5M305.5 371.68h-2.5M305.5 363.56h-4.5M305.5 355.44h-2.5M305.5 347.33h-2.5M305.5 339.21h-2.5M305.5 331.1h-2.5M305.5 322.98h-4.5M305.5 314.86h-2.5M305.5 306.75h-2.5M305.5 298.63h-2.5M305.5 290.52h-2.5M305.5 282.4h-4.5" stroke="#000" stroke-width="1.2" fill="none"/>
<text transform="translate(297.3 488.02) rotate(-90)" font-family="'Liberation Sans', sans-serif" font-size="9.7" stroke="#000" stroke-width="0.2" style="letter-spacing:0.75px">0</text>
<text transform="translate(297.3 450.56) rotate(-90)" font-family="'Liberation Sans', sans-serif" font-size="9.7" stroke="#000" stroke-width="0.2" style="letter-spacing:0.75px">20</text>
<text transform="translate(297.3 409.84) rotate(-90)" font-family="'Liberation Sans', sans-serif" font-size="9.7" stroke="#000" stroke-width="0.2" style="letter-spacing:0.75px">40</text>
<text transform="translate(297.3 369.4) rotate(-90)" font-family="'Liberation Sans', sans-serif" font-size="9.7" stroke="#000" stroke-width="0.2" style="letter-spacing:0.75px">60</text>
<text transform="translate(297.3 328.8) rotate(-90)" font-family="'Liberation Sans', sans-serif" font-size="9.7" stroke="#000" stroke-width="0.2" style="letter-spacing:0.75px">80</text>
<text transform="translate(297.3 291.42) rotate(-90)" font-family="'Liberation Sans', sans-serif" font-size="9.7" stroke="#000" stroke-width="0.2" style="letter-spacing:0.75px">100</text>
<path d="M305.5 485.3v4.5M321.03 485.3v2.5M330.12 485.3v2.5M336.57 485.3v2.5M341.57 485.3v2.5M345.65 485.3v2.5M349.11 485.3v2.5M352.1 485.3v2.5M354.74 485.3v2.5M357.1 485.3v4.5M372.63 485.3v2.5M381.72 485.3v2.5M388.17 485.3v2.5M393.17 485.3v2.5M397.25 485.3v2.5M400.71 485.3v2.5M403.7 485.3v2.5M406.34 485.3v2.5M408.7 485.3v4.5M424.23 485.3v2.5M433.32 485.3v2.5M439.77 485.3v2.5M444.77 485.3v2.5M448.85 485.3v2.5M452.31 485.3v2.5M455.3 485.3v2.5M457.94 485.3v2.5M460.3 485.3v4.5M475.83 485.3v2.5M484.92 485.3v2.5M491.37 485.3v2.5M496.37 485.3v2.5M500.45 485.3v2.5M503.91 485.3v2.5M506.9 485.3v2.5M509.54 485.3v2.5M511.9 485.3v4.5" stroke="#000" stroke-width="1.2" fill="none"/>
<text x="295.98" y="500.99" font-family="'Liberation Sans', sans-serif" font-size="9.7" stroke="#000" stroke-width="0.2" style="letter-spacing:0.2px">10</text>
<text x="307.54" y="495.1" font-family="'Liberation Sans', sans-serif" font-size="9" stroke="#000" stroke-width="0.2">0</text>
<text x="347.58" y="500.99" font-family="'Liberation Sans', sans-serif" font-size="9.7" stroke="#000" stroke-width="0.2" style="letter-spacing:0.2px">10</text>
<text x="358.82" y="495.01" font-family="'Liberation Sans', sans-serif" font-size="9" stroke="#000" stroke-width="0.2">1</text>
<text x="399.18" y="500.99" font-family="'Liberation Sans', sans-serif" font-size="9.7" stroke="#000" stroke-width="0.2" style="letter-spacing:0.2px">10</text>
<text x="410.65" y="495.1" font-family="'Liberation Sans', sans-serif" font-size="9" stroke="#000" stroke-width="0.2">2</text>
<text x="450.78" y="500.99" font-family="'Liberation Sans', sans-serif" font-size="9.7" stroke="#000" stroke-width="0.2" style="letter-spacing:0.2px">10</text>
<text x="462.34" y="495.1" font-family="'Liberation Sans', sans-serif" font-size="9" stroke="#000" stroke-width="0.2">3</text>
<text x="502.38" y="500.99" font-family="'Liberation Sans', sans-serif" font-size="9.7" stroke="#000" stroke-width="0.2" style="letter-spacing:0.2px">10</text>
<text x="514.12" y="495.01" font-family="'Liberation Sans', sans-serif" font-size="9" stroke="#000" stroke-width="0.2">4</text>
<text x="111.46" y="11.73" font-family="'Liberation Serif', serif" font-size="14.28" font-weight="bold">JCML</text>
<text x="380.32" y="10.65" font-family="'Liberation Serif', serif" font-size="14.17" font-weight="bold">Normal</text>
<text x="144.82" y="50.41" font-family="'Liberation Serif', serif" font-size="11.69" font-weight="bold">R1</text>
<text x="419.02" y="46.04" font-family="'Liberation Serif', serif" font-size="12.03" font-weight="bold">R1</text>
<text transform="translate(11.17 163.32) rotate(-90)" font-family="'Liberation Serif', serif" font-size="14.35" font-weight="bold">FSC-Height</text>
<text transform="translate(283.7 162.22) rotate(-90)" font-family="'Liberation Serif', serif" font-size="14.39" font-weight="bold">FSC-Height</text>
<text x="101.71" y="261.27" font-family="'Liberation Serif', serif" font-size="14.34" font-weight="bold">SSC-Height</text>
<text x="375.01" y="260.37" font-family="'Liberation Serif', serif" font-size="14.34" font-weight="bold">SSC-Height</text>
<text transform="translate(10.75 416.6) rotate(-90)" font-family="'Liberation Serif', serif" font-size="14.03" font-weight="bold">Cell Counts</text>
<text transform="translate(282.79 419.51) rotate(-90)" font-family="'Liberation Serif', serif" font-size="14.23" font-weight="bold">Cell Counts</text>
<text x="115.67" y="515.23" font-family="'Liberation Serif', serif" font-size="12.28" font-weight="bold">c-Mpl</text>
<text x="390.87" y="516.01" font-family="'Liberation Serif', serif" font-size="12.24" font-weight="bold">c-Mpl</text>
<path d="M35 478V362" fill="none" stroke="#000" stroke-width="2.4"/>
<path d="M35 478.02 35.66 478.35 36.33 477.68 36.99 475.79 37.66 475.34 38.32 474.54 38.99 474.83 39.65 473.7 40.32 473.79 40.99 470.91 41.71 473.43 42.43 471.38 43.14 471.56 43.86 470.24 44.58 469.46 45.29 469.75 46.01 469.58 46.47 467.78 46.84 467.01 47.2 467.1 47.57 464.56 47.94 462.99 48.3 464.34 48.67 462.27 49.04 459.94 49.4 460.43 49.77 460.02 50.14 458.27 50.5 457.04 50.87 458.18 51.24 458.49 51.61 456.19 52.47 455.79 53.33 457.56 54.19 458.27 55.04 457.2 55.81 458.69 56.28 460.09 56.75 459.25 57.22 459.27 57.69 461.48 58.16 462.12 58.63 463.89 59.18 461.69 60.08 462.42 60.98 462.22 61.88 461.17 62.78 463.35 63.68 463.82 64.58 462.33 65.48 464.82 66.38 464.16 67.05 463.39 67.69 462.49 68.33 462.54 68.96 459.09 69.6 460.87 70.24 460.23 70.69 456.44 71.03 458.33 71.36 456.71 71.69 457.25 72.02 454.77 72.35 454.5 72.69 454.17 73.02 451.61 73.29 452.86 73.49 450.97 73.68 450.97 73.88 448.58 74.07 450.13 74.27 448.53 74.47 446.45 74.66 446.84 74.86 446.97 75.05 446.96 75.25 440.67 75.45 443.78 75.64 442.23 75.84 440.42 76.02 438 76.2 440.96 76.39 435.77 76.57 438.04 76.75 438.45 76.93 432.47 77.11 433.87 77.29 431.18 77.36 433.07 77.42 434.5 77.49 434.56 77.55 426.64 77.61 427.97 77.67 429.47 77.74 430.25 77.8 427.15 77.86 424.01 77.93 425.13 77.99 423.62 78.14 422.37 78.31 420.43 78.48 421.78 78.66 420.74 78.83 419.05 79 417.9 79.17 414.83 79.33 415.58 79.44 418.2 79.56 414.4 79.67 410.87 79.79 415.84 79.9 413.25 80.02 415.75 80.13 410.47 80.25 408.44 80.36 405.38 80.48 410.57 80.59 412.44 80.71 404.04 80.82 403.53 80.94 405.43 81.05 401.32 81.17 401.68 81.28 400.61 81.4 400.96 81.49 402.15 81.58 398.77 81.66 399.97 81.75 395.95 81.84 396.81 81.93 390.08 82.02 390.79 82.11 395.25 82.2 391.04 82.29 392.96 82.37 391.98 82.46 392.99 82.55 390.86 82.64 390.48 82.73 386.8 82.82 384.45 82.91 383.46 82.99 383.17 83.08 380.65 83.17 381.22 83.26 381.47 83.35 381.45 83.44 379.05 83.53 374.07 83.61 377.94 83.7 377.81 83.79 379.16 83.88 376.95 83.97 372.85 84.06 371.74 84.14 378.07 84.23 373.86 84.32 375.84 84.41 375.77 84.5 366.97 84.59 369.31 84.67 368.62 84.76 368 84.85 367.06 84.94 365.24 85.03 364.27 85.11 358.75 85.2 361.54 85.29 359.03 85.38 360.56 85.4 358 85.4 360.15 85.4 359.82 85.4 357.49 85.4 356.61 85.4 355.08 85.4 352.63 85.4 352.54 85.4 350.68 85.4 352.33 85.4 350.35 85.4 351.1 85.4 344.64 85.4 350.21 85.45 344.47 85.51 343.65 85.58 344.34 85.65 342.35 85.72 343.99 85.79 340.51 85.86 338.13 85.93 337.89 86 343.49 86.07 338.77 86.14 334.2 86.21 336.87 86.28 331.2 86.35 340.52 86.42 329.48 86.49 334.73 86.56 334.03 86.62 327.67 86.66 333.97 86.7 337 86.74 336.27 86.78 336.53 86.82 339.52 86.86 338.02 86.9 339.45 86.94 338.95 86.98 342.13 87.02 338.31 87.07 344.4 87.11 341.43 87.15 340.59 87.19 345.81 87.25 349.39 87.33 346.33 87.41 341.04 87.49 343.77 87.57 339.43 87.64 339.52 87.72 339.26 87.8 331.08 87.88 337.78 87.95 333.17 88.03 333.28 88.11 329.99 88.19 328.95 88.26 329.81 88.34 334.37 88.42 336.09 88.5 329.95 88.78 332.58 89.06 327.49 89.35 321.47 89.6 327.87 89.82 329.66 90.04 327.81 90.25 330.96 90.47 332.66 90.69 329.09 90.91 328.08 91.06 331.8 91.15 330.93 91.25 329.59 91.35 332.86 91.45 334.28 91.54 326.7 91.64 329.3 91.74 329.18 91.84 327.57 91.94 327.74 92.03 322.3 92.13 324.99 92.28 328.21 92.58 323.47 92.87 318.06 93.16 321.15 93.45 322.42 93.58 320.13 93.67 318.03 93.76 325.67 93.85 317.64 93.94 324.12 94.03 323.37 94.12 320.53 94.22 329.06 94.31 327.2 94.4 323.34 94.49 329.78 94.73 327.41 94.99 323.7 95.25 328.35 95.44 332.17 95.54 334.21 95.65 333.66 95.75 334.18 95.85 336.37 95.95 335.19 96.06 340.3 96.16 338.07 96.26 339.4 96.36 341.04 96.47 337.12 96.57 339.07 96.67 346.65 96.78 343.98 96.86 343.04 96.95 345.78 97.04 344.25 97.12 347.38 97.21 345.51 97.29 349.16 97.38 344.66 97.46 354.01 97.55 349.56 97.64 347.39 97.72 352.19 97.81 352.67 97.89 355.06 97.98 352.27 98.06 357.55 98.21 367.53 98.4 354.59 98.6 360.01 98.79 359.08 98.92 361.37 99.06 356.7 99.19 359.43 99.32 364.77 99.45 364.29 99.58 369.75 99.71 364.26 99.85 367.54 99.98 375.83 100.11 366.79 100.24 367.31 100.37 370.53 100.51 371.4 100.64 374.65 100.77 373.64 100.87 372.2 100.96 375.64 101.06 382.86 101.15 380.18 101.24 370.58 101.34 378.3 101.43 377.32 101.52 382.05 101.61 380.91 101.71 387.14 101.8 385.49 101.89 386.27 101.99 385.4 102.08 385.73 102.17 387.57 102.25 390.82 102.31 389.83 102.38 388.56 102.44 393.41 102.51 391.68 102.58 391.92 102.64 391.11 102.71 392.55 102.78 393.29 102.84 389.11 102.91 398.99 102.98 398.82 103.04 397.89 103.11 401.71 103.17 401.2 103.24 401.94 103.31 396.35 103.37 402.35 103.44 404.98 103.53 408.28 103.85 409.61 104.17 409.51 104.49 404.63 104.8 403.22 105.12 410.12 105.44 409.78 105.76 412.64 106.08 411.13 106.4 412.71 106.72 409.9 107.04 414.87 107.36 413.84 107.64 416.35 107.81 417.45 107.98 417.15 108.15 418.92 108.32 419.13 108.49 421.57 108.66 421.93 108.83 420.72 109 421.53 109.17 426.99 109.33 424.26 109.5 427.26 109.67 426.98 109.84 426.04 110.01 426.58 110.18 429.1 110.44 430.21 110.9 431.64 111.36 428.95 111.82 430.97 112.28 432.65 112.74 436.46 113.21 430.16 113.67 435.91 114.13 434.96 114.77 437.26 115.52 436.15 116.27 438.13 117.03 440.68 117.78 439.09 118.55 439.67 119.42 439.8 120.29 438.12 121.16 440.53 122.03 439.49 122.91 438.71 123.78 440.23 124.49 440.47 125.19 442.65 125.9 441.89 126.6 441.66 127.27 445.47 127.74 445.47 128.21 446.67 128.68 446.38 129.15 446.02 129.62 446.31 130.09 447.3 130.54 449.93 130.88 449.5 131.21 447.98 131.55 450.95 131.89 449.79 132.22 452.91 132.56 451.81 132.89 452.59 133.23 455.34 133.58 455.9 133.93 454.62 134.28 458.65 134.63 461.29 134.97 457.44 135.32 462.43 135.67 460.14 136.02 461.22 136.37 462.43 136.75 461.77 137.21 465.72 137.66 465.56 138.11 464.96 138.57 466.26 139.02 465.74 139.48 467.76 139.93 469.84 140.39 467.98 140.84 470.03 141.3 471.36 141.96 472.77 142.68 473.56 143.41 472.48 144.13 472.79 144.85 474.34 145.58 474.2 146.3 474.78 147.01 476.41 147.72 477.41 148.42 476.9 149.12 477.13 149.82 478.22 150.52 477.16 151.22 478.95 151.92 478.89 152.62 481.45 153.32 481.04 154.13 481.11 154.97 481.25 155.82 480.46 156.66 482.3 157.51 482.99 158.35 482.3 159.21 483.13 160.09 483.31 160.97 482.65 161.86 483.7 162.74 484 163.62 483.8 164.51 483.88 165.4 484.22 166.3 483.56 167.2 484.03 168.1 484.3 169 483.65 169.9 484.28 170.8 483.88 171.7 483.41 172.6 483.97 173.5 483.72 174.4 484.09 175.3 483.67 176.2 484.3 177.1 483.79 178 484.1 178.9 483.83 179.8 483.91 180.7 484.34 181.6 484.06 182.5 483.89 183.4 483.64 184.3 484.33 185.2 484.21 186.1 483.91 187 484.07 187.9 483.71 188.8 483.71 189.7 483.77 190.6 484.1 191.5 484.08 192.4 483.79 193.3 484.21 194.2 484.22 195.1 484.05 196 484.3 196.9 483.92 197.8 483.97 198.7 484.13 199.6 483.99 200.5 484.23 201.4 483.64 202.3 484.41 203.2 483.78 204.1 483.95 205 483.61 205.9 484.17 206.8 484.36 207.7 484.3 208.6 484.24 209.5 483.56 210.4 483.78 211.3 483.87 212.2 483.73 213.1 484.32 214 484.05 214.9 483.99 215.8 484.14 216.7 483.73 217.6 483.74 218.5 483.75 219.4 484.14 220.3 484.1 221.2 484.16 222.1 484.31 223 483.61 223.9 483.84 224.8 484.04 225.7 483.62 226.6 483.85 227.5 484.29 228.4 484.31 229.3 484.31 230.2 484.01 231.1 483.94 232 484.31 232.9 483.89 233.8 484.1 234.7 484.38 235.6 483.9 236.5 483.83 237.4 484 238.3 484.17 239.2 484.14" fill="none" stroke="#000" stroke-width="2.1" stroke-linejoin="round"/>
<path d="M35.3 283 35.3 460 36.8 456.5 40.1 443 42.2 430 42.2 420.8 44.2 415.4 46.9 406 47.6 383 49.6 373.5 50.3 356.8 52.3 346 56.4 335.1 59 331 61.8 329.7 63.8 340.5 65.8 351.4 67.2 359.5 68.5 369 69.9 372 71.9 387 73.2 403 75.3 416.8 77.3 419.5 78 436.2 81.4 451 86.8 470 92.2 475.4 96.2 478.8 100.8 482.4 110.3 483.5 130 484" fill="none" stroke="#000" stroke-width="1.6" stroke-dasharray="1.6 1.4"/>
<path d="M306.6 392V485M307.2 444V485" fill="none" stroke="#000" stroke-width="2.4"/>
<path d="M306.3 484 306 484.5 306.75 482.32 307.5 483.2 308.25 481.97 309 481.29 309.75 480.67 310.5 478.39 311.25 478.78 312 477.3 312.75 480.17 313.5 476.42 314.25 474.31 315 472.85 315.75 470.85 316.5 468.8 317.25 468.09 318 466.93 318.75 463.5 319.5 462.95 320.25 458.72 321 456.68 321.75 457.18 322.5 453.29 323.25 449.18 324 447.64 324.75 446.86 325.5 446.45 326.25 438.41 327 435.06 327.75 434.57 328.5 425.27 329.25 421.8 330 419.98 330.75 415.88 331.5 411.46 332.25 409.99 333 396.88 333.75 404.99 334.5 396.14 335.25 390.95 336 394.05 336.75 392.69 337.5 386.39 338.25 382.05 339 384.08 339.75 382.33 340.5 385.6 341.25 382.01 342 378.82 342.75 380.53 343.5 373.43 344.25 366.24 345 366.06 345.75 358.62 346.5 348.89 347.25 341.83 348 340.8 348.75 325.71 349.5 335.73 350.25 332.46 351 321.41 351.75 326.75 352.5 321.09 353.25 326.59 354 313.99 354.75 317.52 355.5 323.16 356.25 323.98 357 312.5 357.75 315.63 358.5 318.33 359.25 313.7 360 324.6 360.75 316.11 361.5 325.83 362.25 323.76 363 337.15 363.75 336.66 364.5 341.55 365.25 347.84 366 374.81 366.75 383.93 367.5 393.47 368.25 401.09 369 405.24 369.75 408.06 370.5 411.39 371.25 415.18 372 424.54 372.75 420.95 373.5 426.15 374.25 429.84 375 434.12 375.75 437.92 376.5 437.47 377.25 440.1 378 447.19 378.75 453.44 379.5 456.46 380.25 459.45 381 462 381.75 464.72 382.5 465.75 383.25 468.99 384 468.06 384.75 470.13 385.5 470.7 386.25 472.35 387 472.73 387.75 476.03 388.5 475.52 389.25 476.18 390 473.25 390.75 475.7 391.5 476.17 392.25 477.93 393 476.09 393.75 479.62 394.5 480.08 395.25 478.85 396 479.73 396.75 480.48 397.5 481.63 398.25 482.44 399 483.43 399.75 482.39 400.5 483.11 401.25 483.01 402 483.97 402.75 483.69 403.5 484.15 404.25 483.36" fill="none" stroke="#000" stroke-width="1.7" stroke-linejoin="miter"/>
<path d="M306.5 484V483.64H308.1V482.18H309.7V480.89H311.3V478.61H312.9V475.83H314.5V473.62H316.1V470.16H317.7V464.49H319.3V460.84H320.9V457.11H322.5V450.5H324.1V444.29H325.7V439.63H327.3V435.08H328.9V419H330.5V411.75H332.1V404.98H333.7V403.05H335.3V386.55H336.9V388.37H338.5V387.69H340.1V377.23H341.7V382.79H343.3V372.42H344.9V354.78H346.5V345.34H348.1V328.3H349.7V327.15H351.3V334.02H352.9V318.66H354.5V328.95H356.1V318.14H357.7V321.56H359.3V318.6H360.9V315.25H362.5V330.48H364.1V347.1H365.7V373.31H367.3V391.84H368.9V410.73H370.5V415.64H372.1V420.52H373.7V429.81H375.3V440.38H376.9V444.73H378.5V455.93H380.1V464.85H381.7V466.14H383.3V467.59H384.9V469.32H386.5V472.73H388.1V475.32H389.7V476.09H391.3V477.86H392.9V478.2H394.5V480.12H396.1V480.79H397.7V481.94H399.3V481.84H400.9V482.22H402.5V483.28H404.1V483.52H405.7" fill="none" stroke="#000" stroke-width="1.3"/>
<path d="M306.6 366.6V484" fill="none" stroke="#000" stroke-width="1.2" stroke-dasharray="1.3 0.9"/>
<path d="M306.9 483.81 307.65 483.09 308.4 483.73 309.15 482.65 309.9 481.38 310.65 480.51 311.4 480.25 312.15 478.4 312.9 477.24 313.65 477.56 314.4 478.58 315.15 474.42 315.9 472.54 316.65 470.25 317.4 468.45 318.15 469.29 318.9 467.45 319.65 463.87 320.4 461.97 321.15 459.24 321.9 456.88 322.65 451.71 323.4 451.44 324.15 450.35 324.9 446.47 325.65 444.81 326.4 440.67 327.15 438.27 327.9 437.54 328.65 431.28 329.4 427.06 330.15 424.61 330.9 419.35 331.65 418.89 332.4 405.44 333.15 410.52 333.9 403.61 334.65 402.39 335.4 401.49 336.15 399.28 336.9 396.4 337.65 390.98 338.4 392.9 339.15 384.59 339.9 383.55 340.65 385.1 341.4 379.19 342.15 386.67 342.9 381.56 343.65 384.08 344.4 374.04 345.15 368.12 345.9 364.59 346.65 359.17 347.4 347.5 348.15 346.25 348.9 339.85 349.65 341.84 350.4 330.38 351.15 334.67 351.9 325.41 352.65 322.62 353.4 322.12 354.15 318.65 354.9 322.91 355.65 325.51 356.4 320.92 357.15 321.79 357.9 325.18 358.65 318.81 359.4 317.78 360.15 315.1 360.9 312.5 361.65 324.12 362.4 317.25 363.15 330.6 363.9 331.51 364.65 341.14 365.4 342.72 366.15 351.13 366.9 370.24 367.65 379.64 368.4 390.56 369.15 397.8 369.9 403.84 370.65 409.32 371.4 411.31 372.15 416.79 372.9 415.52 373.65 424.21 374.4 424.68 375.15 433.26 375.9 436.53 376.65 432.27 377.4 440.47 378.15 443.42 378.9 445.13 379.65 452.16 380.4 454.32 381.15 456.19 381.9 462.07 382.65 464.07 383.4 466.24 384.15 466.25 384.9 469.88 385.65 470.88 386.4 469.44 387.15 470.93 387.9 472.38 388.65 472.55 389.4 475.78 390.15 474.83 390.9 474.3 391.65 475.26 392.4 476.69 393.15 479.51 393.9 477.9 394.65 478.75 395.4 479.64 396.15 479.8 396.9 482.04 397.65 480.66 398.4 482.06 399.15 482.16 399.9 482.63 400.65 481.87 401.4 483.63 402.15 482.87 402.9 483.16 403.65 482.94 404.4 483.26 405.15 484.01" fill="none" stroke="#000" stroke-width="1.2" stroke-dasharray="1.3 0.9"/>
<path d="M306 483.88 306.75 483.44 307.5 483 308.25 482.29 309 481.57 309.75 480.82 310.5 479.89 311.25 478.97 312 478.05 312.75 477.12 313.5 476.2 314.25 474.68 315 473.16 315.75 471.64 316.5 470.12 317.25 468.6 318 466.26 318.75 463.85 319.5 461.45 320.25 459.04 321 456.64 321.75 454.43 322.5 452.29 323.25 450.14 324 448 324.75 445.77 325.5 442.39 326.25 439 327 435.61 327.75 432.23 328.5 427.43 329.25 422.54 330 417.65 330.75 414.31 331.5 411.21 332.25 408.1 333 405 333.75 402 334.5 399 335.25 396 336 393.2 336.75 390.5 337.5 387.8 338.25 385.5 339 384 339.75 382.5 340.5 381 341.25 379.55 342 378.18 342.75 376.82 343.5 374.12 344.25 369.44 345 364 345.75 356.5 346.5 349.7 347.25 344.8 348 339.91 348.75 335.5 349.5 333 350.25 330.5 351 328 351.75 326.5 352.5 325 353.25 323.5 354 322.31 354.75 321.28 355.5 320.24 356.25 319.21 357 318.42 357.75 317.69 358.5 316.97 359.25 316.24 360 318 360.75 321 361.5 324.39 362.25 327.98 363 331.57 363.75 336.74 364.5 342.98 365.25 354.15 366 369 366.75 381.47 367.5 391.12 368.25 397.68 369 404.23 369.75 409.84 370.5 413.57 371.25 417.29 372 421.02 372.75 424.6 373.5 427.6 374.25 430.6 375 433.6 375.75 436.63 376.5 440.16 377.25 443.68 378 447.2 378.75 451.16 379.5 455.13 380.25 459.09 381 462.48 381.75 464.29 382.5 466.09 383.25 467.9 384 469.08 384.75 469.96 385.5 470.83 386.25 471.71 387 472.47 387.75 473.19 388.5 473.9 389.25 474.61 390 475.32 390.75 476.03 391.5 476.74 392.25 477.45 393 478.05 393.75 478.64 394.5 479.24 395.25 479.83 396 480.42 396.75 481.01 397.5 481.61 398.25 482.07 399 482.29 399.75 482.5 400.5 482.71 401.25 482.93 402 483.14 402.75 483.36 403.5 483.57 404.25 483.79" fill="none" stroke="#000" stroke-width="1.8"/>
<path d="M405 484 427.7 484 429.7 482 431.7 484 445.7 484 447.7 482 449.7 484 452.9 484 454.9 482 456.9 484 472.1 484 474.1 482 476.1 484 489 484 491 482 493 484 492.6 484 494.6 482 496.6 484 498.6 484 500.6 482 502.6 484 504 484 506 480 508 476 509.5 473.5 511 476 511 484" fill="none" stroke="#000" stroke-width="1.8" stroke-linejoin="round"/>
</svg>
</body></html>
